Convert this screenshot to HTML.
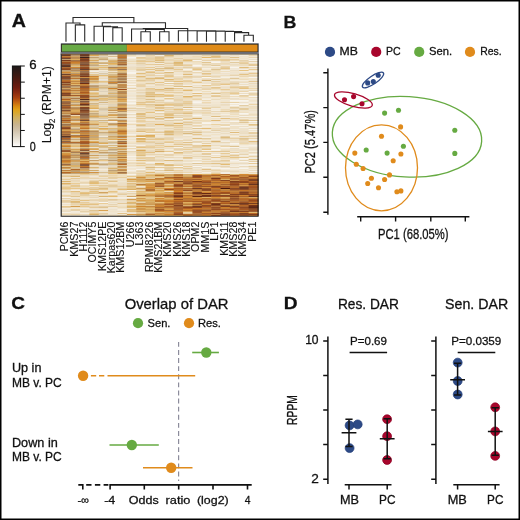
<!DOCTYPE html>
<html><head><meta charset="utf-8"><title>Figure</title>
<style>html,body{margin:0;padding:0;background:#fff;width:520px;height:520px;overflow:hidden;font-family:"Liberation Sans",sans-serif}
svg{display:block;will-change:transform}</style></head><body>
<svg width="520" height="520" viewBox="0 0 520 520">
<rect width="520" height="520" fill="#fff"/>
<style>text{stroke:#111;stroke-width:0.28px} .hl text,text.lt{stroke-width:0.12px}</style><g font-family='"Liberation Sans", sans-serif' fill="#111">
<text x="11.82" y="27.20" font-size="17.60" font-weight="bold" textLength="14.19" lengthAdjust="spacingAndGlyphs">A</text><text x="283.62" y="27.60" font-size="17.00" font-weight="bold" textLength="12.87" lengthAdjust="spacingAndGlyphs">B</text><text x="11.38" y="308.90" font-size="17.20" font-weight="bold" textLength="13.75" lengthAdjust="spacingAndGlyphs">C</text><text x="283.81" y="309.10" font-size="17.00" font-weight="bold" textLength="13.82" lengthAdjust="spacingAndGlyphs">D</text>
<path d="M75.35 41.80V24.90H84.72V41.80 M65.98 41.80V23.00H80.03V24.90 M112.82 41.80V27.70H122.18V41.80 M103.45 41.80V26.70H117.50V27.70 M94.08 41.80V26.20H110.47V26.70 M140.92 41.80V31.80H150.28V41.80 M159.65 41.80V31.80H169.02V41.80 M145.60 31.80V29.40H164.33V31.80 M131.55 41.80V29.00H154.97V29.40 M243.95 41.80V35.30H253.32V41.80 M234.58 41.80V32.60H248.63V35.30 M225.22 41.80V31.50H241.61V32.60 M215.85 41.80V31.30H233.41V31.50 M206.48 41.80V31.10H224.63V31.30 M197.12 41.80V30.90H215.56V31.10 M187.75 41.80V30.80H206.34V30.90 M178.38 41.80V30.70H197.04V30.80 M143.26 29.00V28.50H187.71V30.70 M102.28 26.20V22.70H165.49V28.50 M73.01 23.00V17.50H133.88V22.70" fill="none" stroke="#2a2a2a" stroke-width="1.1"/>
<rect x="60.6" y="42.9" width="198.4" height="11.1" rx="1" fill="#959ba8"/>
<rect x="60.6" y="52.2" width="198.4" height="1.7" fill="#8a91a2"/>
<rect x="61.05" y="43.75" width="197.3" height="8.6" fill="#2e2a22"/>
<rect x="61.95" y="44.65" width="64.92" height="6.9" fill="#68aa46"/>
<rect x="126.87" y="44.65" width="130.58" height="6.9" fill="#df8b19"/>
<rect x="61.30" y="54" width="9.97" height="1" fill="#995022"/>
<rect x="61.30" y="55" width="9.97" height="1" fill="#653b29"/>
<rect x="61.30" y="56" width="9.97" height="1" fill="#bf7f3a"/>
<rect x="61.30" y="57" width="9.97" height="1" fill="#a35a28"/>
<rect x="61.30" y="58" width="9.97" height="1" fill="#714833"/>
<rect x="61.30" y="59" width="9.97" height="1" fill="#c2a070"/>
<rect x="61.30" y="60" width="9.97" height="1" fill="#7b3a1d"/>
<rect x="61.30" y="61" width="9.97" height="1" fill="#b27840"/>
<rect x="61.30" y="62" width="9.97" height="1" fill="#9b4b1c"/>
<rect x="61.30" y="63" width="9.97" height="1" fill="#934f26"/>
<rect x="61.30" y="64" width="9.97" height="1" fill="#825b42"/>
<rect x="61.30" y="65" width="9.97" height="1" fill="#6e3720"/>
<rect x="61.30" y="66" width="9.97" height="1" fill="#563529"/>
<rect x="61.30" y="67" width="9.97" height="1" fill="#b06f36"/>
<rect x="61.30" y="68" width="9.97" height="1" fill="#9a5124"/>
<rect x="61.30" y="69" width="9.97" height="1" fill="#8b4620"/>
<rect x="61.30" y="70" width="9.97" height="1" fill="#c09d6f"/>
<rect x="61.30" y="71" width="9.97" height="1" fill="#cc9d5d"/>
<rect x="61.30" y="72" width="9.97" height="1" fill="#cf852f"/>
<rect x="61.30" y="73" width="9.97" height="1" fill="#bf9058"/>
<rect x="61.30" y="74" width="9.97" height="1" fill="#6e422c"/>
<rect x="61.30" y="75" width="9.97" height="1" fill="#b97e41"/>
<rect x="61.30" y="76" width="9.97" height="1" fill="#8d4b27"/>
<rect x="61.30" y="77" width="9.97" height="1" fill="#764a33"/>
<rect x="61.30" y="78" width="9.97" height="1" fill="#894b28"/>
<rect x="61.30" y="79" width="9.97" height="1" fill="#946d4d"/>
<rect x="61.30" y="80" width="9.97" height="1" fill="#bb702b"/>
<rect x="61.30" y="81" width="9.97" height="1" fill="#b06429"/>
<rect x="61.30" y="82" width="9.97" height="1" fill="#853f1d"/>
<rect x="61.30" y="83" width="9.97" height="1" fill="#a87d51"/>
<rect x="61.30" y="84" width="9.97" height="1" fill="#8e4d28"/>
<rect x="61.30" y="85" width="9.97" height="1" fill="#b27a43"/>
<rect x="61.30" y="86" width="9.97" height="1" fill="#977251"/>
<rect x="61.30" y="87" width="9.97" height="1" fill="#a16c40"/>
<rect x="61.30" y="88" width="9.97" height="1" fill="#d0a564"/>
<rect x="61.30" y="89" width="9.97" height="1" fill="#a27851"/>
<rect x="61.30" y="90" width="9.97" height="1" fill="#ae672e"/>
<rect x="61.30" y="91" width="9.97" height="1" fill="#c9893e"/>
<rect x="61.30" y="92" width="9.97" height="1" fill="#b67031"/>
<rect x="61.30" y="93" width="9.97" height="1" fill="#7e4225"/>
<rect x="61.30" y="94" width="9.97" height="1" fill="#925029"/>
<rect x="61.30" y="95" width="9.97" height="1" fill="#804627"/>
<rect x="61.30" y="96" width="9.97" height="1" fill="#ce9e5c"/>
<rect x="61.30" y="97" width="9.97" height="1" fill="#bfa177"/>
<rect x="61.30" y="98" width="9.97" height="1" fill="#c59253"/>
<rect x="61.30" y="99" width="9.97" height="1" fill="#af5d21"/>
<rect x="61.30" y="100" width="9.97" height="1" fill="#d8963f"/>
<rect x="61.30" y="101" width="9.97" height="1" fill="#9e7149"/>
<rect x="61.30" y="102" width="9.97" height="1" fill="#986641"/>
<rect x="61.30" y="103" width="9.97" height="1" fill="#9a6037"/>
<rect x="61.30" y="104" width="9.97" height="1" fill="#b37c44"/>
<rect x="61.30" y="105" width="9.97" height="1" fill="#88593c"/>
<rect x="61.30" y="106" width="9.97" height="1" fill="#ac652d"/>
<rect x="61.30" y="107" width="9.97" height="1" fill="#985328"/>
<rect x="61.30" y="108" width="9.97" height="1" fill="#a0673b"/>
<rect x="61.30" y="109" width="9.97" height="1" fill="#b88b57"/>
<rect x="61.30" y="110" width="9.97" height="1" fill="#834e30"/>
<rect x="61.30" y="111" width="9.97" height="1" fill="#b98043"/>
<rect x="61.30" y="112" width="9.97" height="1" fill="#cd9d5d"/>
<rect x="61.30" y="113" width="9.97" height="1" fill="#bf8848"/>
<rect x="61.30" y="114" width="9.97" height="1" fill="#cfaf7c"/>
<rect x="61.30" y="115" width="9.97" height="1" fill="#a17750"/>
<rect x="61.30" y="116" width="9.97" height="1" fill="#a0673b"/>
<rect x="61.30" y="117" width="9.97" height="1" fill="#b38f65"/>
<rect x="61.30" y="118" width="9.97" height="1" fill="#c1762c"/>
<rect x="61.30" y="119" width="9.97" height="1" fill="#c38945"/>
<rect x="61.30" y="120" width="9.97" height="1" fill="#a15220"/>
<rect x="61.30" y="121" width="9.97" height="1" fill="#b8874f"/>
<rect x="61.30" y="122" width="9.97" height="1" fill="#c2792f"/>
<rect x="61.30" y="123" width="9.97" height="1" fill="#ceaf7d"/>
<rect x="61.30" y="124" width="9.97" height="1" fill="#9c734e"/>
<rect x="61.30" y="125" width="9.97" height="1" fill="#a7835c"/>
<rect x="61.30" y="126" width="9.97" height="1" fill="#bf813f"/>
<rect x="61.30" y="127" width="9.97" height="1" fill="#915430"/>
<rect x="61.30" y="128" width="9.97" height="1" fill="#8b441e"/>
<rect x="61.30" y="129" width="9.97" height="1" fill="#c18541"/>
<rect x="61.30" y="130" width="9.97" height="1" fill="#d59f52"/>
<rect x="61.30" y="131" width="9.97" height="1" fill="#b37034"/>
<rect x="61.30" y="132" width="9.97" height="1" fill="#a86f3e"/>
<rect x="61.30" y="133" width="9.97" height="1" fill="#ba7e40"/>
<rect x="61.30" y="134" width="9.97" height="1" fill="#98613a"/>
<rect x="61.30" y="135" width="9.97" height="1" fill="#ae733e"/>
<rect x="61.30" y="136" width="9.97" height="1" fill="#5a3425"/>
<rect x="61.30" y="137" width="9.97" height="1" fill="#825b43"/>
<rect x="61.30" y="138" width="9.97" height="1" fill="#b26023"/>
<rect x="61.30" y="139" width="9.97" height="1" fill="#9a6b46"/>
<rect x="61.30" y="140" width="9.97" height="1" fill="#c7914d"/>
<rect x="61.30" y="141" width="9.97" height="1" fill="#8d6447"/>
<rect x="61.30" y="142" width="9.97" height="1" fill="#b26629"/>
<rect x="61.30" y="143" width="9.97" height="1" fill="#b38e62"/>
<rect x="61.30" y="144" width="9.97" height="1" fill="#e2ba72"/>
<rect x="61.30" y="145" width="9.97" height="1" fill="#d69642"/>
<rect x="61.30" y="146" width="9.97" height="1" fill="#c87e2c"/>
<rect x="61.30" y="147" width="9.97" height="1" fill="#c9b088"/>
<rect x="61.30" y="148" width="9.97" height="1" fill="#d9a04f"/>
<rect x="61.30" y="149" width="9.97" height="1" fill="#be9b6d"/>
<rect x="61.30" y="150" width="9.97" height="1" fill="#9b5d32"/>
<rect x="61.30" y="151" width="9.97" height="1" fill="#9a572b"/>
<rect x="61.30" y="152" width="9.97" height="1" fill="#dcb670"/>
<rect x="61.30" y="153" width="9.97" height="1" fill="#d49645"/>
<rect x="61.30" y="154" width="9.97" height="1" fill="#d2903d"/>
<rect x="61.30" y="155" width="9.97" height="1" fill="#c37b30"/>
<rect x="61.30" y="156" width="9.97" height="1" fill="#b16e33"/>
<rect x="61.30" y="157" width="9.97" height="1" fill="#b16e33"/>
<rect x="61.30" y="158" width="9.97" height="1" fill="#c08948"/>
<rect x="61.30" y="159" width="9.97" height="1" fill="#d59d4f"/>
<rect x="61.30" y="160" width="9.97" height="1" fill="#bd7834"/>
<rect x="61.30" y="161" width="9.97" height="1" fill="#c97b29"/>
<rect x="61.30" y="162" width="9.97" height="1" fill="#d09040"/>
<rect x="61.30" y="163" width="9.97" height="1" fill="#cb9b5c"/>
<rect x="61.30" y="164" width="9.97" height="1" fill="#986b47"/>
<rect x="61.30" y="165" width="9.97" height="1" fill="#c68f4b"/>
<rect x="61.30" y="166" width="9.97" height="1" fill="#e0c797"/>
<rect x="61.30" y="167" width="9.97" height="1" fill="#be8645"/>
<rect x="61.30" y="168" width="9.97" height="1" fill="#d3a45f"/>
<rect x="61.30" y="169" width="9.97" height="1" fill="#ddceb3"/>
<rect x="61.30" y="170" width="9.97" height="1" fill="#be803e"/>
<rect x="61.30" y="171" width="9.97" height="1" fill="#dbb777"/>
<rect x="61.30" y="172" width="9.97" height="1" fill="#b56726"/>
<rect x="61.30" y="173" width="9.97" height="1" fill="#bd935e"/>
<rect x="61.30" y="174" width="9.97" height="1" fill="#efdfc2"/>
<rect x="61.30" y="175" width="9.97" height="1" fill="#e5d0aa"/>
<rect x="61.30" y="176" width="9.97" height="1" fill="#e5c68e"/>
<rect x="61.30" y="177" width="9.97" height="1" fill="#f0e4ce"/>
<rect x="61.30" y="178" width="9.97" height="1" fill="#eedfc1"/>
<rect x="61.30" y="179" width="9.97" height="1" fill="#e6cb9a"/>
<rect x="61.30" y="180" width="9.97" height="1" fill="#ebdfc7"/>
<rect x="61.30" y="181" width="9.97" height="1" fill="#dbb169"/>
<rect x="61.30" y="182" width="9.97" height="1" fill="#eddcbe"/>
<rect x="61.30" y="183" width="9.97" height="1" fill="#ddb166"/>
<rect x="61.30" y="184" width="9.97" height="1" fill="#e5ca99"/>
<rect x="61.30" y="185" width="9.97" height="1" fill="#ecddc0"/>
<rect x="61.30" y="186" width="9.97" height="1" fill="#ebd3a6"/>
<rect x="61.30" y="187" width="9.97" height="1" fill="#e6c891"/>
<rect x="61.30" y="188" width="9.97" height="1" fill="#e7c588"/>
<rect x="61.30" y="189" width="9.97" height="1" fill="#ebd2a5"/>
<rect x="61.30" y="190" width="9.97" height="1" fill="#eee0c7"/>
<rect x="61.30" y="191" width="9.97" height="1" fill="#e8d4ad"/>
<rect x="61.30" y="192" width="9.97" height="1" fill="#ebddc2"/>
<rect x="61.30" y="193" width="9.97" height="1" fill="#f1e8d8"/>
<rect x="61.30" y="194" width="9.97" height="1" fill="#eee4d1"/>
<rect x="61.30" y="195" width="9.97" height="1" fill="#ead2a5"/>
<rect x="61.30" y="196" width="9.97" height="1" fill="#ecd7b0"/>
<rect x="61.30" y="197" width="9.97" height="1" fill="#f6f1e9"/>
<rect x="61.30" y="198" width="9.97" height="1" fill="#e6d1aa"/>
<rect x="61.30" y="199" width="9.97" height="1" fill="#efe4d0"/>
<rect x="61.30" y="200" width="9.97" height="1" fill="#e7cea2"/>
<rect x="61.30" y="201" width="9.97" height="1" fill="#e4cda3"/>
<rect x="61.30" y="202" width="9.97" height="1" fill="#e9d5b1"/>
<rect x="61.30" y="203" width="9.97" height="1" fill="#f2ebde"/>
<rect x="61.30" y="204" width="9.97" height="1" fill="#efe2c8"/>
<rect x="61.30" y="205" width="9.97" height="1" fill="#f4ebda"/>
<rect x="61.30" y="206" width="9.97" height="1" fill="#e6c68c"/>
<rect x="61.30" y="207" width="9.97" height="1" fill="#e5d0aa"/>
<rect x="61.30" y="208" width="9.97" height="1" fill="#f3ebdc"/>
<rect x="61.30" y="209" width="9.97" height="1" fill="#eee2cb"/>
<rect x="61.30" y="210" width="9.97" height="1" fill="#ecdec5"/>
<rect x="61.30" y="211" width="9.97" height="1" fill="#ebddc2"/>
<rect x="61.30" y="212" width="9.97" height="1" fill="#f5f0e6"/>
<rect x="61.30" y="213" width="9.97" height="1" fill="#efdfc0"/>
<rect x="61.30" y="214" width="9.97" height="1" fill="#edd9b4"/>
<rect x="61.30" y="215" width="9.97" height="1" fill="#f1e7d3"/>
<rect x="70.67" y="54" width="9.97" height="1" fill="#b88a55"/>
<rect x="70.67" y="55" width="9.97" height="1" fill="#b5946b"/>
<rect x="70.67" y="56" width="9.97" height="1" fill="#cfa364"/>
<rect x="70.67" y="57" width="9.97" height="1" fill="#ba8a52"/>
<rect x="70.67" y="58" width="9.97" height="1" fill="#be8f56"/>
<rect x="70.67" y="59" width="9.97" height="1" fill="#deaf60"/>
<rect x="70.67" y="60" width="9.97" height="1" fill="#a17248"/>
<rect x="70.67" y="61" width="9.97" height="1" fill="#b67334"/>
<rect x="70.67" y="62" width="9.97" height="1" fill="#cc802c"/>
<rect x="70.67" y="63" width="9.97" height="1" fill="#ca8a3d"/>
<rect x="70.67" y="64" width="9.97" height="1" fill="#c59d67"/>
<rect x="70.67" y="65" width="9.97" height="1" fill="#dab16b"/>
<rect x="70.67" y="66" width="9.97" height="1" fill="#dcbf8b"/>
<rect x="70.67" y="67" width="9.97" height="1" fill="#cf8733"/>
<rect x="70.67" y="68" width="9.97" height="1" fill="#a5815b"/>
<rect x="70.67" y="69" width="9.97" height="1" fill="#bb9a70"/>
<rect x="70.67" y="70" width="9.97" height="1" fill="#b58b59"/>
<rect x="70.67" y="71" width="9.97" height="1" fill="#c1a67e"/>
<rect x="70.67" y="72" width="9.97" height="1" fill="#dcb36a"/>
<rect x="70.67" y="73" width="9.97" height="1" fill="#b9986d"/>
<rect x="70.67" y="74" width="9.97" height="1" fill="#ce8836"/>
<rect x="70.67" y="75" width="9.97" height="1" fill="#ae753f"/>
<rect x="70.67" y="76" width="9.97" height="1" fill="#b28757"/>
<rect x="70.67" y="77" width="9.97" height="1" fill="#cea568"/>
<rect x="70.67" y="78" width="9.97" height="1" fill="#bb7432"/>
<rect x="70.67" y="79" width="9.97" height="1" fill="#ccb48a"/>
<rect x="70.67" y="80" width="9.97" height="1" fill="#dea855"/>
<rect x="70.67" y="81" width="9.97" height="1" fill="#c28948"/>
<rect x="70.67" y="82" width="9.97" height="1" fill="#dcac60"/>
<rect x="70.67" y="83" width="9.97" height="1" fill="#c7883f"/>
<rect x="70.67" y="84" width="9.97" height="1" fill="#e3b96d"/>
<rect x="70.67" y="85" width="9.97" height="1" fill="#a8794c"/>
<rect x="70.67" y="86" width="9.97" height="1" fill="#bd9e73"/>
<rect x="70.67" y="87" width="9.97" height="1" fill="#cdad7a"/>
<rect x="70.67" y="88" width="9.97" height="1" fill="#c3853e"/>
<rect x="70.67" y="89" width="9.97" height="1" fill="#d4a968"/>
<rect x="70.67" y="90" width="9.97" height="1" fill="#be7f3b"/>
<rect x="70.67" y="91" width="9.97" height="1" fill="#d3aa6a"/>
<rect x="70.67" y="92" width="9.97" height="1" fill="#daa556"/>
<rect x="70.67" y="93" width="9.97" height="1" fill="#b68c5b"/>
<rect x="70.67" y="94" width="9.97" height="1" fill="#ddb772"/>
<rect x="70.67" y="95" width="9.97" height="1" fill="#a35c2a"/>
<rect x="70.67" y="96" width="9.97" height="1" fill="#d6ac6a"/>
<rect x="70.67" y="97" width="9.97" height="1" fill="#cab48d"/>
<rect x="70.67" y="98" width="9.97" height="1" fill="#af7b48"/>
<rect x="70.67" y="99" width="9.97" height="1" fill="#ccb48b"/>
<rect x="70.67" y="100" width="9.97" height="1" fill="#c19964"/>
<rect x="70.67" y="101" width="9.97" height="1" fill="#e0b05f"/>
<rect x="70.67" y="102" width="9.97" height="1" fill="#c8a775"/>
<rect x="70.67" y="103" width="9.97" height="1" fill="#dcc69f"/>
<rect x="70.67" y="104" width="9.97" height="1" fill="#bea075"/>
<rect x="70.67" y="105" width="9.97" height="1" fill="#d49847"/>
<rect x="70.67" y="106" width="9.97" height="1" fill="#e3c897"/>
<rect x="70.67" y="107" width="9.97" height="1" fill="#be9561"/>
<rect x="70.67" y="108" width="9.97" height="1" fill="#b9874e"/>
<rect x="70.67" y="109" width="9.97" height="1" fill="#d09a51"/>
<rect x="70.67" y="110" width="9.97" height="1" fill="#dbab5e"/>
<rect x="70.67" y="111" width="9.97" height="1" fill="#d9a75a"/>
<rect x="70.67" y="112" width="9.97" height="1" fill="#c69251"/>
<rect x="70.67" y="113" width="9.97" height="1" fill="#bc7631"/>
<rect x="70.67" y="114" width="9.97" height="1" fill="#8e512d"/>
<rect x="70.67" y="115" width="9.97" height="1" fill="#ecd8b4"/>
<rect x="70.67" y="116" width="9.97" height="1" fill="#d3a35e"/>
<rect x="70.67" y="117" width="9.97" height="1" fill="#dba555"/>
<rect x="70.67" y="118" width="9.97" height="1" fill="#d1ae74"/>
<rect x="70.67" y="119" width="9.97" height="1" fill="#bb976a"/>
<rect x="70.67" y="120" width="9.97" height="1" fill="#ca9451"/>
<rect x="70.67" y="121" width="9.97" height="1" fill="#e5d4b4"/>
<rect x="70.67" y="122" width="9.97" height="1" fill="#e6c486"/>
<rect x="70.67" y="123" width="9.97" height="1" fill="#cc8f44"/>
<rect x="70.67" y="124" width="9.97" height="1" fill="#bf8646"/>
<rect x="70.67" y="125" width="9.97" height="1" fill="#c9a26a"/>
<rect x="70.67" y="126" width="9.97" height="1" fill="#d8ad66"/>
<rect x="70.67" y="127" width="9.97" height="1" fill="#e5cc9f"/>
<rect x="70.67" y="128" width="9.97" height="1" fill="#ceb995"/>
<rect x="70.67" y="129" width="9.97" height="1" fill="#c09e70"/>
<rect x="70.67" y="130" width="9.97" height="1" fill="#dfad5b"/>
<rect x="70.67" y="131" width="9.97" height="1" fill="#c59f6b"/>
<rect x="70.67" y="132" width="9.97" height="1" fill="#b78148"/>
<rect x="70.67" y="133" width="9.97" height="1" fill="#e2b666"/>
<rect x="70.67" y="134" width="9.97" height="1" fill="#dfd1b6"/>
<rect x="70.67" y="135" width="9.97" height="1" fill="#a77d52"/>
<rect x="70.67" y="136" width="9.97" height="1" fill="#c77d2e"/>
<rect x="70.67" y="137" width="9.97" height="1" fill="#d8a254"/>
<rect x="70.67" y="138" width="9.97" height="1" fill="#d8c8ab"/>
<rect x="70.67" y="139" width="9.97" height="1" fill="#c9a774"/>
<rect x="70.67" y="140" width="9.97" height="1" fill="#e4d1ad"/>
<rect x="70.67" y="141" width="9.97" height="1" fill="#d9bd8a"/>
<rect x="70.67" y="142" width="9.97" height="1" fill="#b26b2e"/>
<rect x="70.67" y="143" width="9.97" height="1" fill="#ba986d"/>
<rect x="70.67" y="144" width="9.97" height="1" fill="#e6c994"/>
<rect x="70.67" y="145" width="9.97" height="1" fill="#e0bf84"/>
<rect x="70.67" y="146" width="9.97" height="1" fill="#e1b871"/>
<rect x="70.67" y="147" width="9.97" height="1" fill="#ebd7b2"/>
<rect x="70.67" y="148" width="9.97" height="1" fill="#e3cb9f"/>
<rect x="70.67" y="149" width="9.97" height="1" fill="#d5a156"/>
<rect x="70.67" y="150" width="9.97" height="1" fill="#ddba7a"/>
<rect x="70.67" y="151" width="9.97" height="1" fill="#ca9858"/>
<rect x="70.67" y="152" width="9.97" height="1" fill="#a87f56"/>
<rect x="70.67" y="153" width="9.97" height="1" fill="#d7b478"/>
<rect x="70.67" y="154" width="9.97" height="1" fill="#c1a57d"/>
<rect x="70.67" y="155" width="9.97" height="1" fill="#bc8f58"/>
<rect x="70.67" y="156" width="9.97" height="1" fill="#d1aa6d"/>
<rect x="70.67" y="157" width="9.97" height="1" fill="#c29861"/>
<rect x="70.67" y="158" width="9.97" height="1" fill="#dac299"/>
<rect x="70.67" y="159" width="9.97" height="1" fill="#c2a67c"/>
<rect x="70.67" y="160" width="9.97" height="1" fill="#d09d56"/>
<rect x="70.67" y="161" width="9.97" height="1" fill="#d0a361"/>
<rect x="70.67" y="162" width="9.97" height="1" fill="#d3bc92"/>
<rect x="70.67" y="163" width="9.97" height="1" fill="#ceb180"/>
<rect x="70.67" y="164" width="9.97" height="1" fill="#c6ae87"/>
<rect x="70.67" y="165" width="9.97" height="1" fill="#d8b06b"/>
<rect x="70.67" y="166" width="9.97" height="1" fill="#dcb269"/>
<rect x="70.67" y="167" width="9.97" height="1" fill="#d5be94"/>
<rect x="70.67" y="168" width="9.97" height="1" fill="#dbbe8b"/>
<rect x="70.67" y="169" width="9.97" height="1" fill="#b36b2c"/>
<rect x="70.67" y="170" width="9.97" height="1" fill="#c29861"/>
<rect x="70.67" y="171" width="9.97" height="1" fill="#bc9e74"/>
<rect x="70.67" y="172" width="9.97" height="1" fill="#cd8b3c"/>
<rect x="70.67" y="173" width="9.97" height="1" fill="#c1a77f"/>
<rect x="70.67" y="174" width="9.97" height="1" fill="#edd9b5"/>
<rect x="70.67" y="175" width="9.97" height="1" fill="#e8d1a7"/>
<rect x="70.67" y="176" width="9.97" height="1" fill="#dab573"/>
<rect x="70.67" y="177" width="9.97" height="1" fill="#eee5d3"/>
<rect x="70.67" y="178" width="9.97" height="1" fill="#e7c891"/>
<rect x="70.67" y="179" width="9.97" height="1" fill="#ebdec6"/>
<rect x="70.67" y="180" width="9.97" height="1" fill="#ead8b9"/>
<rect x="70.67" y="181" width="9.97" height="1" fill="#ebdbbb"/>
<rect x="70.67" y="182" width="9.97" height="1" fill="#efe2c7"/>
<rect x="70.67" y="183" width="9.97" height="1" fill="#e9cc96"/>
<rect x="70.67" y="184" width="9.97" height="1" fill="#e9d9bd"/>
<rect x="70.67" y="185" width="9.97" height="1" fill="#e7c890"/>
<rect x="70.67" y="186" width="9.97" height="1" fill="#e5c994"/>
<rect x="70.67" y="187" width="9.97" height="1" fill="#e9d9bb"/>
<rect x="70.67" y="188" width="9.97" height="1" fill="#e7c68b"/>
<rect x="70.67" y="189" width="9.97" height="1" fill="#f0e4cd"/>
<rect x="70.67" y="190" width="9.97" height="1" fill="#f5ecdd"/>
<rect x="70.67" y="191" width="9.97" height="1" fill="#e2bd7d"/>
<rect x="70.67" y="192" width="9.97" height="1" fill="#ead5b0"/>
<rect x="70.67" y="193" width="9.97" height="1" fill="#e8d7b7"/>
<rect x="70.67" y="194" width="9.97" height="1" fill="#eddab6"/>
<rect x="70.67" y="195" width="9.97" height="1" fill="#eedcbb"/>
<rect x="70.67" y="196" width="9.97" height="1" fill="#e0c490"/>
<rect x="70.67" y="197" width="9.97" height="1" fill="#f0e6d4"/>
<rect x="70.67" y="198" width="9.97" height="1" fill="#ede2ce"/>
<rect x="70.67" y="199" width="9.97" height="1" fill="#e5cb9e"/>
<rect x="70.67" y="200" width="9.97" height="1" fill="#ecd9b6"/>
<rect x="70.67" y="201" width="9.97" height="1" fill="#e1ba75"/>
<rect x="70.67" y="202" width="9.97" height="1" fill="#dcbd85"/>
<rect x="70.67" y="203" width="9.97" height="1" fill="#e9d5b1"/>
<rect x="70.67" y="204" width="9.97" height="1" fill="#ead4aa"/>
<rect x="70.67" y="205" width="9.97" height="1" fill="#ecddc0"/>
<rect x="70.67" y="206" width="9.97" height="1" fill="#d59e50"/>
<rect x="70.67" y="207" width="9.97" height="1" fill="#efe1c5"/>
<rect x="70.67" y="208" width="9.97" height="1" fill="#f0e7d6"/>
<rect x="70.67" y="209" width="9.97" height="1" fill="#e9d0a2"/>
<rect x="70.67" y="210" width="9.97" height="1" fill="#e5d0aa"/>
<rect x="70.67" y="211" width="9.97" height="1" fill="#f2ebdd"/>
<rect x="70.67" y="212" width="9.97" height="1" fill="#f3ead9"/>
<rect x="70.67" y="213" width="9.97" height="1" fill="#efe2c9"/>
<rect x="70.67" y="214" width="9.97" height="1" fill="#ead2a6"/>
<rect x="70.67" y="215" width="9.97" height="1" fill="#eee2cc"/>
<rect x="80.03" y="54" width="9.97" height="1" fill="#8a3f19"/>
<rect x="80.03" y="55" width="9.97" height="1" fill="#6a3823"/>
<rect x="80.03" y="56" width="9.97" height="1" fill="#906646"/>
<rect x="80.03" y="57" width="9.97" height="1" fill="#3a201b"/>
<rect x="80.03" y="58" width="9.97" height="1" fill="#964a1e"/>
<rect x="80.03" y="59" width="9.97" height="1" fill="#764026"/>
<rect x="80.03" y="60" width="9.97" height="1" fill="#83401f"/>
<rect x="80.03" y="61" width="9.97" height="1" fill="#9a5a2f"/>
<rect x="80.03" y="62" width="9.97" height="1" fill="#8b5a3b"/>
<rect x="80.03" y="63" width="9.97" height="1" fill="#8f6243"/>
<rect x="80.03" y="64" width="9.97" height="1" fill="#7c5138"/>
<rect x="80.03" y="65" width="9.97" height="1" fill="#965127"/>
<rect x="80.03" y="66" width="9.97" height="1" fill="#a6764a"/>
<rect x="80.03" y="67" width="9.97" height="1" fill="#934c22"/>
<rect x="80.03" y="68" width="9.97" height="1" fill="#8f471f"/>
<rect x="80.03" y="69" width="9.97" height="1" fill="#66402f"/>
<rect x="80.03" y="70" width="9.97" height="1" fill="#b5763a"/>
<rect x="80.03" y="71" width="9.97" height="1" fill="#997454"/>
<rect x="80.03" y="72" width="9.97" height="1" fill="#9f724b"/>
<rect x="80.03" y="73" width="9.97" height="1" fill="#905a38"/>
<rect x="80.03" y="74" width="9.97" height="1" fill="#824829"/>
<rect x="80.03" y="75" width="9.97" height="1" fill="#885a3d"/>
<rect x="80.03" y="76" width="9.97" height="1" fill="#7d3516"/>
<rect x="80.03" y="77" width="9.97" height="1" fill="#cc9147"/>
<rect x="80.03" y="78" width="9.97" height="1" fill="#76513c"/>
<rect x="80.03" y="79" width="9.97" height="1" fill="#844e2f"/>
<rect x="80.03" y="80" width="9.97" height="1" fill="#7c523a"/>
<rect x="80.03" y="81" width="9.97" height="1" fill="#93552e"/>
<rect x="80.03" y="82" width="9.97" height="1" fill="#865e44"/>
<rect x="80.03" y="83" width="9.97" height="1" fill="#6d2d15"/>
<rect x="80.03" y="84" width="9.97" height="1" fill="#c88335"/>
<rect x="80.03" y="85" width="9.97" height="1" fill="#bb7c3b"/>
<rect x="80.03" y="86" width="9.97" height="1" fill="#9d5528"/>
<rect x="80.03" y="87" width="9.97" height="1" fill="#8c5533"/>
<rect x="80.03" y="88" width="9.97" height="1" fill="#b15f21"/>
<rect x="80.03" y="89" width="9.97" height="1" fill="#ae6b32"/>
<rect x="80.03" y="90" width="9.97" height="1" fill="#b06c32"/>
<rect x="80.03" y="91" width="9.97" height="1" fill="#c17a32"/>
<rect x="80.03" y="92" width="9.97" height="1" fill="#aa5a22"/>
<rect x="80.03" y="93" width="9.97" height="1" fill="#be722a"/>
<rect x="80.03" y="94" width="9.97" height="1" fill="#bb894e"/>
<rect x="80.03" y="95" width="9.97" height="1" fill="#974a1e"/>
<rect x="80.03" y="96" width="9.97" height="1" fill="#894c29"/>
<rect x="80.03" y="97" width="9.97" height="1" fill="#955127"/>
<rect x="80.03" y="98" width="9.97" height="1" fill="#bd7b37"/>
<rect x="80.03" y="99" width="9.97" height="1" fill="#582b1c"/>
<rect x="80.03" y="100" width="9.97" height="1" fill="#b79162"/>
<rect x="80.03" y="101" width="9.97" height="1" fill="#7f5943"/>
<rect x="80.03" y="102" width="9.97" height="1" fill="#a67549"/>
<rect x="80.03" y="103" width="9.97" height="1" fill="#a95f29"/>
<rect x="80.03" y="104" width="9.97" height="1" fill="#69331e"/>
<rect x="80.03" y="105" width="9.97" height="1" fill="#966946"/>
<rect x="80.03" y="106" width="9.97" height="1" fill="#d2a969"/>
<rect x="80.03" y="107" width="9.97" height="1" fill="#89431d"/>
<rect x="80.03" y="108" width="9.97" height="1" fill="#78472d"/>
<rect x="80.03" y="109" width="9.97" height="1" fill="#895f44"/>
<rect x="80.03" y="110" width="9.97" height="1" fill="#7b4022"/>
<rect x="80.03" y="111" width="9.97" height="1" fill="#8f532f"/>
<rect x="80.03" y="112" width="9.97" height="1" fill="#975c34"/>
<rect x="80.03" y="113" width="9.97" height="1" fill="#956d4c"/>
<rect x="80.03" y="114" width="9.97" height="1" fill="#7f5238"/>
<rect x="80.03" y="115" width="9.97" height="1" fill="#8b6449"/>
<rect x="80.03" y="116" width="9.97" height="1" fill="#987150"/>
<rect x="80.03" y="117" width="9.97" height="1" fill="#987352"/>
<rect x="80.03" y="118" width="9.97" height="1" fill="#ac855b"/>
<rect x="80.03" y="119" width="9.97" height="1" fill="#b27238"/>
<rect x="80.03" y="120" width="9.97" height="1" fill="#744a34"/>
<rect x="80.03" y="121" width="9.97" height="1" fill="#d49b4b"/>
<rect x="80.03" y="122" width="9.97" height="1" fill="#b97b3c"/>
<rect x="80.03" y="123" width="9.97" height="1" fill="#ae8356"/>
<rect x="80.03" y="124" width="9.97" height="1" fill="#9e5527"/>
<rect x="80.03" y="125" width="9.97" height="1" fill="#b8793b"/>
<rect x="80.03" y="126" width="9.97" height="1" fill="#d8a151"/>
<rect x="80.03" y="127" width="9.97" height="1" fill="#ce9144"/>
<rect x="80.03" y="128" width="9.97" height="1" fill="#c37328"/>
<rect x="80.03" y="129" width="9.97" height="1" fill="#d5b57d"/>
<rect x="80.03" y="130" width="9.97" height="1" fill="#ad8255"/>
<rect x="80.03" y="131" width="9.97" height="1" fill="#b96d2a"/>
<rect x="80.03" y="132" width="9.97" height="1" fill="#b8854c"/>
<rect x="80.03" y="133" width="9.97" height="1" fill="#c7863b"/>
<rect x="80.03" y="134" width="9.97" height="1" fill="#c8924e"/>
<rect x="80.03" y="135" width="9.97" height="1" fill="#95613b"/>
<rect x="80.03" y="136" width="9.97" height="1" fill="#ca7c29"/>
<rect x="80.03" y="137" width="9.97" height="1" fill="#9d673d"/>
<rect x="80.03" y="138" width="9.97" height="1" fill="#b58854"/>
<rect x="80.03" y="139" width="9.97" height="1" fill="#a07249"/>
<rect x="80.03" y="140" width="9.97" height="1" fill="#cb9b5b"/>
<rect x="80.03" y="141" width="9.97" height="1" fill="#af6126"/>
<rect x="80.03" y="142" width="9.97" height="1" fill="#a55522"/>
<rect x="80.03" y="143" width="9.97" height="1" fill="#9c5d32"/>
<rect x="80.03" y="144" width="9.97" height="1" fill="#c49961"/>
<rect x="80.03" y="145" width="9.97" height="1" fill="#ca7f2d"/>
<rect x="80.03" y="146" width="9.97" height="1" fill="#b0763f"/>
<rect x="80.03" y="147" width="9.97" height="1" fill="#e4bd78"/>
<rect x="80.03" y="148" width="9.97" height="1" fill="#bb9b72"/>
<rect x="80.03" y="149" width="9.97" height="1" fill="#b96e2b"/>
<rect x="80.03" y="150" width="9.97" height="1" fill="#885738"/>
<rect x="80.03" y="151" width="9.97" height="1" fill="#ceb385"/>
<rect x="80.03" y="152" width="9.97" height="1" fill="#995c33"/>
<rect x="80.03" y="153" width="9.97" height="1" fill="#674433"/>
<rect x="80.03" y="154" width="9.97" height="1" fill="#9d6f48"/>
<rect x="80.03" y="155" width="9.97" height="1" fill="#aa835a"/>
<rect x="80.03" y="156" width="9.97" height="1" fill="#996943"/>
<rect x="80.03" y="157" width="9.97" height="1" fill="#b06529"/>
<rect x="80.03" y="158" width="9.97" height="1" fill="#a5794f"/>
<rect x="80.03" y="159" width="9.97" height="1" fill="#d19140"/>
<rect x="80.03" y="160" width="9.97" height="1" fill="#dcb369"/>
<rect x="80.03" y="161" width="9.97" height="1" fill="#c48037"/>
<rect x="80.03" y="162" width="9.97" height="1" fill="#dba24f"/>
<rect x="80.03" y="163" width="9.97" height="1" fill="#bd762f"/>
<rect x="80.03" y="164" width="9.97" height="1" fill="#875435"/>
<rect x="80.03" y="165" width="9.97" height="1" fill="#81573e"/>
<rect x="80.03" y="166" width="9.97" height="1" fill="#c4792d"/>
<rect x="80.03" y="167" width="9.97" height="1" fill="#975c35"/>
<rect x="80.03" y="168" width="9.97" height="1" fill="#bd9a6d"/>
<rect x="80.03" y="169" width="9.97" height="1" fill="#c99d61"/>
<rect x="80.03" y="170" width="9.97" height="1" fill="#daa656"/>
<rect x="80.03" y="171" width="9.97" height="1" fill="#c6af89"/>
<rect x="80.03" y="172" width="9.97" height="1" fill="#b78d5b"/>
<rect x="80.03" y="173" width="9.97" height="1" fill="#d7a961"/>
<rect x="80.03" y="174" width="9.97" height="1" fill="#e7cc9b"/>
<rect x="80.03" y="175" width="9.97" height="1" fill="#eadbbf"/>
<rect x="80.03" y="176" width="9.97" height="1" fill="#ecdfc6"/>
<rect x="80.03" y="177" width="9.97" height="1" fill="#ecd5ab"/>
<rect x="80.03" y="178" width="9.97" height="1" fill="#e9d6b3"/>
<rect x="80.03" y="179" width="9.97" height="1" fill="#eee3cf"/>
<rect x="80.03" y="180" width="9.97" height="1" fill="#f2e8d5"/>
<rect x="80.03" y="181" width="9.97" height="1" fill="#f0e2c7"/>
<rect x="80.03" y="182" width="9.97" height="1" fill="#e9d5b1"/>
<rect x="80.03" y="183" width="9.97" height="1" fill="#ebdab9"/>
<rect x="80.03" y="184" width="9.97" height="1" fill="#f6efe1"/>
<rect x="80.03" y="185" width="9.97" height="1" fill="#eedfc1"/>
<rect x="80.03" y="186" width="9.97" height="1" fill="#eddbb8"/>
<rect x="80.03" y="187" width="9.97" height="1" fill="#edddbf"/>
<rect x="80.03" y="188" width="9.97" height="1" fill="#e5c78f"/>
<rect x="80.03" y="189" width="9.97" height="1" fill="#e8d2aa"/>
<rect x="80.03" y="190" width="9.97" height="1" fill="#efe3ce"/>
<rect x="80.03" y="191" width="9.97" height="1" fill="#eee1c8"/>
<rect x="80.03" y="192" width="9.97" height="1" fill="#e5c488"/>
<rect x="80.03" y="193" width="9.97" height="1" fill="#e3bb75"/>
<rect x="80.03" y="194" width="9.97" height="1" fill="#e3cca1"/>
<rect x="80.03" y="195" width="9.97" height="1" fill="#e5cfa5"/>
<rect x="80.03" y="196" width="9.97" height="1" fill="#eedebd"/>
<rect x="80.03" y="197" width="9.97" height="1" fill="#ede0c8"/>
<rect x="80.03" y="198" width="9.97" height="1" fill="#f1e8d7"/>
<rect x="80.03" y="199" width="9.97" height="1" fill="#ede0c5"/>
<rect x="80.03" y="200" width="9.97" height="1" fill="#e4c285"/>
<rect x="80.03" y="201" width="9.97" height="1" fill="#ede2cd"/>
<rect x="80.03" y="202" width="9.97" height="1" fill="#e6cc9c"/>
<rect x="80.03" y="203" width="9.97" height="1" fill="#ead4ac"/>
<rect x="80.03" y="204" width="9.97" height="1" fill="#e6c17e"/>
<rect x="80.03" y="205" width="9.97" height="1" fill="#e9d5b1"/>
<rect x="80.03" y="206" width="9.97" height="1" fill="#e7c891"/>
<rect x="80.03" y="207" width="9.97" height="1" fill="#ecdec3"/>
<rect x="80.03" y="208" width="9.97" height="1" fill="#f2ecdf"/>
<rect x="80.03" y="209" width="9.97" height="1" fill="#eddebf"/>
<rect x="80.03" y="210" width="9.97" height="1" fill="#f0e0c3"/>
<rect x="80.03" y="211" width="9.97" height="1" fill="#e5d1ab"/>
<rect x="80.03" y="212" width="9.97" height="1" fill="#f0e2c6"/>
<rect x="80.03" y="213" width="9.97" height="1" fill="#f3ede0"/>
<rect x="80.03" y="214" width="9.97" height="1" fill="#e9d8b9"/>
<rect x="80.03" y="215" width="9.97" height="1" fill="#f3ebda"/>
<rect x="89.40" y="54" width="9.97" height="1" fill="#dfba78"/>
<rect x="89.40" y="55" width="9.97" height="1" fill="#dda855"/>
<rect x="89.40" y="56" width="9.97" height="1" fill="#dfcdac"/>
<rect x="89.40" y="57" width="9.97" height="1" fill="#c09e70"/>
<rect x="89.40" y="58" width="9.97" height="1" fill="#dec79c"/>
<rect x="89.40" y="59" width="9.97" height="1" fill="#e1cba1"/>
<rect x="89.40" y="60" width="9.97" height="1" fill="#d6a65d"/>
<rect x="89.40" y="61" width="9.97" height="1" fill="#e0cdab"/>
<rect x="89.40" y="62" width="9.97" height="1" fill="#c0a074"/>
<rect x="89.40" y="63" width="9.97" height="1" fill="#e3b96e"/>
<rect x="89.40" y="64" width="9.97" height="1" fill="#d1b788"/>
<rect x="89.40" y="65" width="9.97" height="1" fill="#c4a980"/>
<rect x="89.40" y="66" width="9.97" height="1" fill="#dbcbae"/>
<rect x="89.40" y="67" width="9.97" height="1" fill="#e0c38d"/>
<rect x="89.40" y="68" width="9.97" height="1" fill="#d2b27c"/>
<rect x="89.40" y="69" width="9.97" height="1" fill="#b5844f"/>
<rect x="89.40" y="70" width="9.97" height="1" fill="#ede3cf"/>
<rect x="89.40" y="71" width="9.97" height="1" fill="#f2eee7"/>
<rect x="89.40" y="72" width="9.97" height="1" fill="#e4d0aa"/>
<rect x="89.40" y="73" width="9.97" height="1" fill="#eae1d0"/>
<rect x="89.40" y="74" width="9.97" height="1" fill="#e3c690"/>
<rect x="89.40" y="75" width="9.97" height="1" fill="#dbc296"/>
<rect x="89.40" y="76" width="9.97" height="1" fill="#cd8633"/>
<rect x="89.40" y="77" width="9.97" height="1" fill="#dda956"/>
<rect x="89.40" y="78" width="9.97" height="1" fill="#c88d45"/>
<rect x="89.40" y="79" width="9.97" height="1" fill="#d29443"/>
<rect x="89.40" y="80" width="9.97" height="1" fill="#d6bc8d"/>
<rect x="89.40" y="81" width="9.97" height="1" fill="#cca76f"/>
<rect x="89.40" y="82" width="9.97" height="1" fill="#e4be7c"/>
<rect x="89.40" y="83" width="9.97" height="1" fill="#e0cdaa"/>
<rect x="89.40" y="84" width="9.97" height="1" fill="#e4d9c3"/>
<rect x="89.40" y="85" width="9.97" height="1" fill="#c3a57a"/>
<rect x="89.40" y="86" width="9.97" height="1" fill="#ba976c"/>
<rect x="89.40" y="87" width="9.97" height="1" fill="#c5ab83"/>
<rect x="89.40" y="88" width="9.97" height="1" fill="#daa657"/>
<rect x="89.40" y="89" width="9.97" height="1" fill="#dfad5c"/>
<rect x="89.40" y="90" width="9.97" height="1" fill="#cca872"/>
<rect x="89.40" y="91" width="9.97" height="1" fill="#e9e0d0"/>
<rect x="89.40" y="92" width="9.97" height="1" fill="#e7ca96"/>
<rect x="89.40" y="93" width="9.97" height="1" fill="#e2b972"/>
<rect x="89.40" y="94" width="9.97" height="1" fill="#e0c28b"/>
<rect x="89.40" y="95" width="9.97" height="1" fill="#e0c696"/>
<rect x="89.40" y="96" width="9.97" height="1" fill="#d4a45c"/>
<rect x="89.40" y="97" width="9.97" height="1" fill="#dbc8a4"/>
<rect x="89.40" y="98" width="9.97" height="1" fill="#d7c7aa"/>
<rect x="89.40" y="99" width="9.97" height="1" fill="#cb9e5f"/>
<rect x="89.40" y="100" width="9.97" height="1" fill="#e4bd78"/>
<rect x="89.40" y="101" width="9.97" height="1" fill="#e6d4b2"/>
<rect x="89.40" y="102" width="9.97" height="1" fill="#ebdbbf"/>
<rect x="89.40" y="103" width="9.97" height="1" fill="#d2b684"/>
<rect x="89.40" y="104" width="9.97" height="1" fill="#d7c4a2"/>
<rect x="89.40" y="105" width="9.97" height="1" fill="#e3be7c"/>
<rect x="89.40" y="106" width="9.97" height="1" fill="#e7c484"/>
<rect x="89.40" y="107" width="9.97" height="1" fill="#e1bd7d"/>
<rect x="89.40" y="108" width="9.97" height="1" fill="#e0ae5b"/>
<rect x="89.40" y="109" width="9.97" height="1" fill="#eee4d1"/>
<rect x="89.40" y="110" width="9.97" height="1" fill="#e8d0a4"/>
<rect x="89.40" y="111" width="9.97" height="1" fill="#d7b57a"/>
<rect x="89.40" y="112" width="9.97" height="1" fill="#e6cfa5"/>
<rect x="89.40" y="113" width="9.97" height="1" fill="#c4aa81"/>
<rect x="89.40" y="114" width="9.97" height="1" fill="#d4b988"/>
<rect x="89.40" y="115" width="9.97" height="1" fill="#d5b378"/>
<rect x="89.40" y="116" width="9.97" height="1" fill="#dba656"/>
<rect x="89.40" y="117" width="9.97" height="1" fill="#d0b788"/>
<rect x="89.40" y="118" width="9.97" height="1" fill="#e2d1b1"/>
<rect x="89.40" y="119" width="9.97" height="1" fill="#ece0c8"/>
<rect x="89.40" y="120" width="9.97" height="1" fill="#d4c09c"/>
<rect x="89.40" y="121" width="9.97" height="1" fill="#e4c387"/>
<rect x="89.40" y="122" width="9.97" height="1" fill="#e4c690"/>
<rect x="89.40" y="123" width="9.97" height="1" fill="#dfbc7c"/>
<rect x="89.40" y="124" width="9.97" height="1" fill="#cb9550"/>
<rect x="89.40" y="125" width="9.97" height="1" fill="#d6c4a3"/>
<rect x="89.40" y="126" width="9.97" height="1" fill="#e1cda7"/>
<rect x="89.40" y="127" width="9.97" height="1" fill="#d6bf96"/>
<rect x="89.40" y="128" width="9.97" height="1" fill="#dbb777"/>
<rect x="89.40" y="129" width="9.97" height="1" fill="#ecdfc5"/>
<rect x="89.40" y="130" width="9.97" height="1" fill="#d0b17d"/>
<rect x="89.40" y="131" width="9.97" height="1" fill="#bb8f5a"/>
<rect x="89.40" y="132" width="9.97" height="1" fill="#c7a574"/>
<rect x="89.40" y="133" width="9.97" height="1" fill="#cda66c"/>
<rect x="89.40" y="134" width="9.97" height="1" fill="#c6a97e"/>
<rect x="89.40" y="135" width="9.97" height="1" fill="#d7a55b"/>
<rect x="89.40" y="136" width="9.97" height="1" fill="#c9a571"/>
<rect x="89.40" y="137" width="9.97" height="1" fill="#c5a678"/>
<rect x="89.40" y="138" width="9.97" height="1" fill="#daaf67"/>
<rect x="89.40" y="139" width="9.97" height="1" fill="#d7ab66"/>
<rect x="89.40" y="140" width="9.97" height="1" fill="#e9d7b7"/>
<rect x="89.40" y="141" width="9.97" height="1" fill="#dbb065"/>
<rect x="89.40" y="142" width="9.97" height="1" fill="#d18c38"/>
<rect x="89.40" y="143" width="9.97" height="1" fill="#d0bd9a"/>
<rect x="89.40" y="144" width="9.97" height="1" fill="#d2c1a2"/>
<rect x="89.40" y="145" width="9.97" height="1" fill="#d1b88b"/>
<rect x="89.40" y="146" width="9.97" height="1" fill="#deb56d"/>
<rect x="89.40" y="147" width="9.97" height="1" fill="#ebe1cf"/>
<rect x="89.40" y="148" width="9.97" height="1" fill="#d8b373"/>
<rect x="89.40" y="149" width="9.97" height="1" fill="#dca654"/>
<rect x="89.40" y="150" width="9.97" height="1" fill="#ebe2d2"/>
<rect x="89.40" y="151" width="9.97" height="1" fill="#c69353"/>
<rect x="89.40" y="152" width="9.97" height="1" fill="#e5c58d"/>
<rect x="89.40" y="153" width="9.97" height="1" fill="#e2cfad"/>
<rect x="89.40" y="154" width="9.97" height="1" fill="#e0d5bf"/>
<rect x="89.40" y="155" width="9.97" height="1" fill="#cfa15f"/>
<rect x="89.40" y="156" width="9.97" height="1" fill="#e9d9bc"/>
<rect x="89.40" y="157" width="9.97" height="1" fill="#e1bf84"/>
<rect x="89.40" y="158" width="9.97" height="1" fill="#dccbab"/>
<rect x="89.40" y="159" width="9.97" height="1" fill="#ece4d5"/>
<rect x="89.40" y="160" width="9.97" height="1" fill="#c79e67"/>
<rect x="89.40" y="161" width="9.97" height="1" fill="#e6d4b4"/>
<rect x="89.40" y="162" width="9.97" height="1" fill="#e9d0a2"/>
<rect x="89.40" y="163" width="9.97" height="1" fill="#ca9552"/>
<rect x="89.40" y="164" width="9.97" height="1" fill="#cca76f"/>
<rect x="89.40" y="165" width="9.97" height="1" fill="#eddfc4"/>
<rect x="89.40" y="166" width="9.97" height="1" fill="#e9dec9"/>
<rect x="89.40" y="167" width="9.97" height="1" fill="#d8b475"/>
<rect x="89.40" y="168" width="9.97" height="1" fill="#e9d3ab"/>
<rect x="89.40" y="169" width="9.97" height="1" fill="#ede4d4"/>
<rect x="89.40" y="170" width="9.97" height="1" fill="#d1aa6c"/>
<rect x="89.40" y="171" width="9.97" height="1" fill="#e4dccb"/>
<rect x="89.40" y="172" width="9.97" height="1" fill="#d19242"/>
<rect x="89.40" y="173" width="9.97" height="1" fill="#d8c4a0"/>
<rect x="89.40" y="174" width="9.97" height="1" fill="#e9cf9d"/>
<rect x="89.40" y="175" width="9.97" height="1" fill="#eddfc6"/>
<rect x="89.40" y="176" width="9.97" height="1" fill="#f2e8d6"/>
<rect x="89.40" y="177" width="9.97" height="1" fill="#eddec4"/>
<rect x="89.40" y="178" width="9.97" height="1" fill="#e9d2a8"/>
<rect x="89.40" y="179" width="9.97" height="1" fill="#efe6d5"/>
<rect x="89.40" y="180" width="9.97" height="1" fill="#ead6b1"/>
<rect x="89.40" y="181" width="9.97" height="1" fill="#e0c38e"/>
<rect x="89.40" y="182" width="9.97" height="1" fill="#e1bc7a"/>
<rect x="89.40" y="183" width="9.97" height="1" fill="#e3bb72"/>
<rect x="89.40" y="184" width="9.97" height="1" fill="#eeddbb"/>
<rect x="89.40" y="185" width="9.97" height="1" fill="#e6cd9e"/>
<rect x="89.40" y="186" width="9.97" height="1" fill="#f1e7d4"/>
<rect x="89.40" y="187" width="9.97" height="1" fill="#e8ce9f"/>
<rect x="89.40" y="188" width="9.97" height="1" fill="#e4cfa8"/>
<rect x="89.40" y="189" width="9.97" height="1" fill="#e2c187"/>
<rect x="89.40" y="190" width="9.97" height="1" fill="#ebd9b8"/>
<rect x="89.40" y="191" width="9.97" height="1" fill="#e4c285"/>
<rect x="89.40" y="192" width="9.97" height="1" fill="#e2cb9d"/>
<rect x="89.40" y="193" width="9.97" height="1" fill="#e2c58f"/>
<rect x="89.40" y="194" width="9.97" height="1" fill="#f3ead7"/>
<rect x="89.40" y="195" width="9.97" height="1" fill="#e7d7b9"/>
<rect x="89.40" y="196" width="9.97" height="1" fill="#ece0c8"/>
<rect x="89.40" y="197" width="9.97" height="1" fill="#e8d7b8"/>
<rect x="89.40" y="198" width="9.97" height="1" fill="#f2e8d5"/>
<rect x="89.40" y="199" width="9.97" height="1" fill="#ecd9b4"/>
<rect x="89.40" y="200" width="9.97" height="1" fill="#e6d3b1"/>
<rect x="89.40" y="201" width="9.97" height="1" fill="#f0e4cc"/>
<rect x="89.40" y="202" width="9.97" height="1" fill="#f0e3cc"/>
<rect x="89.40" y="203" width="9.97" height="1" fill="#e9d1a3"/>
<rect x="89.40" y="204" width="9.97" height="1" fill="#e4c184"/>
<rect x="89.40" y="205" width="9.97" height="1" fill="#eedec1"/>
<rect x="89.40" y="206" width="9.97" height="1" fill="#ead7b3"/>
<rect x="89.40" y="207" width="9.97" height="1" fill="#e4c99a"/>
<rect x="89.40" y="208" width="9.97" height="1" fill="#eee3cf"/>
<rect x="89.40" y="209" width="9.97" height="1" fill="#efe5d1"/>
<rect x="89.40" y="210" width="9.97" height="1" fill="#dec28f"/>
<rect x="89.40" y="211" width="9.97" height="1" fill="#e7d3ae"/>
<rect x="89.40" y="212" width="9.97" height="1" fill="#e9d7b6"/>
<rect x="89.40" y="213" width="9.97" height="1" fill="#e8c88d"/>
<rect x="89.40" y="214" width="9.97" height="1" fill="#d9b06a"/>
<rect x="89.40" y="215" width="9.97" height="1" fill="#eedfc2"/>
<rect x="98.77" y="54" width="9.97" height="1" fill="#e2c289"/>
<rect x="98.77" y="55" width="9.97" height="1" fill="#d7c19a"/>
<rect x="98.77" y="56" width="9.97" height="1" fill="#ded1b8"/>
<rect x="98.77" y="57" width="9.97" height="1" fill="#d8c39e"/>
<rect x="98.77" y="58" width="9.97" height="1" fill="#d7bb8a"/>
<rect x="98.77" y="59" width="9.97" height="1" fill="#c8a979"/>
<rect x="98.77" y="60" width="9.97" height="1" fill="#e3d7c0"/>
<rect x="98.77" y="61" width="9.97" height="1" fill="#ebe4d6"/>
<rect x="98.77" y="62" width="9.97" height="1" fill="#d9bc87"/>
<rect x="98.77" y="63" width="9.97" height="1" fill="#cdae7d"/>
<rect x="98.77" y="64" width="9.97" height="1" fill="#eee5d4"/>
<rect x="98.77" y="65" width="9.97" height="1" fill="#debb7a"/>
<rect x="98.77" y="66" width="9.97" height="1" fill="#e4d2af"/>
<rect x="98.77" y="67" width="9.97" height="1" fill="#e3bb74"/>
<rect x="98.77" y="68" width="9.97" height="1" fill="#e4d2af"/>
<rect x="98.77" y="69" width="9.97" height="1" fill="#dfc699"/>
<rect x="98.77" y="70" width="9.97" height="1" fill="#f4ebd9"/>
<rect x="98.77" y="71" width="9.97" height="1" fill="#e6ddca"/>
<rect x="98.77" y="72" width="9.97" height="1" fill="#ebe2d1"/>
<rect x="98.77" y="73" width="9.97" height="1" fill="#dac9a9"/>
<rect x="98.77" y="74" width="9.97" height="1" fill="#e1d7c3"/>
<rect x="98.77" y="75" width="9.97" height="1" fill="#e3bd78"/>
<rect x="98.77" y="76" width="9.97" height="1" fill="#edd8b3"/>
<rect x="98.77" y="77" width="9.97" height="1" fill="#eadfcc"/>
<rect x="98.77" y="78" width="9.97" height="1" fill="#eadabd"/>
<rect x="98.77" y="79" width="9.97" height="1" fill="#ece7dd"/>
<rect x="98.77" y="80" width="9.97" height="1" fill="#e8e1d2"/>
<rect x="98.77" y="81" width="9.97" height="1" fill="#e5c384"/>
<rect x="98.77" y="82" width="9.97" height="1" fill="#e4cda2"/>
<rect x="98.77" y="83" width="9.97" height="1" fill="#e7decd"/>
<rect x="98.77" y="84" width="9.97" height="1" fill="#e9dcc4"/>
<rect x="98.77" y="85" width="9.97" height="1" fill="#d6c099"/>
<rect x="98.77" y="86" width="9.97" height="1" fill="#e1c99b"/>
<rect x="98.77" y="87" width="9.97" height="1" fill="#d7b984"/>
<rect x="98.77" y="88" width="9.97" height="1" fill="#d6c29d"/>
<rect x="98.77" y="89" width="9.97" height="1" fill="#e8d7b8"/>
<rect x="98.77" y="90" width="9.97" height="1" fill="#e9dcc4"/>
<rect x="98.77" y="91" width="9.97" height="1" fill="#ddd1bb"/>
<rect x="98.77" y="92" width="9.97" height="1" fill="#ecdfc6"/>
<rect x="98.77" y="93" width="9.97" height="1" fill="#ecdfc5"/>
<rect x="98.77" y="94" width="9.97" height="1" fill="#e5d8be"/>
<rect x="98.77" y="95" width="9.97" height="1" fill="#cfb485"/>
<rect x="98.77" y="96" width="9.97" height="1" fill="#c9ae83"/>
<rect x="98.77" y="97" width="9.97" height="1" fill="#e1cda7"/>
<rect x="98.77" y="98" width="9.97" height="1" fill="#e4bc75"/>
<rect x="98.77" y="99" width="9.97" height="1" fill="#e2c084"/>
<rect x="98.77" y="100" width="9.97" height="1" fill="#d9c196"/>
<rect x="98.77" y="101" width="9.97" height="1" fill="#e5dac5"/>
<rect x="98.77" y="102" width="9.97" height="1" fill="#d5b884"/>
<rect x="98.77" y="103" width="9.97" height="1" fill="#e9ddc9"/>
<rect x="98.77" y="104" width="9.97" height="1" fill="#e2d3b5"/>
<rect x="98.77" y="105" width="9.97" height="1" fill="#eee1c8"/>
<rect x="98.77" y="106" width="9.97" height="1" fill="#e7decb"/>
<rect x="98.77" y="107" width="9.97" height="1" fill="#ecdab7"/>
<rect x="98.77" y="108" width="9.97" height="1" fill="#dbc8a6"/>
<rect x="98.77" y="109" width="9.97" height="1" fill="#d6c5a5"/>
<rect x="98.77" y="110" width="9.97" height="1" fill="#dfd0b5"/>
<rect x="98.77" y="111" width="9.97" height="1" fill="#e5dac5"/>
<rect x="98.77" y="112" width="9.97" height="1" fill="#ead9ba"/>
<rect x="98.77" y="113" width="9.97" height="1" fill="#e9d9bb"/>
<rect x="98.77" y="114" width="9.97" height="1" fill="#e3d3b4"/>
<rect x="98.77" y="115" width="9.97" height="1" fill="#d3c09e"/>
<rect x="98.77" y="116" width="9.97" height="1" fill="#e2b96e"/>
<rect x="98.77" y="117" width="9.97" height="1" fill="#e7cb99"/>
<rect x="98.77" y="118" width="9.97" height="1" fill="#dacaae"/>
<rect x="98.77" y="119" width="9.97" height="1" fill="#ede2ce"/>
<rect x="98.77" y="120" width="9.97" height="1" fill="#d4b57f"/>
<rect x="98.77" y="121" width="9.97" height="1" fill="#e2d7c3"/>
<rect x="98.77" y="122" width="9.97" height="1" fill="#ddc18c"/>
<rect x="98.77" y="123" width="9.97" height="1" fill="#e9cf9f"/>
<rect x="98.77" y="124" width="9.97" height="1" fill="#e8ce9f"/>
<rect x="98.77" y="125" width="9.97" height="1" fill="#ebd4a9"/>
<rect x="98.77" y="126" width="9.97" height="1" fill="#e2bb77"/>
<rect x="98.77" y="127" width="9.97" height="1" fill="#e4dbc9"/>
<rect x="98.77" y="128" width="9.97" height="1" fill="#dcab5d"/>
<rect x="98.77" y="129" width="9.97" height="1" fill="#e5be79"/>
<rect x="98.77" y="130" width="9.97" height="1" fill="#e4d7be"/>
<rect x="98.77" y="131" width="9.97" height="1" fill="#ead6b1"/>
<rect x="98.77" y="132" width="9.97" height="1" fill="#cbab78"/>
<rect x="98.77" y="133" width="9.97" height="1" fill="#d7c4a3"/>
<rect x="98.77" y="134" width="9.97" height="1" fill="#e1cfad"/>
<rect x="98.77" y="135" width="9.97" height="1" fill="#e3d5b9"/>
<rect x="98.77" y="136" width="9.97" height="1" fill="#f1e7d5"/>
<rect x="98.77" y="137" width="9.97" height="1" fill="#d4c3a3"/>
<rect x="98.77" y="138" width="9.97" height="1" fill="#e9cc97"/>
<rect x="98.77" y="139" width="9.97" height="1" fill="#e1cfaf"/>
<rect x="98.77" y="140" width="9.97" height="1" fill="#e7d3af"/>
<rect x="98.77" y="141" width="9.97" height="1" fill="#e0d0b2"/>
<rect x="98.77" y="142" width="9.97" height="1" fill="#d8b87f"/>
<rect x="98.77" y="143" width="9.97" height="1" fill="#ddab5a"/>
<rect x="98.77" y="144" width="9.97" height="1" fill="#eee4d0"/>
<rect x="98.77" y="145" width="9.97" height="1" fill="#d9c197"/>
<rect x="98.77" y="146" width="9.97" height="1" fill="#dbb778"/>
<rect x="98.77" y="147" width="9.97" height="1" fill="#d8bf92"/>
<rect x="98.77" y="148" width="9.97" height="1" fill="#ebddc3"/>
<rect x="98.77" y="149" width="9.97" height="1" fill="#e4d9c2"/>
<rect x="98.77" y="150" width="9.97" height="1" fill="#d7b883"/>
<rect x="98.77" y="151" width="9.97" height="1" fill="#e7d2ac"/>
<rect x="98.77" y="152" width="9.97" height="1" fill="#c49d69"/>
<rect x="98.77" y="153" width="9.97" height="1" fill="#d5c099"/>
<rect x="98.77" y="154" width="9.97" height="1" fill="#e4dbca"/>
<rect x="98.77" y="155" width="9.97" height="1" fill="#d0b88d"/>
<rect x="98.77" y="156" width="9.97" height="1" fill="#eadcc2"/>
<rect x="98.77" y="157" width="9.97" height="1" fill="#e0d4bd"/>
<rect x="98.77" y="158" width="9.97" height="1" fill="#ece3d1"/>
<rect x="98.77" y="159" width="9.97" height="1" fill="#d4c09c"/>
<rect x="98.77" y="160" width="9.97" height="1" fill="#e7c588"/>
<rect x="98.77" y="161" width="9.97" height="1" fill="#ecddc2"/>
<rect x="98.77" y="162" width="9.97" height="1" fill="#ece4d7"/>
<rect x="98.77" y="163" width="9.97" height="1" fill="#d5c29f"/>
<rect x="98.77" y="164" width="9.97" height="1" fill="#c7a879"/>
<rect x="98.77" y="165" width="9.97" height="1" fill="#dbcaad"/>
<rect x="98.77" y="166" width="9.97" height="1" fill="#eae2d3"/>
<rect x="98.77" y="167" width="9.97" height="1" fill="#e3d8c2"/>
<rect x="98.77" y="168" width="9.97" height="1" fill="#ecdfc7"/>
<rect x="98.77" y="169" width="9.97" height="1" fill="#f4ecdc"/>
<rect x="98.77" y="170" width="9.97" height="1" fill="#f0e3cc"/>
<rect x="98.77" y="171" width="9.97" height="1" fill="#e9e0cd"/>
<rect x="98.77" y="172" width="9.97" height="1" fill="#d9bf91"/>
<rect x="98.77" y="173" width="9.97" height="1" fill="#e8ddc8"/>
<rect x="98.77" y="174" width="9.97" height="1" fill="#f0e5cf"/>
<rect x="98.77" y="175" width="9.97" height="1" fill="#e8d5b2"/>
<rect x="98.77" y="176" width="9.97" height="1" fill="#e9d0a0"/>
<rect x="98.77" y="177" width="9.97" height="1" fill="#efe4d1"/>
<rect x="98.77" y="178" width="9.97" height="1" fill="#e9d7b6"/>
<rect x="98.77" y="179" width="9.97" height="1" fill="#eee3ce"/>
<rect x="98.77" y="180" width="9.97" height="1" fill="#e5c998"/>
<rect x="98.77" y="181" width="9.97" height="1" fill="#eee3cb"/>
<rect x="98.77" y="182" width="9.97" height="1" fill="#ebd7b2"/>
<rect x="98.77" y="183" width="9.97" height="1" fill="#e6cea5"/>
<rect x="98.77" y="184" width="9.97" height="1" fill="#f0e3cb"/>
<rect x="98.77" y="185" width="9.97" height="1" fill="#e4c998"/>
<rect x="98.77" y="186" width="9.97" height="1" fill="#e6d4b3"/>
<rect x="98.77" y="187" width="9.97" height="1" fill="#e9d4ab"/>
<rect x="98.77" y="188" width="9.97" height="1" fill="#ddbd83"/>
<rect x="98.77" y="189" width="9.97" height="1" fill="#e7c992"/>
<rect x="98.77" y="190" width="9.97" height="1" fill="#f0e5cf"/>
<rect x="98.77" y="191" width="9.97" height="1" fill="#f0e2c7"/>
<rect x="98.77" y="192" width="9.97" height="1" fill="#d1a360"/>
<rect x="98.77" y="193" width="9.97" height="1" fill="#e6ca9a"/>
<rect x="98.77" y="194" width="9.97" height="1" fill="#efe4d0"/>
<rect x="98.77" y="195" width="9.97" height="1" fill="#ecdec2"/>
<rect x="98.77" y="196" width="9.97" height="1" fill="#d9b574"/>
<rect x="98.77" y="197" width="9.97" height="1" fill="#f1e9da"/>
<rect x="98.77" y="198" width="9.97" height="1" fill="#eedfc2"/>
<rect x="98.77" y="199" width="9.97" height="1" fill="#ebd5ac"/>
<rect x="98.77" y="200" width="9.97" height="1" fill="#e8d4ae"/>
<rect x="98.77" y="201" width="9.97" height="1" fill="#e8d7b7"/>
<rect x="98.77" y="202" width="9.97" height="1" fill="#f7f4ee"/>
<rect x="98.77" y="203" width="9.97" height="1" fill="#e9cc98"/>
<rect x="98.77" y="204" width="9.97" height="1" fill="#f1e4cb"/>
<rect x="98.77" y="205" width="9.97" height="1" fill="#eee3d0"/>
<rect x="98.77" y="206" width="9.97" height="1" fill="#e6d0a7"/>
<rect x="98.77" y="207" width="9.97" height="1" fill="#dec290"/>
<rect x="98.77" y="208" width="9.97" height="1" fill="#efe2ca"/>
<rect x="98.77" y="209" width="9.97" height="1" fill="#f2e5ce"/>
<rect x="98.77" y="210" width="9.97" height="1" fill="#d9a252"/>
<rect x="98.77" y="211" width="9.97" height="1" fill="#f1e3c8"/>
<rect x="98.77" y="212" width="9.97" height="1" fill="#eee4d1"/>
<rect x="98.77" y="213" width="9.97" height="1" fill="#e3cda4"/>
<rect x="98.77" y="214" width="9.97" height="1" fill="#e7d3af"/>
<rect x="98.77" y="215" width="9.97" height="1" fill="#eee2cb"/>
<rect x="108.13" y="54" width="9.97" height="1" fill="#efe0c4"/>
<rect x="108.13" y="55" width="9.97" height="1" fill="#efe2c9"/>
<rect x="108.13" y="56" width="9.97" height="1" fill="#d8be92"/>
<rect x="108.13" y="57" width="9.97" height="1" fill="#f1e8d6"/>
<rect x="108.13" y="58" width="9.97" height="1" fill="#eee0c5"/>
<rect x="108.13" y="59" width="9.97" height="1" fill="#e7d1ab"/>
<rect x="108.13" y="60" width="9.97" height="1" fill="#d6b276"/>
<rect x="108.13" y="61" width="9.97" height="1" fill="#dbad61"/>
<rect x="108.13" y="62" width="9.97" height="1" fill="#d1b37f"/>
<rect x="108.13" y="63" width="9.97" height="1" fill="#e0ae5c"/>
<rect x="108.13" y="64" width="9.97" height="1" fill="#e3bb74"/>
<rect x="108.13" y="65" width="9.97" height="1" fill="#d9caad"/>
<rect x="108.13" y="66" width="9.97" height="1" fill="#d8c6a6"/>
<rect x="108.13" y="67" width="9.97" height="1" fill="#ac8458"/>
<rect x="108.13" y="68" width="9.97" height="1" fill="#dba758"/>
<rect x="108.13" y="69" width="9.97" height="1" fill="#c4a87e"/>
<rect x="108.13" y="70" width="9.97" height="1" fill="#dcbf8b"/>
<rect x="108.13" y="71" width="9.97" height="1" fill="#eee2cc"/>
<rect x="108.13" y="72" width="9.97" height="1" fill="#d7bd8d"/>
<rect x="108.13" y="73" width="9.97" height="1" fill="#ead7b1"/>
<rect x="108.13" y="74" width="9.97" height="1" fill="#d4ba8c"/>
<rect x="108.13" y="75" width="9.97" height="1" fill="#d7b881"/>
<rect x="108.13" y="76" width="9.97" height="1" fill="#d19b52"/>
<rect x="108.13" y="77" width="9.97" height="1" fill="#cfa260"/>
<rect x="108.13" y="78" width="9.97" height="1" fill="#cdb286"/>
<rect x="108.13" y="79" width="9.97" height="1" fill="#d6ab67"/>
<rect x="108.13" y="80" width="9.97" height="1" fill="#dcb979"/>
<rect x="108.13" y="81" width="9.97" height="1" fill="#ba976b"/>
<rect x="108.13" y="82" width="9.97" height="1" fill="#d1862f"/>
<rect x="108.13" y="83" width="9.97" height="1" fill="#b28b5e"/>
<rect x="108.13" y="84" width="9.97" height="1" fill="#e2cca2"/>
<rect x="108.13" y="85" width="9.97" height="1" fill="#e7d1aa"/>
<rect x="108.13" y="86" width="9.97" height="1" fill="#dfc38e"/>
<rect x="108.13" y="87" width="9.97" height="1" fill="#c9b38d"/>
<rect x="108.13" y="88" width="9.97" height="1" fill="#cc822e"/>
<rect x="108.13" y="89" width="9.97" height="1" fill="#debc7e"/>
<rect x="108.13" y="90" width="9.97" height="1" fill="#d6bd92"/>
<rect x="108.13" y="91" width="9.97" height="1" fill="#e5cc9f"/>
<rect x="108.13" y="92" width="9.97" height="1" fill="#d6c19b"/>
<rect x="108.13" y="93" width="9.97" height="1" fill="#d9b26f"/>
<rect x="108.13" y="94" width="9.97" height="1" fill="#d9c6a5"/>
<rect x="108.13" y="95" width="9.97" height="1" fill="#d9bb86"/>
<rect x="108.13" y="96" width="9.97" height="1" fill="#cbb389"/>
<rect x="108.13" y="97" width="9.97" height="1" fill="#deb977"/>
<rect x="108.13" y="98" width="9.97" height="1" fill="#e5c792"/>
<rect x="108.13" y="99" width="9.97" height="1" fill="#d1b789"/>
<rect x="108.13" y="100" width="9.97" height="1" fill="#ebd6ae"/>
<rect x="108.13" y="101" width="9.97" height="1" fill="#e9ce9f"/>
<rect x="108.13" y="102" width="9.97" height="1" fill="#e8d2aa"/>
<rect x="108.13" y="103" width="9.97" height="1" fill="#ead5b0"/>
<rect x="108.13" y="104" width="9.97" height="1" fill="#e0d2b8"/>
<rect x="108.13" y="105" width="9.97" height="1" fill="#e4d4b6"/>
<rect x="108.13" y="106" width="9.97" height="1" fill="#deccab"/>
<rect x="108.13" y="107" width="9.97" height="1" fill="#d6ae6e"/>
<rect x="108.13" y="108" width="9.97" height="1" fill="#d2ba90"/>
<rect x="108.13" y="109" width="9.97" height="1" fill="#ddbc80"/>
<rect x="108.13" y="110" width="9.97" height="1" fill="#c89757"/>
<rect x="108.13" y="111" width="9.97" height="1" fill="#eeddbc"/>
<rect x="108.13" y="112" width="9.97" height="1" fill="#c7aa7f"/>
<rect x="108.13" y="113" width="9.97" height="1" fill="#ead8b7"/>
<rect x="108.13" y="114" width="9.97" height="1" fill="#d4a865"/>
<rect x="108.13" y="115" width="9.97" height="1" fill="#d69f50"/>
<rect x="108.13" y="116" width="9.97" height="1" fill="#ecd6ad"/>
<rect x="108.13" y="117" width="9.97" height="1" fill="#d8b881"/>
<rect x="108.13" y="118" width="9.97" height="1" fill="#eedec1"/>
<rect x="108.13" y="119" width="9.97" height="1" fill="#d6bd91"/>
<rect x="108.13" y="120" width="9.97" height="1" fill="#d19e58"/>
<rect x="108.13" y="121" width="9.97" height="1" fill="#f2ede3"/>
<rect x="108.13" y="122" width="9.97" height="1" fill="#f0e2c8"/>
<rect x="108.13" y="123" width="9.97" height="1" fill="#c4a679"/>
<rect x="108.13" y="124" width="9.97" height="1" fill="#c79758"/>
<rect x="108.13" y="125" width="9.97" height="1" fill="#dbc190"/>
<rect x="108.13" y="126" width="9.97" height="1" fill="#e1d7c4"/>
<rect x="108.13" y="127" width="9.97" height="1" fill="#ebd9b9"/>
<rect x="108.13" y="128" width="9.97" height="1" fill="#deb874"/>
<rect x="108.13" y="129" width="9.97" height="1" fill="#d5c099"/>
<rect x="108.13" y="130" width="9.97" height="1" fill="#d9c29a"/>
<rect x="108.13" y="131" width="9.97" height="1" fill="#ddb46a"/>
<rect x="108.13" y="132" width="9.97" height="1" fill="#c5965b"/>
<rect x="108.13" y="133" width="9.97" height="1" fill="#d9bb86"/>
<rect x="108.13" y="134" width="9.97" height="1" fill="#d5c19d"/>
<rect x="108.13" y="135" width="9.97" height="1" fill="#dac59e"/>
<rect x="108.13" y="136" width="9.97" height="1" fill="#cea466"/>
<rect x="108.13" y="137" width="9.97" height="1" fill="#d8b77d"/>
<rect x="108.13" y="138" width="9.97" height="1" fill="#dcbd84"/>
<rect x="108.13" y="139" width="9.97" height="1" fill="#ddae62"/>
<rect x="108.13" y="140" width="9.97" height="1" fill="#f2e8d6"/>
<rect x="108.13" y="141" width="9.97" height="1" fill="#dfc9a1"/>
<rect x="108.13" y="142" width="9.97" height="1" fill="#d0b88c"/>
<rect x="108.13" y="143" width="9.97" height="1" fill="#d8c8ab"/>
<rect x="108.13" y="144" width="9.97" height="1" fill="#eae2d2"/>
<rect x="108.13" y="145" width="9.97" height="1" fill="#d8b982"/>
<rect x="108.13" y="146" width="9.97" height="1" fill="#e7decb"/>
<rect x="108.13" y="147" width="9.97" height="1" fill="#dab572"/>
<rect x="108.13" y="148" width="9.97" height="1" fill="#dec18e"/>
<rect x="108.13" y="149" width="9.97" height="1" fill="#bfa47d"/>
<rect x="108.13" y="150" width="9.97" height="1" fill="#d5c098"/>
<rect x="108.13" y="151" width="9.97" height="1" fill="#e5dbc7"/>
<rect x="108.13" y="152" width="9.97" height="1" fill="#c0a47b"/>
<rect x="108.13" y="153" width="9.97" height="1" fill="#cfbb96"/>
<rect x="108.13" y="154" width="9.97" height="1" fill="#d7bd8e"/>
<rect x="108.13" y="155" width="9.97" height="1" fill="#d2a35f"/>
<rect x="108.13" y="156" width="9.97" height="1" fill="#e0c799"/>
<rect x="108.13" y="157" width="9.97" height="1" fill="#d7b67c"/>
<rect x="108.13" y="158" width="9.97" height="1" fill="#d0bd9b"/>
<rect x="108.13" y="159" width="9.97" height="1" fill="#d8c49f"/>
<rect x="108.13" y="160" width="9.97" height="1" fill="#bf9a6a"/>
<rect x="108.13" y="161" width="9.97" height="1" fill="#dcccb0"/>
<rect x="108.13" y="162" width="9.97" height="1" fill="#dcc69e"/>
<rect x="108.13" y="163" width="9.97" height="1" fill="#debb7b"/>
<rect x="108.13" y="164" width="9.97" height="1" fill="#d7b983"/>
<rect x="108.13" y="165" width="9.97" height="1" fill="#e0d4be"/>
<rect x="108.13" y="166" width="9.97" height="1" fill="#e8dabf"/>
<rect x="108.13" y="167" width="9.97" height="1" fill="#e3cda4"/>
<rect x="108.13" y="168" width="9.97" height="1" fill="#dab26e"/>
<rect x="108.13" y="169" width="9.97" height="1" fill="#dec9a4"/>
<rect x="108.13" y="170" width="9.97" height="1" fill="#bd9f76"/>
<rect x="108.13" y="171" width="9.97" height="1" fill="#d8b981"/>
<rect x="108.13" y="172" width="9.97" height="1" fill="#d7b77f"/>
<rect x="108.13" y="173" width="9.97" height="1" fill="#e0b66e"/>
<rect x="108.13" y="174" width="9.97" height="1" fill="#ecdbba"/>
<rect x="108.13" y="175" width="9.97" height="1" fill="#e9d4ac"/>
<rect x="108.13" y="176" width="9.97" height="1" fill="#eddab7"/>
<rect x="108.13" y="177" width="9.97" height="1" fill="#e5cda0"/>
<rect x="108.13" y="178" width="9.97" height="1" fill="#e7cfa5"/>
<rect x="108.13" y="179" width="9.97" height="1" fill="#f0e7d5"/>
<rect x="108.13" y="180" width="9.97" height="1" fill="#e9d4ae"/>
<rect x="108.13" y="181" width="9.97" height="1" fill="#e1c189"/>
<rect x="108.13" y="182" width="9.97" height="1" fill="#f1e5cf"/>
<rect x="108.13" y="183" width="9.97" height="1" fill="#f0e3ca"/>
<rect x="108.13" y="184" width="9.97" height="1" fill="#ead7b2"/>
<rect x="108.13" y="185" width="9.97" height="1" fill="#e4ca9b"/>
<rect x="108.13" y="186" width="9.97" height="1" fill="#e2cb9f"/>
<rect x="108.13" y="187" width="9.97" height="1" fill="#ecd9b5"/>
<rect x="108.13" y="188" width="9.97" height="1" fill="#efe1c7"/>
<rect x="108.13" y="189" width="9.97" height="1" fill="#ece0ca"/>
<rect x="108.13" y="190" width="9.97" height="1" fill="#f0e3c9"/>
<rect x="108.13" y="191" width="9.97" height="1" fill="#e6c486"/>
<rect x="108.13" y="192" width="9.97" height="1" fill="#ead1a2"/>
<rect x="108.13" y="193" width="9.97" height="1" fill="#efe2c8"/>
<rect x="108.13" y="194" width="9.97" height="1" fill="#f4ecdb"/>
<rect x="108.13" y="195" width="9.97" height="1" fill="#ead1a5"/>
<rect x="108.13" y="196" width="9.97" height="1" fill="#e3ba71"/>
<rect x="108.13" y="197" width="9.97" height="1" fill="#f2e8d5"/>
<rect x="108.13" y="198" width="9.97" height="1" fill="#f2e9d7"/>
<rect x="108.13" y="199" width="9.97" height="1" fill="#e2c99b"/>
<rect x="108.13" y="200" width="9.97" height="1" fill="#e7d2ae"/>
<rect x="108.13" y="201" width="9.97" height="1" fill="#f0e6d3"/>
<rect x="108.13" y="202" width="9.97" height="1" fill="#ebdec4"/>
<rect x="108.13" y="203" width="9.97" height="1" fill="#f0e6d2"/>
<rect x="108.13" y="204" width="9.97" height="1" fill="#e6d4b3"/>
<rect x="108.13" y="205" width="9.97" height="1" fill="#f0e1c4"/>
<rect x="108.13" y="206" width="9.97" height="1" fill="#e7cea3"/>
<rect x="108.13" y="207" width="9.97" height="1" fill="#f1e8d8"/>
<rect x="108.13" y="208" width="9.97" height="1" fill="#f0e7d5"/>
<rect x="108.13" y="209" width="9.97" height="1" fill="#ede1cb"/>
<rect x="108.13" y="210" width="9.97" height="1" fill="#f0e5cf"/>
<rect x="108.13" y="211" width="9.97" height="1" fill="#f0e3cb"/>
<rect x="108.13" y="212" width="9.97" height="1" fill="#f1e6d1"/>
<rect x="108.13" y="213" width="9.97" height="1" fill="#f0e6d2"/>
<rect x="108.13" y="214" width="9.97" height="1" fill="#ece0c9"/>
<rect x="108.13" y="215" width="9.97" height="1" fill="#e9d9bc"/>
<rect x="117.50" y="54" width="9.97" height="1" fill="#d9aa5e"/>
<rect x="117.50" y="55" width="9.97" height="1" fill="#c6853b"/>
<rect x="117.50" y="56" width="9.97" height="1" fill="#b27c45"/>
<rect x="117.50" y="57" width="9.97" height="1" fill="#bf732a"/>
<rect x="117.50" y="58" width="9.97" height="1" fill="#b18758"/>
<rect x="117.50" y="59" width="9.97" height="1" fill="#bf9c6d"/>
<rect x="117.50" y="60" width="9.97" height="1" fill="#ae7039"/>
<rect x="117.50" y="61" width="9.97" height="1" fill="#b59064"/>
<rect x="117.50" y="62" width="9.97" height="1" fill="#b27b44"/>
<rect x="117.50" y="63" width="9.97" height="1" fill="#c28a4a"/>
<rect x="117.50" y="64" width="9.97" height="1" fill="#9e6439"/>
<rect x="117.50" y="65" width="9.97" height="1" fill="#bfa47d"/>
<rect x="117.50" y="66" width="9.97" height="1" fill="#d8bf93"/>
<rect x="117.50" y="67" width="9.97" height="1" fill="#c48841"/>
<rect x="117.50" y="68" width="9.97" height="1" fill="#d09e58"/>
<rect x="117.50" y="69" width="9.97" height="1" fill="#9a7351"/>
<rect x="117.50" y="70" width="9.97" height="1" fill="#deaf62"/>
<rect x="117.50" y="71" width="9.97" height="1" fill="#debe85"/>
<rect x="117.50" y="72" width="9.97" height="1" fill="#d5b47c"/>
<rect x="117.50" y="73" width="9.97" height="1" fill="#ae8659"/>
<rect x="117.50" y="74" width="9.97" height="1" fill="#ad7039"/>
<rect x="117.50" y="75" width="9.97" height="1" fill="#c4985f"/>
<rect x="117.50" y="76" width="9.97" height="1" fill="#ad743f"/>
<rect x="117.50" y="77" width="9.97" height="1" fill="#bf9b6b"/>
<rect x="117.50" y="78" width="9.97" height="1" fill="#ab875f"/>
<rect x="117.50" y="79" width="9.97" height="1" fill="#a87d51"/>
<rect x="117.50" y="80" width="9.97" height="1" fill="#c5a87c"/>
<rect x="117.50" y="81" width="9.97" height="1" fill="#b2814d"/>
<rect x="117.50" y="82" width="9.97" height="1" fill="#986e4c"/>
<rect x="117.50" y="83" width="9.97" height="1" fill="#e1c89a"/>
<rect x="117.50" y="84" width="9.97" height="1" fill="#c38e4f"/>
<rect x="117.50" y="85" width="9.97" height="1" fill="#c18a4a"/>
<rect x="117.50" y="86" width="9.97" height="1" fill="#c09258"/>
<rect x="117.50" y="87" width="9.97" height="1" fill="#bb874c"/>
<rect x="117.50" y="88" width="9.97" height="1" fill="#d7bc8c"/>
<rect x="117.50" y="89" width="9.97" height="1" fill="#9f4e1e"/>
<rect x="117.50" y="90" width="9.97" height="1" fill="#dfbe82"/>
<rect x="117.50" y="91" width="9.97" height="1" fill="#ba8a52"/>
<rect x="117.50" y="92" width="9.97" height="1" fill="#b28858"/>
<rect x="117.50" y="93" width="9.97" height="1" fill="#bc874b"/>
<rect x="117.50" y="94" width="9.97" height="1" fill="#d0a769"/>
<rect x="117.50" y="95" width="9.97" height="1" fill="#cba166"/>
<rect x="117.50" y="96" width="9.97" height="1" fill="#c69557"/>
<rect x="117.50" y="97" width="9.97" height="1" fill="#aa8760"/>
<rect x="117.50" y="98" width="9.97" height="1" fill="#dcab5e"/>
<rect x="117.50" y="99" width="9.97" height="1" fill="#d19141"/>
<rect x="117.50" y="100" width="9.97" height="1" fill="#dcab5d"/>
<rect x="117.50" y="101" width="9.97" height="1" fill="#d8a659"/>
<rect x="117.50" y="102" width="9.97" height="1" fill="#dcc59b"/>
<rect x="117.50" y="103" width="9.97" height="1" fill="#c7a879"/>
<rect x="117.50" y="104" width="9.97" height="1" fill="#ba905d"/>
<rect x="117.50" y="105" width="9.97" height="1" fill="#cd964e"/>
<rect x="117.50" y="106" width="9.97" height="1" fill="#dbad61"/>
<rect x="117.50" y="107" width="9.97" height="1" fill="#d6a55d"/>
<rect x="117.50" y="108" width="9.97" height="1" fill="#9d653b"/>
<rect x="117.50" y="109" width="9.97" height="1" fill="#ae6c34"/>
<rect x="117.50" y="110" width="9.97" height="1" fill="#d99e4b"/>
<rect x="117.50" y="111" width="9.97" height="1" fill="#b69062"/>
<rect x="117.50" y="112" width="9.97" height="1" fill="#e2cca3"/>
<rect x="117.50" y="113" width="9.97" height="1" fill="#dcc69d"/>
<rect x="117.50" y="114" width="9.97" height="1" fill="#b8966b"/>
<rect x="117.50" y="115" width="9.97" height="1" fill="#be9b6d"/>
<rect x="117.50" y="116" width="9.97" height="1" fill="#cfb688"/>
<rect x="117.50" y="117" width="9.97" height="1" fill="#b87635"/>
<rect x="117.50" y="118" width="9.97" height="1" fill="#e5d5b4"/>
<rect x="117.50" y="119" width="9.97" height="1" fill="#d6c6a8"/>
<rect x="117.50" y="120" width="9.97" height="1" fill="#ba8d57"/>
<rect x="117.50" y="121" width="9.97" height="1" fill="#d1984c"/>
<rect x="117.50" y="122" width="9.97" height="1" fill="#dbbe89"/>
<rect x="117.50" y="123" width="9.97" height="1" fill="#9a6b46"/>
<rect x="117.50" y="124" width="9.97" height="1" fill="#c78a42"/>
<rect x="117.50" y="125" width="9.97" height="1" fill="#ca8434"/>
<rect x="117.50" y="126" width="9.97" height="1" fill="#c99e62"/>
<rect x="117.50" y="127" width="9.97" height="1" fill="#e2bb77"/>
<rect x="117.50" y="128" width="9.97" height="1" fill="#d7b171"/>
<rect x="117.50" y="129" width="9.97" height="1" fill="#dca958"/>
<rect x="117.50" y="130" width="9.97" height="1" fill="#c6873f"/>
<rect x="117.50" y="131" width="9.97" height="1" fill="#b56f30"/>
<rect x="117.50" y="132" width="9.97" height="1" fill="#cb893a"/>
<rect x="117.50" y="133" width="9.97" height="1" fill="#d2862e"/>
<rect x="117.50" y="134" width="9.97" height="1" fill="#d9a659"/>
<rect x="117.50" y="135" width="9.97" height="1" fill="#cdae7b"/>
<rect x="117.50" y="136" width="9.97" height="1" fill="#a97f53"/>
<rect x="117.50" y="137" width="9.97" height="1" fill="#d08b38"/>
<rect x="117.50" y="138" width="9.97" height="1" fill="#d8c4a1"/>
<rect x="117.50" y="139" width="9.97" height="1" fill="#cc8634"/>
<rect x="117.50" y="140" width="9.97" height="1" fill="#e1c898"/>
<rect x="117.50" y="141" width="9.97" height="1" fill="#9c7553"/>
<rect x="117.50" y="142" width="9.97" height="1" fill="#be8645"/>
<rect x="117.50" y="143" width="9.97" height="1" fill="#a55b29"/>
<rect x="117.50" y="144" width="9.97" height="1" fill="#d9c29a"/>
<rect x="117.50" y="145" width="9.97" height="1" fill="#d5a35a"/>
<rect x="117.50" y="146" width="9.97" height="1" fill="#bb7b3a"/>
<rect x="117.50" y="147" width="9.97" height="1" fill="#e3c693"/>
<rect x="117.50" y="148" width="9.97" height="1" fill="#ccb287"/>
<rect x="117.50" y="149" width="9.97" height="1" fill="#d7a04f"/>
<rect x="117.50" y="150" width="9.97" height="1" fill="#e5cca0"/>
<rect x="117.50" y="151" width="9.97" height="1" fill="#bd9561"/>
<rect x="117.50" y="152" width="9.97" height="1" fill="#d6b781"/>
<rect x="117.50" y="153" width="9.97" height="1" fill="#c98b41"/>
<rect x="117.50" y="154" width="9.97" height="1" fill="#d8a75a"/>
<rect x="117.50" y="155" width="9.97" height="1" fill="#bc9769"/>
<rect x="117.50" y="156" width="9.97" height="1" fill="#deb163"/>
<rect x="117.50" y="157" width="9.97" height="1" fill="#ad7641"/>
<rect x="117.50" y="158" width="9.97" height="1" fill="#debd80"/>
<rect x="117.50" y="159" width="9.97" height="1" fill="#d48f3b"/>
<rect x="117.50" y="160" width="9.97" height="1" fill="#d69e4e"/>
<rect x="117.50" y="161" width="9.97" height="1" fill="#bf9560"/>
<rect x="117.50" y="162" width="9.97" height="1" fill="#cdb58c"/>
<rect x="117.50" y="163" width="9.97" height="1" fill="#b08352"/>
<rect x="117.50" y="164" width="9.97" height="1" fill="#b76c2a"/>
<rect x="117.50" y="165" width="9.97" height="1" fill="#e4c998"/>
<rect x="117.50" y="166" width="9.97" height="1" fill="#bf9159"/>
<rect x="117.50" y="167" width="9.97" height="1" fill="#d1a05b"/>
<rect x="117.50" y="168" width="9.97" height="1" fill="#dbc59f"/>
<rect x="117.50" y="169" width="9.97" height="1" fill="#cf9549"/>
<rect x="117.50" y="170" width="9.97" height="1" fill="#bd8a50"/>
<rect x="117.50" y="171" width="9.97" height="1" fill="#e3c38a"/>
<rect x="117.50" y="172" width="9.97" height="1" fill="#a27147"/>
<rect x="117.50" y="173" width="9.97" height="1" fill="#be925d"/>
<rect x="117.50" y="174" width="9.97" height="1" fill="#eedfc1"/>
<rect x="117.50" y="175" width="9.97" height="1" fill="#edddbd"/>
<rect x="117.50" y="176" width="9.97" height="1" fill="#efdfc0"/>
<rect x="117.50" y="177" width="9.97" height="1" fill="#e7ce9e"/>
<rect x="117.50" y="178" width="9.97" height="1" fill="#ede2cd"/>
<rect x="117.50" y="179" width="9.97" height="1" fill="#efe3cd"/>
<rect x="117.50" y="180" width="9.97" height="1" fill="#ede0c6"/>
<rect x="117.50" y="181" width="9.97" height="1" fill="#efe5d0"/>
<rect x="117.50" y="182" width="9.97" height="1" fill="#ece0c8"/>
<rect x="117.50" y="183" width="9.97" height="1" fill="#ecdec4"/>
<rect x="117.50" y="184" width="9.97" height="1" fill="#ecdec6"/>
<rect x="117.50" y="185" width="9.97" height="1" fill="#ecdcc0"/>
<rect x="117.50" y="186" width="9.97" height="1" fill="#ead1a4"/>
<rect x="117.50" y="187" width="9.97" height="1" fill="#eadbbe"/>
<rect x="117.50" y="188" width="9.97" height="1" fill="#e5cea5"/>
<rect x="117.50" y="189" width="9.97" height="1" fill="#e3bc76"/>
<rect x="117.50" y="190" width="9.97" height="1" fill="#efe4cf"/>
<rect x="117.50" y="191" width="9.97" height="1" fill="#f1e9d9"/>
<rect x="117.50" y="192" width="9.97" height="1" fill="#ece0ca"/>
<rect x="117.50" y="193" width="9.97" height="1" fill="#ead5b0"/>
<rect x="117.50" y="194" width="9.97" height="1" fill="#e4cca1"/>
<rect x="117.50" y="195" width="9.97" height="1" fill="#efe4d0"/>
<rect x="117.50" y="196" width="9.97" height="1" fill="#f0e1c4"/>
<rect x="117.50" y="197" width="9.97" height="1" fill="#f4eee2"/>
<rect x="117.50" y="198" width="9.97" height="1" fill="#f3ece0"/>
<rect x="117.50" y="199" width="9.97" height="1" fill="#ebd7b0"/>
<rect x="117.50" y="200" width="9.97" height="1" fill="#ebdec4"/>
<rect x="117.50" y="201" width="9.97" height="1" fill="#ede1cb"/>
<rect x="117.50" y="202" width="9.97" height="1" fill="#ede1cc"/>
<rect x="117.50" y="203" width="9.97" height="1" fill="#e4c99a"/>
<rect x="117.50" y="204" width="9.97" height="1" fill="#f2e5cd"/>
<rect x="117.50" y="205" width="9.97" height="1" fill="#efe3ca"/>
<rect x="117.50" y="206" width="9.97" height="1" fill="#eddec0"/>
<rect x="117.50" y="207" width="9.97" height="1" fill="#ecd9b5"/>
<rect x="117.50" y="208" width="9.97" height="1" fill="#f0e5ce"/>
<rect x="117.50" y="209" width="9.97" height="1" fill="#f5edde"/>
<rect x="117.50" y="210" width="9.97" height="1" fill="#f2eadc"/>
<rect x="117.50" y="211" width="9.97" height="1" fill="#eee0c6"/>
<rect x="117.50" y="212" width="9.97" height="1" fill="#f5edde"/>
<rect x="117.50" y="213" width="9.97" height="1" fill="#e2c38c"/>
<rect x="117.50" y="214" width="9.97" height="1" fill="#efe5d0"/>
<rect x="117.50" y="215" width="9.97" height="1" fill="#e4cda3"/>
<rect x="126.87" y="54" width="9.97" height="1" fill="#eee2ca"/>
<rect x="126.87" y="55" width="9.97" height="1" fill="#ebdbbb"/>
<rect x="126.87" y="56" width="9.97" height="1" fill="#f2e6cf"/>
<rect x="126.87" y="57" width="9.97" height="1" fill="#f8f4ed"/>
<rect x="126.87" y="58" width="9.97" height="1" fill="#f4ecdb"/>
<rect x="126.87" y="59" width="9.97" height="1" fill="#f0e3cb"/>
<rect x="126.87" y="60" width="9.97" height="1" fill="#ede0c5"/>
<rect x="126.87" y="61" width="9.97" height="1" fill="#ecd9b5"/>
<rect x="126.87" y="62" width="9.97" height="1" fill="#f1e7d2"/>
<rect x="126.87" y="63" width="9.97" height="1" fill="#eedfc0"/>
<rect x="126.87" y="64" width="9.97" height="1" fill="#eee4d1"/>
<rect x="126.87" y="65" width="9.97" height="1" fill="#f0e5d2"/>
<rect x="126.87" y="66" width="9.97" height="1" fill="#ede2cc"/>
<rect x="126.87" y="67" width="9.97" height="1" fill="#eddec4"/>
<rect x="126.87" y="68" width="9.97" height="1" fill="#eddfc3"/>
<rect x="126.87" y="69" width="9.97" height="1" fill="#eee0c3"/>
<rect x="126.87" y="70" width="9.97" height="1" fill="#f2ecdf"/>
<rect x="126.87" y="71" width="9.97" height="1" fill="#f3ebdd"/>
<rect x="126.87" y="72" width="9.97" height="1" fill="#f7f4ed"/>
<rect x="126.87" y="73" width="9.97" height="1" fill="#f8f3eb"/>
<rect x="126.87" y="74" width="9.97" height="1" fill="#f2e5cd"/>
<rect x="126.87" y="75" width="9.97" height="1" fill="#eee3cd"/>
<rect x="126.87" y="76" width="9.97" height="1" fill="#efe2c7"/>
<rect x="126.87" y="77" width="9.97" height="1" fill="#f4ede0"/>
<rect x="126.87" y="78" width="9.97" height="1" fill="#eddcbb"/>
<rect x="126.87" y="79" width="9.97" height="1" fill="#f6f2ea"/>
<rect x="126.87" y="80" width="9.97" height="1" fill="#efe3ca"/>
<rect x="126.87" y="81" width="9.97" height="1" fill="#f4ebdb"/>
<rect x="126.87" y="82" width="9.97" height="1" fill="#efe2c9"/>
<rect x="126.87" y="83" width="9.97" height="1" fill="#f2e8d6"/>
<rect x="126.87" y="84" width="9.97" height="1" fill="#f7f1e6"/>
<rect x="126.87" y="85" width="9.97" height="1" fill="#efdfc0"/>
<rect x="126.87" y="86" width="9.97" height="1" fill="#f5f0e7"/>
<rect x="126.87" y="87" width="9.97" height="1" fill="#f2eadb"/>
<rect x="126.87" y="88" width="9.97" height="1" fill="#e8d2a9"/>
<rect x="126.87" y="89" width="9.97" height="1" fill="#f5efe3"/>
<rect x="126.87" y="90" width="9.97" height="1" fill="#efe4cf"/>
<rect x="126.87" y="91" width="9.97" height="1" fill="#f1e4cc"/>
<rect x="126.87" y="92" width="9.97" height="1" fill="#f2e9d8"/>
<rect x="126.87" y="93" width="9.97" height="1" fill="#efe7d6"/>
<rect x="126.87" y="94" width="9.97" height="1" fill="#f1e7d4"/>
<rect x="126.87" y="95" width="9.97" height="1" fill="#f0e4cd"/>
<rect x="126.87" y="96" width="9.97" height="1" fill="#f0e5d2"/>
<rect x="126.87" y="97" width="9.97" height="1" fill="#f2ebdd"/>
<rect x="126.87" y="98" width="9.97" height="1" fill="#f0e4cd"/>
<rect x="126.87" y="99" width="9.97" height="1" fill="#f2ead9"/>
<rect x="126.87" y="100" width="9.97" height="1" fill="#f8f3eb"/>
<rect x="126.87" y="101" width="9.97" height="1" fill="#f2e8d5"/>
<rect x="126.87" y="102" width="9.97" height="1" fill="#f3ede1"/>
<rect x="126.87" y="103" width="9.97" height="1" fill="#f8f4eb"/>
<rect x="126.87" y="104" width="9.97" height="1" fill="#f1e7d4"/>
<rect x="126.87" y="105" width="9.97" height="1" fill="#eedfc4"/>
<rect x="126.87" y="106" width="9.97" height="1" fill="#f2e9d8"/>
<rect x="126.87" y="107" width="9.97" height="1" fill="#eee1c8"/>
<rect x="126.87" y="108" width="9.97" height="1" fill="#e5d0a9"/>
<rect x="126.87" y="109" width="9.97" height="1" fill="#efe6d5"/>
<rect x="126.87" y="110" width="9.97" height="1" fill="#e8d5b4"/>
<rect x="126.87" y="111" width="9.97" height="1" fill="#f3e7d2"/>
<rect x="126.87" y="112" width="9.97" height="1" fill="#f3ead8"/>
<rect x="126.87" y="113" width="9.97" height="1" fill="#f6f2ea"/>
<rect x="126.87" y="114" width="9.97" height="1" fill="#ebddc2"/>
<rect x="126.87" y="115" width="9.97" height="1" fill="#f3ead9"/>
<rect x="126.87" y="116" width="9.97" height="1" fill="#f6efe3"/>
<rect x="126.87" y="117" width="9.97" height="1" fill="#eddec0"/>
<rect x="126.87" y="118" width="9.97" height="1" fill="#f5ecdc"/>
<rect x="126.87" y="119" width="9.97" height="1" fill="#f5eee3"/>
<rect x="126.87" y="120" width="9.97" height="1" fill="#f2e9d7"/>
<rect x="126.87" y="121" width="9.97" height="1" fill="#f0e5d1"/>
<rect x="126.87" y="122" width="9.97" height="1" fill="#f7f1e5"/>
<rect x="126.87" y="123" width="9.97" height="1" fill="#f3e8d4"/>
<rect x="126.87" y="124" width="9.97" height="1" fill="#eddab7"/>
<rect x="126.87" y="125" width="9.97" height="1" fill="#f2eadb"/>
<rect x="126.87" y="126" width="9.97" height="1" fill="#f3ecdd"/>
<rect x="126.87" y="127" width="9.97" height="1" fill="#f3ead9"/>
<rect x="126.87" y="128" width="9.97" height="1" fill="#f5eee0"/>
<rect x="126.87" y="129" width="9.97" height="1" fill="#f2e8d5"/>
<rect x="126.87" y="130" width="9.97" height="1" fill="#efe3cd"/>
<rect x="126.87" y="131" width="9.97" height="1" fill="#eedebf"/>
<rect x="126.87" y="132" width="9.97" height="1" fill="#f1e5d0"/>
<rect x="126.87" y="133" width="9.97" height="1" fill="#eee4d1"/>
<rect x="126.87" y="134" width="9.97" height="1" fill="#f5f0e6"/>
<rect x="126.87" y="135" width="9.97" height="1" fill="#f3e8d5"/>
<rect x="126.87" y="136" width="9.97" height="1" fill="#ead2a4"/>
<rect x="126.87" y="137" width="9.97" height="1" fill="#f0e5d2"/>
<rect x="126.87" y="138" width="9.97" height="1" fill="#f1e8d8"/>
<rect x="126.87" y="139" width="9.97" height="1" fill="#eee2ca"/>
<rect x="126.87" y="140" width="9.97" height="1" fill="#f2eadb"/>
<rect x="126.87" y="141" width="9.97" height="1" fill="#f2e6cf"/>
<rect x="126.87" y="142" width="9.97" height="1" fill="#f1e3c8"/>
<rect x="126.87" y="143" width="9.97" height="1" fill="#ecdec3"/>
<rect x="126.87" y="144" width="9.97" height="1" fill="#f3ebdb"/>
<rect x="126.87" y="145" width="9.97" height="1" fill="#efe2ca"/>
<rect x="126.87" y="146" width="9.97" height="1" fill="#eadcc2"/>
<rect x="126.87" y="147" width="9.97" height="1" fill="#f6f2e9"/>
<rect x="126.87" y="148" width="9.97" height="1" fill="#ecd9b5"/>
<rect x="126.87" y="149" width="9.97" height="1" fill="#f2eadc"/>
<rect x="126.87" y="150" width="9.97" height="1" fill="#f5f0e6"/>
<rect x="126.87" y="151" width="9.97" height="1" fill="#e7d4b1"/>
<rect x="126.87" y="152" width="9.97" height="1" fill="#ece0c8"/>
<rect x="126.87" y="153" width="9.97" height="1" fill="#ede2cd"/>
<rect x="126.87" y="154" width="9.97" height="1" fill="#f0e6d2"/>
<rect x="126.87" y="155" width="9.97" height="1" fill="#f2e6d1"/>
<rect x="126.87" y="156" width="9.97" height="1" fill="#f7f2e7"/>
<rect x="126.87" y="157" width="9.97" height="1" fill="#f0e7d5"/>
<rect x="126.87" y="158" width="9.97" height="1" fill="#f4ead9"/>
<rect x="126.87" y="159" width="9.97" height="1" fill="#f4ecde"/>
<rect x="126.87" y="160" width="9.97" height="1" fill="#efdec0"/>
<rect x="126.87" y="161" width="9.97" height="1" fill="#f5eedf"/>
<rect x="126.87" y="162" width="9.97" height="1" fill="#eedfc2"/>
<rect x="126.87" y="163" width="9.97" height="1" fill="#ebdabb"/>
<rect x="126.87" y="164" width="9.97" height="1" fill="#f0e5ce"/>
<rect x="126.87" y="165" width="9.97" height="1" fill="#edddbe"/>
<rect x="126.87" y="166" width="9.97" height="1" fill="#efe4cf"/>
<rect x="126.87" y="167" width="9.97" height="1" fill="#f3ede0"/>
<rect x="126.87" y="168" width="9.97" height="1" fill="#f1e6d0"/>
<rect x="126.87" y="169" width="9.97" height="1" fill="#f3e7d3"/>
<rect x="126.87" y="170" width="9.97" height="1" fill="#f5f0e6"/>
<rect x="126.87" y="171" width="9.97" height="1" fill="#f3e9d6"/>
<rect x="126.87" y="172" width="9.97" height="1" fill="#ebddc3"/>
<rect x="126.87" y="173" width="9.97" height="1" fill="#eddec2"/>
<rect x="126.87" y="174" width="9.97" height="1" fill="#f6f2e9"/>
<rect x="126.87" y="175" width="9.97" height="1" fill="#efe1c8"/>
<rect x="126.87" y="176" width="9.97" height="1" fill="#e6c78c"/>
<rect x="126.87" y="177" width="9.97" height="1" fill="#f1e6d0"/>
<rect x="126.87" y="178" width="9.97" height="1" fill="#e4c896"/>
<rect x="126.87" y="179" width="9.97" height="1" fill="#d99b45"/>
<rect x="126.87" y="180" width="9.97" height="1" fill="#e2c28a"/>
<rect x="126.87" y="181" width="9.97" height="1" fill="#ddb876"/>
<rect x="126.87" y="182" width="9.97" height="1" fill="#eeddbd"/>
<rect x="126.87" y="183" width="9.97" height="1" fill="#e0be82"/>
<rect x="126.87" y="184" width="9.97" height="1" fill="#e6cb9c"/>
<rect x="126.87" y="185" width="9.97" height="1" fill="#e1c99c"/>
<rect x="126.87" y="186" width="9.97" height="1" fill="#debc7f"/>
<rect x="126.87" y="187" width="9.97" height="1" fill="#e5c58a"/>
<rect x="126.87" y="188" width="9.97" height="1" fill="#e5c48a"/>
<rect x="126.87" y="189" width="9.97" height="1" fill="#daaf67"/>
<rect x="126.87" y="190" width="9.97" height="1" fill="#f6f3ec"/>
<rect x="126.87" y="191" width="9.97" height="1" fill="#ecd6ac"/>
<rect x="126.87" y="192" width="9.97" height="1" fill="#f0e6d4"/>
<rect x="126.87" y="193" width="9.97" height="1" fill="#e7d3ae"/>
<rect x="126.87" y="194" width="9.97" height="1" fill="#eedfc2"/>
<rect x="126.87" y="195" width="9.97" height="1" fill="#eddcbc"/>
<rect x="126.87" y="196" width="9.97" height="1" fill="#d2a867"/>
<rect x="126.87" y="197" width="9.97" height="1" fill="#f7f4ed"/>
<rect x="126.87" y="198" width="9.97" height="1" fill="#ecdec5"/>
<rect x="126.87" y="199" width="9.97" height="1" fill="#d39e53"/>
<rect x="126.87" y="200" width="9.97" height="1" fill="#e7d0a7"/>
<rect x="126.87" y="201" width="9.97" height="1" fill="#e9d4ac"/>
<rect x="126.87" y="202" width="9.97" height="1" fill="#e0b770"/>
<rect x="126.87" y="203" width="9.97" height="1" fill="#d9b87d"/>
<rect x="126.87" y="204" width="9.97" height="1" fill="#ebd8b3"/>
<rect x="126.87" y="205" width="9.97" height="1" fill="#e6c891"/>
<rect x="126.87" y="206" width="9.97" height="1" fill="#e2b360"/>
<rect x="126.87" y="207" width="9.97" height="1" fill="#dab87a"/>
<rect x="126.87" y="208" width="9.97" height="1" fill="#eddfc5"/>
<rect x="126.87" y="209" width="9.97" height="1" fill="#e2bd7d"/>
<rect x="126.87" y="210" width="9.97" height="1" fill="#e3c185"/>
<rect x="126.87" y="211" width="9.97" height="1" fill="#e1bc7a"/>
<rect x="126.87" y="212" width="9.97" height="1" fill="#ece0ca"/>
<rect x="126.87" y="213" width="9.97" height="1" fill="#efe1c7"/>
<rect x="126.87" y="214" width="9.97" height="1" fill="#d89945"/>
<rect x="126.87" y="215" width="9.97" height="1" fill="#eddcbb"/>
<rect x="136.23" y="54" width="9.97" height="1" fill="#f7f2e9"/>
<rect x="136.23" y="55" width="9.97" height="1" fill="#efe5d1"/>
<rect x="136.23" y="56" width="9.97" height="1" fill="#f4ebd8"/>
<rect x="136.23" y="57" width="9.97" height="1" fill="#e4c794"/>
<rect x="136.23" y="58" width="9.97" height="1" fill="#e8ce9f"/>
<rect x="136.23" y="59" width="9.97" height="1" fill="#eedebd"/>
<rect x="136.23" y="60" width="9.97" height="1" fill="#e3c999"/>
<rect x="136.23" y="61" width="9.97" height="1" fill="#e6c78f"/>
<rect x="136.23" y="62" width="9.97" height="1" fill="#ead9b9"/>
<rect x="136.23" y="63" width="9.97" height="1" fill="#e3cea5"/>
<rect x="136.23" y="64" width="9.97" height="1" fill="#eadabc"/>
<rect x="136.23" y="65" width="9.97" height="1" fill="#eaddc4"/>
<rect x="136.23" y="66" width="9.97" height="1" fill="#ede0c9"/>
<rect x="136.23" y="67" width="9.97" height="1" fill="#e7d5b4"/>
<rect x="136.23" y="68" width="9.97" height="1" fill="#ebd8b2"/>
<rect x="136.23" y="69" width="9.97" height="1" fill="#e5cb9c"/>
<rect x="136.23" y="70" width="9.97" height="1" fill="#e3cda4"/>
<rect x="136.23" y="71" width="9.97" height="1" fill="#f1e7d3"/>
<rect x="136.23" y="72" width="9.97" height="1" fill="#eee3cd"/>
<rect x="136.23" y="73" width="9.97" height="1" fill="#e1be7f"/>
<rect x="136.23" y="74" width="9.97" height="1" fill="#eddab7"/>
<rect x="136.23" y="75" width="9.97" height="1" fill="#efe1c7"/>
<rect x="136.23" y="76" width="9.97" height="1" fill="#e1bb78"/>
<rect x="136.23" y="77" width="9.97" height="1" fill="#e8d2a9"/>
<rect x="136.23" y="78" width="9.97" height="1" fill="#ecdec2"/>
<rect x="136.23" y="79" width="9.97" height="1" fill="#eddbb7"/>
<rect x="136.23" y="80" width="9.97" height="1" fill="#dfc697"/>
<rect x="136.23" y="81" width="9.97" height="1" fill="#ecd7af"/>
<rect x="136.23" y="82" width="9.97" height="1" fill="#f0e3ca"/>
<rect x="136.23" y="83" width="9.97" height="1" fill="#efdfc2"/>
<rect x="136.23" y="84" width="9.97" height="1" fill="#e7d3af"/>
<rect x="136.23" y="85" width="9.97" height="1" fill="#ead1a3"/>
<rect x="136.23" y="86" width="9.97" height="1" fill="#e7d0a7"/>
<rect x="136.23" y="87" width="9.97" height="1" fill="#eee2cb"/>
<rect x="136.23" y="88" width="9.97" height="1" fill="#efe4cf"/>
<rect x="136.23" y="89" width="9.97" height="1" fill="#edddbe"/>
<rect x="136.23" y="90" width="9.97" height="1" fill="#ead8b9"/>
<rect x="136.23" y="91" width="9.97" height="1" fill="#efe3cd"/>
<rect x="136.23" y="92" width="9.97" height="1" fill="#e8d6b4"/>
<rect x="136.23" y="93" width="9.97" height="1" fill="#eaddc5"/>
<rect x="136.23" y="94" width="9.97" height="1" fill="#eee3cc"/>
<rect x="136.23" y="95" width="9.97" height="1" fill="#e4d1ac"/>
<rect x="136.23" y="96" width="9.97" height="1" fill="#e8d2a9"/>
<rect x="136.23" y="97" width="9.97" height="1" fill="#ebdbbf"/>
<rect x="136.23" y="98" width="9.97" height="1" fill="#e6d4b2"/>
<rect x="136.23" y="99" width="9.97" height="1" fill="#eddec0"/>
<rect x="136.23" y="100" width="9.97" height="1" fill="#efdebf"/>
<rect x="136.23" y="101" width="9.97" height="1" fill="#eedebf"/>
<rect x="136.23" y="102" width="9.97" height="1" fill="#e2c38d"/>
<rect x="136.23" y="103" width="9.97" height="1" fill="#ead2a7"/>
<rect x="136.23" y="104" width="9.97" height="1" fill="#e6c487"/>
<rect x="136.23" y="105" width="9.97" height="1" fill="#eddcbc"/>
<rect x="136.23" y="106" width="9.97" height="1" fill="#eedfc1"/>
<rect x="136.23" y="107" width="9.97" height="1" fill="#f5ecdc"/>
<rect x="136.23" y="108" width="9.97" height="1" fill="#e4d1ac"/>
<rect x="136.23" y="109" width="9.97" height="1" fill="#ecddc1"/>
<rect x="136.23" y="110" width="9.97" height="1" fill="#e9d9bb"/>
<rect x="136.23" y="111" width="9.97" height="1" fill="#eddfc3"/>
<rect x="136.23" y="112" width="9.97" height="1" fill="#f0e2c7"/>
<rect x="136.23" y="113" width="9.97" height="1" fill="#ddbc80"/>
<rect x="136.23" y="114" width="9.97" height="1" fill="#e0bc7b"/>
<rect x="136.23" y="115" width="9.97" height="1" fill="#e5d0a8"/>
<rect x="136.23" y="116" width="9.97" height="1" fill="#e4c48b"/>
<rect x="136.23" y="117" width="9.97" height="1" fill="#e6d4b3"/>
<rect x="136.23" y="118" width="9.97" height="1" fill="#e5c489"/>
<rect x="136.23" y="119" width="9.97" height="1" fill="#eedfc2"/>
<rect x="136.23" y="120" width="9.97" height="1" fill="#e9d1a4"/>
<rect x="136.23" y="121" width="9.97" height="1" fill="#e9ce9e"/>
<rect x="136.23" y="122" width="9.97" height="1" fill="#eddcbd"/>
<rect x="136.23" y="123" width="9.97" height="1" fill="#efe6d5"/>
<rect x="136.23" y="124" width="9.97" height="1" fill="#e7ca94"/>
<rect x="136.23" y="125" width="9.97" height="1" fill="#ddbe86"/>
<rect x="136.23" y="126" width="9.97" height="1" fill="#e8d7b6"/>
<rect x="136.23" y="127" width="9.97" height="1" fill="#f0e6d4"/>
<rect x="136.23" y="128" width="9.97" height="1" fill="#ead7b5"/>
<rect x="136.23" y="129" width="9.97" height="1" fill="#e3cca1"/>
<rect x="136.23" y="130" width="9.97" height="1" fill="#e6cea3"/>
<rect x="136.23" y="131" width="9.97" height="1" fill="#e0bb7a"/>
<rect x="136.23" y="132" width="9.97" height="1" fill="#f2e8d3"/>
<rect x="136.23" y="133" width="9.97" height="1" fill="#ede2cd"/>
<rect x="136.23" y="134" width="9.97" height="1" fill="#eee3cf"/>
<rect x="136.23" y="135" width="9.97" height="1" fill="#e3bd79"/>
<rect x="136.23" y="136" width="9.97" height="1" fill="#daa85a"/>
<rect x="136.23" y="137" width="9.97" height="1" fill="#f6efe2"/>
<rect x="136.23" y="138" width="9.97" height="1" fill="#e0af5c"/>
<rect x="136.23" y="139" width="9.97" height="1" fill="#d9b678"/>
<rect x="136.23" y="140" width="9.97" height="1" fill="#e9ce9c"/>
<rect x="136.23" y="141" width="9.97" height="1" fill="#e1b970"/>
<rect x="136.23" y="142" width="9.97" height="1" fill="#ead4ad"/>
<rect x="136.23" y="143" width="9.97" height="1" fill="#e9dabf"/>
<rect x="136.23" y="144" width="9.97" height="1" fill="#eee3d0"/>
<rect x="136.23" y="145" width="9.97" height="1" fill="#f6efe1"/>
<rect x="136.23" y="146" width="9.97" height="1" fill="#e6cfa7"/>
<rect x="136.23" y="147" width="9.97" height="1" fill="#e6c180"/>
<rect x="136.23" y="148" width="9.97" height="1" fill="#efe1c7"/>
<rect x="136.23" y="149" width="9.97" height="1" fill="#ead2a4"/>
<rect x="136.23" y="150" width="9.97" height="1" fill="#daa85a"/>
<rect x="136.23" y="151" width="9.97" height="1" fill="#e2c99b"/>
<rect x="136.23" y="152" width="9.97" height="1" fill="#e6c58a"/>
<rect x="136.23" y="153" width="9.97" height="1" fill="#e5ca97"/>
<rect x="136.23" y="154" width="9.97" height="1" fill="#e7ca93"/>
<rect x="136.23" y="155" width="9.97" height="1" fill="#ddbd81"/>
<rect x="136.23" y="156" width="9.97" height="1" fill="#eddec1"/>
<rect x="136.23" y="157" width="9.97" height="1" fill="#e7d1a7"/>
<rect x="136.23" y="158" width="9.97" height="1" fill="#e8cc9a"/>
<rect x="136.23" y="159" width="9.97" height="1" fill="#ebdfc8"/>
<rect x="136.23" y="160" width="9.97" height="1" fill="#e3bd7a"/>
<rect x="136.23" y="161" width="9.97" height="1" fill="#f0e4cb"/>
<rect x="136.23" y="162" width="9.97" height="1" fill="#eedcb9"/>
<rect x="136.23" y="163" width="9.97" height="1" fill="#e6cb9c"/>
<rect x="136.23" y="164" width="9.97" height="1" fill="#eee0c4"/>
<rect x="136.23" y="165" width="9.97" height="1" fill="#e9cd99"/>
<rect x="136.23" y="166" width="9.97" height="1" fill="#efe3cc"/>
<rect x="136.23" y="167" width="9.97" height="1" fill="#f1e7d4"/>
<rect x="136.23" y="168" width="9.97" height="1" fill="#eee4d1"/>
<rect x="136.23" y="169" width="9.97" height="1" fill="#f7f4ed"/>
<rect x="136.23" y="170" width="9.97" height="1" fill="#ecdcbd"/>
<rect x="136.23" y="171" width="9.97" height="1" fill="#e6d3b1"/>
<rect x="136.23" y="172" width="9.97" height="1" fill="#ecddc0"/>
<rect x="136.23" y="173" width="9.97" height="1" fill="#ead2a6"/>
<rect x="136.23" y="174" width="9.97" height="1" fill="#e9d6b3"/>
<rect x="136.23" y="175" width="9.97" height="1" fill="#e2cb9f"/>
<rect x="136.23" y="176" width="9.97" height="1" fill="#e0bb78"/>
<rect x="136.23" y="177" width="9.97" height="1" fill="#d18f3c"/>
<rect x="136.23" y="178" width="9.97" height="1" fill="#d7af6e"/>
<rect x="136.23" y="179" width="9.97" height="1" fill="#d2a35e"/>
<rect x="136.23" y="180" width="9.97" height="1" fill="#d6a862"/>
<rect x="136.23" y="181" width="9.97" height="1" fill="#dcae62"/>
<rect x="136.23" y="182" width="9.97" height="1" fill="#e5c58c"/>
<rect x="136.23" y="183" width="9.97" height="1" fill="#e0c799"/>
<rect x="136.23" y="184" width="9.97" height="1" fill="#ba7b3b"/>
<rect x="136.23" y="185" width="9.97" height="1" fill="#daaf66"/>
<rect x="136.23" y="186" width="9.97" height="1" fill="#f0e4cd"/>
<rect x="136.23" y="187" width="9.97" height="1" fill="#e8d4b0"/>
<rect x="136.23" y="188" width="9.97" height="1" fill="#ce9850"/>
<rect x="136.23" y="189" width="9.97" height="1" fill="#e3c288"/>
<rect x="136.23" y="190" width="9.97" height="1" fill="#e7d3ae"/>
<rect x="136.23" y="191" width="9.97" height="1" fill="#e0b66e"/>
<rect x="136.23" y="192" width="9.97" height="1" fill="#e4c285"/>
<rect x="136.23" y="193" width="9.97" height="1" fill="#deba79"/>
<rect x="136.23" y="194" width="9.97" height="1" fill="#ddb56d"/>
<rect x="136.23" y="195" width="9.97" height="1" fill="#ac6a32"/>
<rect x="136.23" y="196" width="9.97" height="1" fill="#e0b467"/>
<rect x="136.23" y="197" width="9.97" height="1" fill="#e7c992"/>
<rect x="136.23" y="198" width="9.97" height="1" fill="#d1984d"/>
<rect x="136.23" y="199" width="9.97" height="1" fill="#ddb66f"/>
<rect x="136.23" y="200" width="9.97" height="1" fill="#d89b49"/>
<rect x="136.23" y="201" width="9.97" height="1" fill="#dbb97c"/>
<rect x="136.23" y="202" width="9.97" height="1" fill="#e5d0aa"/>
<rect x="136.23" y="203" width="9.97" height="1" fill="#cb9754"/>
<rect x="136.23" y="204" width="9.97" height="1" fill="#d59e51"/>
<rect x="136.23" y="205" width="9.97" height="1" fill="#d9b473"/>
<rect x="136.23" y="206" width="9.97" height="1" fill="#cf842e"/>
<rect x="136.23" y="207" width="9.97" height="1" fill="#ddaf62"/>
<rect x="136.23" y="208" width="9.97" height="1" fill="#cd9852"/>
<rect x="136.23" y="209" width="9.97" height="1" fill="#d1974b"/>
<rect x="136.23" y="210" width="9.97" height="1" fill="#deb36a"/>
<rect x="136.23" y="211" width="9.97" height="1" fill="#cfa363"/>
<rect x="136.23" y="212" width="9.97" height="1" fill="#e6cb9b"/>
<rect x="136.23" y="213" width="9.97" height="1" fill="#e1c592"/>
<rect x="136.23" y="214" width="9.97" height="1" fill="#ce984f"/>
<rect x="136.23" y="215" width="9.97" height="1" fill="#e2bf81"/>
<rect x="145.60" y="54" width="9.97" height="1" fill="#eee0c6"/>
<rect x="145.60" y="55" width="9.97" height="1" fill="#e9d4ac"/>
<rect x="145.60" y="56" width="9.97" height="1" fill="#ecd8b4"/>
<rect x="145.60" y="57" width="9.97" height="1" fill="#e8d4af"/>
<rect x="145.60" y="58" width="9.97" height="1" fill="#e6d0a7"/>
<rect x="145.60" y="59" width="9.97" height="1" fill="#e9d2a7"/>
<rect x="145.60" y="60" width="9.97" height="1" fill="#e8d5b3"/>
<rect x="145.60" y="61" width="9.97" height="1" fill="#e7c78d"/>
<rect x="145.60" y="62" width="9.97" height="1" fill="#efe2c8"/>
<rect x="145.60" y="63" width="9.97" height="1" fill="#f1e6d2"/>
<rect x="145.60" y="64" width="9.97" height="1" fill="#e7cd9d"/>
<rect x="145.60" y="65" width="9.97" height="1" fill="#f1e5cc"/>
<rect x="145.60" y="66" width="9.97" height="1" fill="#f0e6d3"/>
<rect x="145.60" y="67" width="9.97" height="1" fill="#e7cb98"/>
<rect x="145.60" y="68" width="9.97" height="1" fill="#eee3ce"/>
<rect x="145.60" y="69" width="9.97" height="1" fill="#e4c58d"/>
<rect x="145.60" y="70" width="9.97" height="1" fill="#f0e7d6"/>
<rect x="145.60" y="71" width="9.97" height="1" fill="#e9cfa0"/>
<rect x="145.60" y="72" width="9.97" height="1" fill="#e2bf81"/>
<rect x="145.60" y="73" width="9.97" height="1" fill="#ebdcc1"/>
<rect x="145.60" y="74" width="9.97" height="1" fill="#e8d7b6"/>
<rect x="145.60" y="75" width="9.97" height="1" fill="#e8d0a4"/>
<rect x="145.60" y="76" width="9.97" height="1" fill="#ede2cd"/>
<rect x="145.60" y="77" width="9.97" height="1" fill="#ebdcc0"/>
<rect x="145.60" y="78" width="9.97" height="1" fill="#e1bd7e"/>
<rect x="145.60" y="79" width="9.97" height="1" fill="#e7d0a4"/>
<rect x="145.60" y="80" width="9.97" height="1" fill="#e7cfa4"/>
<rect x="145.60" y="81" width="9.97" height="1" fill="#eadcc1"/>
<rect x="145.60" y="82" width="9.97" height="1" fill="#eee2c9"/>
<rect x="145.60" y="83" width="9.97" height="1" fill="#e2c99a"/>
<rect x="145.60" y="84" width="9.97" height="1" fill="#efe2ca"/>
<rect x="145.60" y="85" width="9.97" height="1" fill="#f3e9d5"/>
<rect x="145.60" y="86" width="9.97" height="1" fill="#ecdfc6"/>
<rect x="145.60" y="87" width="9.97" height="1" fill="#efe4d0"/>
<rect x="145.60" y="88" width="9.97" height="1" fill="#e7c992"/>
<rect x="145.60" y="89" width="9.97" height="1" fill="#e4cda2"/>
<rect x="145.60" y="90" width="9.97" height="1" fill="#e7d2ac"/>
<rect x="145.60" y="91" width="9.97" height="1" fill="#e9d6b2"/>
<rect x="145.60" y="92" width="9.97" height="1" fill="#dfc189"/>
<rect x="145.60" y="93" width="9.97" height="1" fill="#e3c692"/>
<rect x="145.60" y="94" width="9.97" height="1" fill="#e2c185"/>
<rect x="145.60" y="95" width="9.97" height="1" fill="#e5cb9d"/>
<rect x="145.60" y="96" width="9.97" height="1" fill="#d9b574"/>
<rect x="145.60" y="97" width="9.97" height="1" fill="#edddbe"/>
<rect x="145.60" y="98" width="9.97" height="1" fill="#efdfbf"/>
<rect x="145.60" y="99" width="9.97" height="1" fill="#dcbe89"/>
<rect x="145.60" y="100" width="9.97" height="1" fill="#eee0c4"/>
<rect x="145.60" y="101" width="9.97" height="1" fill="#e6ca96"/>
<rect x="145.60" y="102" width="9.97" height="1" fill="#e4c897"/>
<rect x="145.60" y="103" width="9.97" height="1" fill="#f0e5cf"/>
<rect x="145.60" y="104" width="9.97" height="1" fill="#e0c696"/>
<rect x="145.60" y="105" width="9.97" height="1" fill="#e6d1ac"/>
<rect x="145.60" y="106" width="9.97" height="1" fill="#ebd5ac"/>
<rect x="145.60" y="107" width="9.97" height="1" fill="#eedcba"/>
<rect x="145.60" y="108" width="9.97" height="1" fill="#ede0c6"/>
<rect x="145.60" y="109" width="9.97" height="1" fill="#e9d5af"/>
<rect x="145.60" y="110" width="9.97" height="1" fill="#ebddc2"/>
<rect x="145.60" y="111" width="9.97" height="1" fill="#eddcbc"/>
<rect x="145.60" y="112" width="9.97" height="1" fill="#e6c282"/>
<rect x="145.60" y="113" width="9.97" height="1" fill="#efe3ca"/>
<rect x="145.60" y="114" width="9.97" height="1" fill="#eee1c8"/>
<rect x="145.60" y="115" width="9.97" height="1" fill="#edddbe"/>
<rect x="145.60" y="116" width="9.97" height="1" fill="#edddbe"/>
<rect x="145.60" y="117" width="9.97" height="1" fill="#dfbf85"/>
<rect x="145.60" y="118" width="9.97" height="1" fill="#e9d3ac"/>
<rect x="145.60" y="119" width="9.97" height="1" fill="#f0e7d6"/>
<rect x="145.60" y="120" width="9.97" height="1" fill="#f3e8d3"/>
<rect x="145.60" y="121" width="9.97" height="1" fill="#e9d4ae"/>
<rect x="145.60" y="122" width="9.97" height="1" fill="#ecdfc8"/>
<rect x="145.60" y="123" width="9.97" height="1" fill="#edd9b4"/>
<rect x="145.60" y="124" width="9.97" height="1" fill="#e8d8ba"/>
<rect x="145.60" y="125" width="9.97" height="1" fill="#ead9b9"/>
<rect x="145.60" y="126" width="9.97" height="1" fill="#ead9bb"/>
<rect x="145.60" y="127" width="9.97" height="1" fill="#f3ebdc"/>
<rect x="145.60" y="128" width="9.97" height="1" fill="#e8d8b9"/>
<rect x="145.60" y="129" width="9.97" height="1" fill="#e9ce9e"/>
<rect x="145.60" y="130" width="9.97" height="1" fill="#ead2a4"/>
<rect x="145.60" y="131" width="9.97" height="1" fill="#ecd7b0"/>
<rect x="145.60" y="132" width="9.97" height="1" fill="#e5c793"/>
<rect x="145.60" y="133" width="9.97" height="1" fill="#f5f0e5"/>
<rect x="145.60" y="134" width="9.97" height="1" fill="#e9d7b5"/>
<rect x="145.60" y="135" width="9.97" height="1" fill="#deae5e"/>
<rect x="145.60" y="136" width="9.97" height="1" fill="#e2b566"/>
<rect x="145.60" y="137" width="9.97" height="1" fill="#e2cb9e"/>
<rect x="145.60" y="138" width="9.97" height="1" fill="#e9d7b5"/>
<rect x="145.60" y="139" width="9.97" height="1" fill="#e6c792"/>
<rect x="145.60" y="140" width="9.97" height="1" fill="#eee3ce"/>
<rect x="145.60" y="141" width="9.97" height="1" fill="#e9d3ab"/>
<rect x="145.60" y="142" width="9.97" height="1" fill="#e4cda2"/>
<rect x="145.60" y="143" width="9.97" height="1" fill="#eadcc3"/>
<rect x="145.60" y="144" width="9.97" height="1" fill="#efe1c7"/>
<rect x="145.60" y="145" width="9.97" height="1" fill="#e9d7b5"/>
<rect x="145.60" y="146" width="9.97" height="1" fill="#e9ce9d"/>
<rect x="145.60" y="147" width="9.97" height="1" fill="#e6ca9a"/>
<rect x="145.60" y="148" width="9.97" height="1" fill="#eadabc"/>
<rect x="145.60" y="149" width="9.97" height="1" fill="#f0e1c4"/>
<rect x="145.60" y="150" width="9.97" height="1" fill="#e9d9bc"/>
<rect x="145.60" y="151" width="9.97" height="1" fill="#e7d6b8"/>
<rect x="145.60" y="152" width="9.97" height="1" fill="#e4c082"/>
<rect x="145.60" y="153" width="9.97" height="1" fill="#eedec1"/>
<rect x="145.60" y="154" width="9.97" height="1" fill="#e7d5b4"/>
<rect x="145.60" y="155" width="9.97" height="1" fill="#f1e3c9"/>
<rect x="145.60" y="156" width="9.97" height="1" fill="#f4ecdf"/>
<rect x="145.60" y="157" width="9.97" height="1" fill="#e6cda1"/>
<rect x="145.60" y="158" width="9.97" height="1" fill="#e9d2a7"/>
<rect x="145.60" y="159" width="9.97" height="1" fill="#e6d4b2"/>
<rect x="145.60" y="160" width="9.97" height="1" fill="#e3cba0"/>
<rect x="145.60" y="161" width="9.97" height="1" fill="#efdfc0"/>
<rect x="145.60" y="162" width="9.97" height="1" fill="#f6f1e6"/>
<rect x="145.60" y="163" width="9.97" height="1" fill="#efe5d4"/>
<rect x="145.60" y="164" width="9.97" height="1" fill="#e9d2a8"/>
<rect x="145.60" y="165" width="9.97" height="1" fill="#ecddc1"/>
<rect x="145.60" y="166" width="9.97" height="1" fill="#edddbe"/>
<rect x="145.60" y="167" width="9.97" height="1" fill="#ddbc81"/>
<rect x="145.60" y="168" width="9.97" height="1" fill="#ead9b9"/>
<rect x="145.60" y="169" width="9.97" height="1" fill="#ead2a5"/>
<rect x="145.60" y="170" width="9.97" height="1" fill="#f0e6d2"/>
<rect x="145.60" y="171" width="9.97" height="1" fill="#eee2c9"/>
<rect x="145.60" y="172" width="9.97" height="1" fill="#e3bc76"/>
<rect x="145.60" y="173" width="9.97" height="1" fill="#ead9b9"/>
<rect x="145.60" y="174" width="9.97" height="1" fill="#e3c288"/>
<rect x="145.60" y="175" width="9.97" height="1" fill="#ddb167"/>
<rect x="145.60" y="176" width="9.97" height="1" fill="#e5c283"/>
<rect x="145.60" y="177" width="9.97" height="1" fill="#dec390"/>
<rect x="145.60" y="178" width="9.97" height="1" fill="#e3cba0"/>
<rect x="145.60" y="179" width="9.97" height="1" fill="#c58135"/>
<rect x="145.60" y="180" width="9.97" height="1" fill="#d3a967"/>
<rect x="145.60" y="181" width="9.97" height="1" fill="#d99f4c"/>
<rect x="145.60" y="182" width="9.97" height="1" fill="#e9d0a1"/>
<rect x="145.60" y="183" width="9.97" height="1" fill="#daac62"/>
<rect x="145.60" y="184" width="9.97" height="1" fill="#d1964a"/>
<rect x="145.60" y="185" width="9.97" height="1" fill="#d19141"/>
<rect x="145.60" y="186" width="9.97" height="1" fill="#d79b4a"/>
<rect x="145.60" y="187" width="9.97" height="1" fill="#d28b35"/>
<rect x="145.60" y="188" width="9.97" height="1" fill="#cf9245"/>
<rect x="145.60" y="189" width="9.97" height="1" fill="#b17239"/>
<rect x="145.60" y="190" width="9.97" height="1" fill="#b66f2f"/>
<rect x="145.60" y="191" width="9.97" height="1" fill="#d6ab68"/>
<rect x="145.60" y="192" width="9.97" height="1" fill="#e9cfa0"/>
<rect x="145.60" y="193" width="9.97" height="1" fill="#dab471"/>
<rect x="145.60" y="194" width="9.97" height="1" fill="#dca24e"/>
<rect x="145.60" y="195" width="9.97" height="1" fill="#d19446"/>
<rect x="145.60" y="196" width="9.97" height="1" fill="#d5ad6c"/>
<rect x="145.60" y="197" width="9.97" height="1" fill="#e7c88e"/>
<rect x="145.60" y="198" width="9.97" height="1" fill="#e3c693"/>
<rect x="145.60" y="199" width="9.97" height="1" fill="#d8b16e"/>
<rect x="145.60" y="200" width="9.97" height="1" fill="#daa658"/>
<rect x="145.60" y="201" width="9.97" height="1" fill="#d9b069"/>
<rect x="145.60" y="202" width="9.97" height="1" fill="#d5a55e"/>
<rect x="145.60" y="203" width="9.97" height="1" fill="#d2a15b"/>
<rect x="145.60" y="204" width="9.97" height="1" fill="#ce9b55"/>
<rect x="145.60" y="205" width="9.97" height="1" fill="#e2c289"/>
<rect x="145.60" y="206" width="9.97" height="1" fill="#c38843"/>
<rect x="145.60" y="207" width="9.97" height="1" fill="#d7a458"/>
<rect x="145.60" y="208" width="9.97" height="1" fill="#e0b66b"/>
<rect x="145.60" y="209" width="9.97" height="1" fill="#d1a05a"/>
<rect x="145.60" y="210" width="9.97" height="1" fill="#dcae63"/>
<rect x="145.60" y="211" width="9.97" height="1" fill="#e1b364"/>
<rect x="145.60" y="212" width="9.97" height="1" fill="#e1bc7a"/>
<rect x="145.60" y="213" width="9.97" height="1" fill="#ca9857"/>
<rect x="145.60" y="214" width="9.97" height="1" fill="#ae652c"/>
<rect x="145.60" y="215" width="9.97" height="1" fill="#dcb26a"/>
<rect x="154.97" y="54" width="9.97" height="1" fill="#e7d1ab"/>
<rect x="154.97" y="55" width="9.97" height="1" fill="#f4ede0"/>
<rect x="154.97" y="56" width="9.97" height="1" fill="#e5d0ab"/>
<rect x="154.97" y="57" width="9.97" height="1" fill="#e0c38e"/>
<rect x="154.97" y="58" width="9.97" height="1" fill="#e4c58d"/>
<rect x="154.97" y="59" width="9.97" height="1" fill="#e7c992"/>
<rect x="154.97" y="60" width="9.97" height="1" fill="#dcb97a"/>
<rect x="154.97" y="61" width="9.97" height="1" fill="#ecdab7"/>
<rect x="154.97" y="62" width="9.97" height="1" fill="#ddc08a"/>
<rect x="154.97" y="63" width="9.97" height="1" fill="#f4ede0"/>
<rect x="154.97" y="64" width="9.97" height="1" fill="#e3c692"/>
<rect x="154.97" y="65" width="9.97" height="1" fill="#f2e8d5"/>
<rect x="154.97" y="66" width="9.97" height="1" fill="#e6d2af"/>
<rect x="154.97" y="67" width="9.97" height="1" fill="#f1e6d1"/>
<rect x="154.97" y="68" width="9.97" height="1" fill="#ddc18d"/>
<rect x="154.97" y="69" width="9.97" height="1" fill="#ecdab6"/>
<rect x="154.97" y="70" width="9.97" height="1" fill="#e4c285"/>
<rect x="154.97" y="71" width="9.97" height="1" fill="#ede2cd"/>
<rect x="154.97" y="72" width="9.97" height="1" fill="#ebdaba"/>
<rect x="154.97" y="73" width="9.97" height="1" fill="#e9ce9f"/>
<rect x="154.97" y="74" width="9.97" height="1" fill="#f4eee2"/>
<rect x="154.97" y="75" width="9.97" height="1" fill="#e8d6b4"/>
<rect x="154.97" y="76" width="9.97" height="1" fill="#f0e5d3"/>
<rect x="154.97" y="77" width="9.97" height="1" fill="#e3c898"/>
<rect x="154.97" y="78" width="9.97" height="1" fill="#dfb872"/>
<rect x="154.97" y="79" width="9.97" height="1" fill="#efdfc1"/>
<rect x="154.97" y="80" width="9.97" height="1" fill="#f1e6d1"/>
<rect x="154.97" y="81" width="9.97" height="1" fill="#efe4ce"/>
<rect x="154.97" y="82" width="9.97" height="1" fill="#e7c587"/>
<rect x="154.97" y="83" width="9.97" height="1" fill="#f1e5d0"/>
<rect x="154.97" y="84" width="9.97" height="1" fill="#e6d2ae"/>
<rect x="154.97" y="85" width="9.97" height="1" fill="#ebdaba"/>
<rect x="154.97" y="86" width="9.97" height="1" fill="#f0e3cb"/>
<rect x="154.97" y="87" width="9.97" height="1" fill="#efe1c6"/>
<rect x="154.97" y="88" width="9.97" height="1" fill="#efe3cd"/>
<rect x="154.97" y="89" width="9.97" height="1" fill="#e1bc79"/>
<rect x="154.97" y="90" width="9.97" height="1" fill="#e6cea4"/>
<rect x="154.97" y="91" width="9.97" height="1" fill="#ead5b0"/>
<rect x="154.97" y="92" width="9.97" height="1" fill="#f1e5cd"/>
<rect x="154.97" y="93" width="9.97" height="1" fill="#f0e5d1"/>
<rect x="154.97" y="94" width="9.97" height="1" fill="#e3bd78"/>
<rect x="154.97" y="95" width="9.97" height="1" fill="#e8ce9f"/>
<rect x="154.97" y="96" width="9.97" height="1" fill="#e5c68d"/>
<rect x="154.97" y="97" width="9.97" height="1" fill="#ede1cb"/>
<rect x="154.97" y="98" width="9.97" height="1" fill="#f2ead8"/>
<rect x="154.97" y="99" width="9.97" height="1" fill="#efe3cc"/>
<rect x="154.97" y="100" width="9.97" height="1" fill="#e4cfa9"/>
<rect x="154.97" y="101" width="9.97" height="1" fill="#eddec0"/>
<rect x="154.97" y="102" width="9.97" height="1" fill="#e8d3ad"/>
<rect x="154.97" y="103" width="9.97" height="1" fill="#f0e1c5"/>
<rect x="154.97" y="104" width="9.97" height="1" fill="#e2c28a"/>
<rect x="154.97" y="105" width="9.97" height="1" fill="#d9b473"/>
<rect x="154.97" y="106" width="9.97" height="1" fill="#efdec0"/>
<rect x="154.97" y="107" width="9.97" height="1" fill="#e3c38d"/>
<rect x="154.97" y="108" width="9.97" height="1" fill="#e5c792"/>
<rect x="154.97" y="109" width="9.97" height="1" fill="#ece0ca"/>
<rect x="154.97" y="110" width="9.97" height="1" fill="#e3bc75"/>
<rect x="154.97" y="111" width="9.97" height="1" fill="#eee2cb"/>
<rect x="154.97" y="112" width="9.97" height="1" fill="#f6f1e6"/>
<rect x="154.97" y="113" width="9.97" height="1" fill="#e6d0a7"/>
<rect x="154.97" y="114" width="9.97" height="1" fill="#eddfc4"/>
<rect x="154.97" y="115" width="9.97" height="1" fill="#efe3cd"/>
<rect x="154.97" y="116" width="9.97" height="1" fill="#e5c996"/>
<rect x="154.97" y="117" width="9.97" height="1" fill="#eee4d1"/>
<rect x="154.97" y="118" width="9.97" height="1" fill="#dfbf85"/>
<rect x="154.97" y="119" width="9.97" height="1" fill="#e7cfa5"/>
<rect x="154.97" y="120" width="9.97" height="1" fill="#f0e6d4"/>
<rect x="154.97" y="121" width="9.97" height="1" fill="#ead9bb"/>
<rect x="154.97" y="122" width="9.97" height="1" fill="#eedec2"/>
<rect x="154.97" y="123" width="9.97" height="1" fill="#eddbba"/>
<rect x="154.97" y="124" width="9.97" height="1" fill="#dead5d"/>
<rect x="154.97" y="125" width="9.97" height="1" fill="#eddec4"/>
<rect x="154.97" y="126" width="9.97" height="1" fill="#efe2ca"/>
<rect x="154.97" y="127" width="9.97" height="1" fill="#efe3cd"/>
<rect x="154.97" y="128" width="9.97" height="1" fill="#ecdec4"/>
<rect x="154.97" y="129" width="9.97" height="1" fill="#efe2c9"/>
<rect x="154.97" y="130" width="9.97" height="1" fill="#f0e7d7"/>
<rect x="154.97" y="131" width="9.97" height="1" fill="#ead8b8"/>
<rect x="154.97" y="132" width="9.97" height="1" fill="#e5ca98"/>
<rect x="154.97" y="133" width="9.97" height="1" fill="#f1e8d7"/>
<rect x="154.97" y="134" width="9.97" height="1" fill="#edddbf"/>
<rect x="154.97" y="135" width="9.97" height="1" fill="#f3e7d3"/>
<rect x="154.97" y="136" width="9.97" height="1" fill="#f0e6d3"/>
<rect x="154.97" y="137" width="9.97" height="1" fill="#efe1c7"/>
<rect x="154.97" y="138" width="9.97" height="1" fill="#e2c99c"/>
<rect x="154.97" y="139" width="9.97" height="1" fill="#e6c68b"/>
<rect x="154.97" y="140" width="9.97" height="1" fill="#eedfc3"/>
<rect x="154.97" y="141" width="9.97" height="1" fill="#eedcba"/>
<rect x="154.97" y="142" width="9.97" height="1" fill="#e8d8bc"/>
<rect x="154.97" y="143" width="9.97" height="1" fill="#e0c697"/>
<rect x="154.97" y="144" width="9.97" height="1" fill="#eaddc4"/>
<rect x="154.97" y="145" width="9.97" height="1" fill="#e9ce9e"/>
<rect x="154.97" y="146" width="9.97" height="1" fill="#eedcbb"/>
<rect x="154.97" y="147" width="9.97" height="1" fill="#e9d1a5"/>
<rect x="154.97" y="148" width="9.97" height="1" fill="#ede2ce"/>
<rect x="154.97" y="149" width="9.97" height="1" fill="#e6c994"/>
<rect x="154.97" y="150" width="9.97" height="1" fill="#ead4ae"/>
<rect x="154.97" y="151" width="9.97" height="1" fill="#d5ac6a"/>
<rect x="154.97" y="152" width="9.97" height="1" fill="#f0e4cc"/>
<rect x="154.97" y="153" width="9.97" height="1" fill="#f3e8d3"/>
<rect x="154.97" y="154" width="9.97" height="1" fill="#e9d6b3"/>
<rect x="154.97" y="155" width="9.97" height="1" fill="#efe4cf"/>
<rect x="154.97" y="156" width="9.97" height="1" fill="#ead8b4"/>
<rect x="154.97" y="157" width="9.97" height="1" fill="#ecdfc7"/>
<rect x="154.97" y="158" width="9.97" height="1" fill="#efe4cf"/>
<rect x="154.97" y="159" width="9.97" height="1" fill="#edddbe"/>
<rect x="154.97" y="160" width="9.97" height="1" fill="#e6d3af"/>
<rect x="154.97" y="161" width="9.97" height="1" fill="#ecddc2"/>
<rect x="154.97" y="162" width="9.97" height="1" fill="#f3ebda"/>
<rect x="154.97" y="163" width="9.97" height="1" fill="#dfb366"/>
<rect x="154.97" y="164" width="9.97" height="1" fill="#debf85"/>
<rect x="154.97" y="165" width="9.97" height="1" fill="#e7d2ab"/>
<rect x="154.97" y="166" width="9.97" height="1" fill="#f5eedf"/>
<rect x="154.97" y="167" width="9.97" height="1" fill="#e6c995"/>
<rect x="154.97" y="168" width="9.97" height="1" fill="#f3ebdb"/>
<rect x="154.97" y="169" width="9.97" height="1" fill="#f5efe5"/>
<rect x="154.97" y="170" width="9.97" height="1" fill="#e4d0a9"/>
<rect x="154.97" y="171" width="9.97" height="1" fill="#f0e7d5"/>
<rect x="154.97" y="172" width="9.97" height="1" fill="#ebdcc0"/>
<rect x="154.97" y="173" width="9.97" height="1" fill="#e8d1a6"/>
<rect x="154.97" y="174" width="9.97" height="1" fill="#dab069"/>
<rect x="154.97" y="175" width="9.97" height="1" fill="#bf7933"/>
<rect x="154.97" y="176" width="9.97" height="1" fill="#e3bb74"/>
<rect x="154.97" y="177" width="9.97" height="1" fill="#e7cb99"/>
<rect x="154.97" y="178" width="9.97" height="1" fill="#c27d34"/>
<rect x="154.97" y="179" width="9.97" height="1" fill="#c58942"/>
<rect x="154.97" y="180" width="9.97" height="1" fill="#d8a559"/>
<rect x="154.97" y="181" width="9.97" height="1" fill="#daae67"/>
<rect x="154.97" y="182" width="9.97" height="1" fill="#d09f5a"/>
<rect x="154.97" y="183" width="9.97" height="1" fill="#9d5c2f"/>
<rect x="154.97" y="184" width="9.97" height="1" fill="#b67536"/>
<rect x="154.97" y="185" width="9.97" height="1" fill="#b77030"/>
<rect x="154.97" y="186" width="9.97" height="1" fill="#9e5a2d"/>
<rect x="154.97" y="187" width="9.97" height="1" fill="#d7b06e"/>
<rect x="154.97" y="188" width="9.97" height="1" fill="#d89b48"/>
<rect x="154.97" y="189" width="9.97" height="1" fill="#ddbb7e"/>
<rect x="154.97" y="190" width="9.97" height="1" fill="#d7a151"/>
<rect x="154.97" y="191" width="9.97" height="1" fill="#e2b96d"/>
<rect x="154.97" y="192" width="9.97" height="1" fill="#e0b972"/>
<rect x="154.97" y="193" width="9.97" height="1" fill="#daa454"/>
<rect x="154.97" y="194" width="9.97" height="1" fill="#cc9249"/>
<rect x="154.97" y="195" width="9.97" height="1" fill="#bb7f40"/>
<rect x="154.97" y="196" width="9.97" height="1" fill="#b47135"/>
<rect x="154.97" y="197" width="9.97" height="1" fill="#e5c383"/>
<rect x="154.97" y="198" width="9.97" height="1" fill="#d58c34"/>
<rect x="154.97" y="199" width="9.97" height="1" fill="#d3a058"/>
<rect x="154.97" y="200" width="9.97" height="1" fill="#c67828"/>
<rect x="154.97" y="201" width="9.97" height="1" fill="#bf7831"/>
<rect x="154.97" y="202" width="9.97" height="1" fill="#e5bf7b"/>
<rect x="154.97" y="203" width="9.97" height="1" fill="#cb9651"/>
<rect x="154.97" y="204" width="9.97" height="1" fill="#bc7936"/>
<rect x="154.97" y="205" width="9.97" height="1" fill="#cb8433"/>
<rect x="154.97" y="206" width="9.97" height="1" fill="#c97f2e"/>
<rect x="154.97" y="207" width="9.97" height="1" fill="#a96732"/>
<rect x="154.97" y="208" width="9.97" height="1" fill="#c2843d"/>
<rect x="154.97" y="209" width="9.97" height="1" fill="#9f5728"/>
<rect x="154.97" y="210" width="9.97" height="1" fill="#ac5920"/>
<rect x="154.97" y="211" width="9.97" height="1" fill="#c58035"/>
<rect x="154.97" y="212" width="9.97" height="1" fill="#dab26c"/>
<rect x="154.97" y="213" width="9.97" height="1" fill="#c88940"/>
<rect x="154.97" y="214" width="9.97" height="1" fill="#d09448"/>
<rect x="154.97" y="215" width="9.97" height="1" fill="#d5a35b"/>
<rect x="164.33" y="54" width="9.97" height="1" fill="#e6d4b2"/>
<rect x="164.33" y="55" width="9.97" height="1" fill="#d8b371"/>
<rect x="164.33" y="56" width="9.97" height="1" fill="#e1ca9f"/>
<rect x="164.33" y="57" width="9.97" height="1" fill="#eedcbb"/>
<rect x="164.33" y="58" width="9.97" height="1" fill="#eee1c8"/>
<rect x="164.33" y="59" width="9.97" height="1" fill="#e9d7b5"/>
<rect x="164.33" y="60" width="9.97" height="1" fill="#ead6b1"/>
<rect x="164.33" y="61" width="9.97" height="1" fill="#efe3c9"/>
<rect x="164.33" y="62" width="9.97" height="1" fill="#edddbe"/>
<rect x="164.33" y="63" width="9.97" height="1" fill="#e5cea5"/>
<rect x="164.33" y="64" width="9.97" height="1" fill="#f0e3c9"/>
<rect x="164.33" y="65" width="9.97" height="1" fill="#ead8b8"/>
<rect x="164.33" y="66" width="9.97" height="1" fill="#ecdbbd"/>
<rect x="164.33" y="67" width="9.97" height="1" fill="#e2c795"/>
<rect x="164.33" y="68" width="9.97" height="1" fill="#daba7f"/>
<rect x="164.33" y="69" width="9.97" height="1" fill="#e9dabe"/>
<rect x="164.33" y="70" width="9.97" height="1" fill="#f0e1c5"/>
<rect x="164.33" y="71" width="9.97" height="1" fill="#f5eee1"/>
<rect x="164.33" y="72" width="9.97" height="1" fill="#ddbb7d"/>
<rect x="164.33" y="73" width="9.97" height="1" fill="#e9d7b6"/>
<rect x="164.33" y="74" width="9.97" height="1" fill="#ebd7b2"/>
<rect x="164.33" y="75" width="9.97" height="1" fill="#e3c897"/>
<rect x="164.33" y="76" width="9.97" height="1" fill="#e7c68b"/>
<rect x="164.33" y="77" width="9.97" height="1" fill="#eddcbb"/>
<rect x="164.33" y="78" width="9.97" height="1" fill="#f0e6d3"/>
<rect x="164.33" y="79" width="9.97" height="1" fill="#dfb975"/>
<rect x="164.33" y="80" width="9.97" height="1" fill="#ebd5ac"/>
<rect x="164.33" y="81" width="9.97" height="1" fill="#e3cb9d"/>
<rect x="164.33" y="82" width="9.97" height="1" fill="#f7f4ee"/>
<rect x="164.33" y="83" width="9.97" height="1" fill="#e2c99a"/>
<rect x="164.33" y="84" width="9.97" height="1" fill="#f5eedf"/>
<rect x="164.33" y="85" width="9.97" height="1" fill="#ebd7b0"/>
<rect x="164.33" y="86" width="9.97" height="1" fill="#f1e6cf"/>
<rect x="164.33" y="87" width="9.97" height="1" fill="#eedfc2"/>
<rect x="164.33" y="88" width="9.97" height="1" fill="#d8b06c"/>
<rect x="164.33" y="89" width="9.97" height="1" fill="#e6d3af"/>
<rect x="164.33" y="90" width="9.97" height="1" fill="#e3c999"/>
<rect x="164.33" y="91" width="9.97" height="1" fill="#eedec2"/>
<rect x="164.33" y="92" width="9.97" height="1" fill="#e9ce9e"/>
<rect x="164.33" y="93" width="9.97" height="1" fill="#f3e8d3"/>
<rect x="164.33" y="94" width="9.97" height="1" fill="#ead7b3"/>
<rect x="164.33" y="95" width="9.97" height="1" fill="#e6c17e"/>
<rect x="164.33" y="96" width="9.97" height="1" fill="#e5c794"/>
<rect x="164.33" y="97" width="9.97" height="1" fill="#f5eede"/>
<rect x="164.33" y="98" width="9.97" height="1" fill="#e7c88e"/>
<rect x="164.33" y="99" width="9.97" height="1" fill="#eedec2"/>
<rect x="164.33" y="100" width="9.97" height="1" fill="#f5eee2"/>
<rect x="164.33" y="101" width="9.97" height="1" fill="#f2ead9"/>
<rect x="164.33" y="102" width="9.97" height="1" fill="#e7d6b6"/>
<rect x="164.33" y="103" width="9.97" height="1" fill="#e8d0a5"/>
<rect x="164.33" y="104" width="9.97" height="1" fill="#e6c487"/>
<rect x="164.33" y="105" width="9.97" height="1" fill="#e8cb97"/>
<rect x="164.33" y="106" width="9.97" height="1" fill="#f3ebdc"/>
<rect x="164.33" y="107" width="9.97" height="1" fill="#e6cea5"/>
<rect x="164.33" y="108" width="9.97" height="1" fill="#eadbbf"/>
<rect x="164.33" y="109" width="9.97" height="1" fill="#ebd2a4"/>
<rect x="164.33" y="110" width="9.97" height="1" fill="#ede0c7"/>
<rect x="164.33" y="111" width="9.97" height="1" fill="#e7d4b0"/>
<rect x="164.33" y="112" width="9.97" height="1" fill="#e9d7b5"/>
<rect x="164.33" y="113" width="9.97" height="1" fill="#e4c792"/>
<rect x="164.33" y="114" width="9.97" height="1" fill="#e0bf83"/>
<rect x="164.33" y="115" width="9.97" height="1" fill="#e4bf7b"/>
<rect x="164.33" y="116" width="9.97" height="1" fill="#ebd8b2"/>
<rect x="164.33" y="117" width="9.97" height="1" fill="#dbad61"/>
<rect x="164.33" y="118" width="9.97" height="1" fill="#e9d6b5"/>
<rect x="164.33" y="119" width="9.97" height="1" fill="#f4eee2"/>
<rect x="164.33" y="120" width="9.97" height="1" fill="#e2cca3"/>
<rect x="164.33" y="121" width="9.97" height="1" fill="#ece0c8"/>
<rect x="164.33" y="122" width="9.97" height="1" fill="#eddbba"/>
<rect x="164.33" y="123" width="9.97" height="1" fill="#e7d7b8"/>
<rect x="164.33" y="124" width="9.97" height="1" fill="#e3cea6"/>
<rect x="164.33" y="125" width="9.97" height="1" fill="#dfbe82"/>
<rect x="164.33" y="126" width="9.97" height="1" fill="#ebd7b1"/>
<rect x="164.33" y="127" width="9.97" height="1" fill="#f2e6ce"/>
<rect x="164.33" y="128" width="9.97" height="1" fill="#e7d7b9"/>
<rect x="164.33" y="129" width="9.97" height="1" fill="#eee2cb"/>
<rect x="164.33" y="130" width="9.97" height="1" fill="#ead3a8"/>
<rect x="164.33" y="131" width="9.97" height="1" fill="#deb974"/>
<rect x="164.33" y="132" width="9.97" height="1" fill="#dcbd85"/>
<rect x="164.33" y="133" width="9.97" height="1" fill="#e0c798"/>
<rect x="164.33" y="134" width="9.97" height="1" fill="#ddb874"/>
<rect x="164.33" y="135" width="9.97" height="1" fill="#e8d7b8"/>
<rect x="164.33" y="136" width="9.97" height="1" fill="#efe4cf"/>
<rect x="164.33" y="137" width="9.97" height="1" fill="#e8d7b7"/>
<rect x="164.33" y="138" width="9.97" height="1" fill="#e8d2ab"/>
<rect x="164.33" y="139" width="9.97" height="1" fill="#e9d4ac"/>
<rect x="164.33" y="140" width="9.97" height="1" fill="#ede1ca"/>
<rect x="164.33" y="141" width="9.97" height="1" fill="#ebd2a4"/>
<rect x="164.33" y="142" width="9.97" height="1" fill="#e4c690"/>
<rect x="164.33" y="143" width="9.97" height="1" fill="#f3e9d7"/>
<rect x="164.33" y="144" width="9.97" height="1" fill="#f0e5cf"/>
<rect x="164.33" y="145" width="9.97" height="1" fill="#f0e2c8"/>
<rect x="164.33" y="146" width="9.97" height="1" fill="#e3c083"/>
<rect x="164.33" y="147" width="9.97" height="1" fill="#f0e2c8"/>
<rect x="164.33" y="148" width="9.97" height="1" fill="#ecdec6"/>
<rect x="164.33" y="149" width="9.97" height="1" fill="#f4ebd9"/>
<rect x="164.33" y="150" width="9.97" height="1" fill="#efe5d1"/>
<rect x="164.33" y="151" width="9.97" height="1" fill="#e7c78e"/>
<rect x="164.33" y="152" width="9.97" height="1" fill="#f5efe4"/>
<rect x="164.33" y="153" width="9.97" height="1" fill="#f5ecdc"/>
<rect x="164.33" y="154" width="9.97" height="1" fill="#e7d1ab"/>
<rect x="164.33" y="155" width="9.97" height="1" fill="#e8d3ad"/>
<rect x="164.33" y="156" width="9.97" height="1" fill="#f1e6d1"/>
<rect x="164.33" y="157" width="9.97" height="1" fill="#e9d7b5"/>
<rect x="164.33" y="158" width="9.97" height="1" fill="#f2eadb"/>
<rect x="164.33" y="159" width="9.97" height="1" fill="#f4eee3"/>
<rect x="164.33" y="160" width="9.97" height="1" fill="#ddba7b"/>
<rect x="164.33" y="161" width="9.97" height="1" fill="#f2e5cd"/>
<rect x="164.33" y="162" width="9.97" height="1" fill="#f1e6d2"/>
<rect x="164.33" y="163" width="9.97" height="1" fill="#f2eadb"/>
<rect x="164.33" y="164" width="9.97" height="1" fill="#e2c288"/>
<rect x="164.33" y="165" width="9.97" height="1" fill="#dcb978"/>
<rect x="164.33" y="166" width="9.97" height="1" fill="#eee0c5"/>
<rect x="164.33" y="167" width="9.97" height="1" fill="#e7cd9d"/>
<rect x="164.33" y="168" width="9.97" height="1" fill="#e3cda5"/>
<rect x="164.33" y="169" width="9.97" height="1" fill="#e7d2ac"/>
<rect x="164.33" y="170" width="9.97" height="1" fill="#dbba7e"/>
<rect x="164.33" y="171" width="9.97" height="1" fill="#efe6d4"/>
<rect x="164.33" y="172" width="9.97" height="1" fill="#ead4ac"/>
<rect x="164.33" y="173" width="9.97" height="1" fill="#f1e7d3"/>
<rect x="164.33" y="174" width="9.97" height="1" fill="#d3a968"/>
<rect x="164.33" y="175" width="9.97" height="1" fill="#cfa260"/>
<rect x="164.33" y="176" width="9.97" height="1" fill="#d6ad6a"/>
<rect x="164.33" y="177" width="9.97" height="1" fill="#a86834"/>
<rect x="164.33" y="178" width="9.97" height="1" fill="#cf832d"/>
<rect x="164.33" y="179" width="9.97" height="1" fill="#d6ac6a"/>
<rect x="164.33" y="180" width="9.97" height="1" fill="#d4994a"/>
<rect x="164.33" y="181" width="9.97" height="1" fill="#a75f2b"/>
<rect x="164.33" y="182" width="9.97" height="1" fill="#c17c35"/>
<rect x="164.33" y="183" width="9.97" height="1" fill="#ca8b40"/>
<rect x="164.33" y="184" width="9.97" height="1" fill="#e3c186"/>
<rect x="164.33" y="185" width="9.97" height="1" fill="#cc9a57"/>
<rect x="164.33" y="186" width="9.97" height="1" fill="#d89a46"/>
<rect x="164.33" y="187" width="9.97" height="1" fill="#e5c488"/>
<rect x="164.33" y="188" width="9.97" height="1" fill="#cc7d28"/>
<rect x="164.33" y="189" width="9.97" height="1" fill="#964b1f"/>
<rect x="164.33" y="190" width="9.97" height="1" fill="#d99e4c"/>
<rect x="164.33" y="191" width="9.97" height="1" fill="#ebd9b7"/>
<rect x="164.33" y="192" width="9.97" height="1" fill="#ce9851"/>
<rect x="164.33" y="193" width="9.97" height="1" fill="#d3a35e"/>
<rect x="164.33" y="194" width="9.97" height="1" fill="#d38830"/>
<rect x="164.33" y="195" width="9.97" height="1" fill="#af6c32"/>
<rect x="164.33" y="196" width="9.97" height="1" fill="#a96c38"/>
<rect x="164.33" y="197" width="9.97" height="1" fill="#cb8e44"/>
<rect x="164.33" y="198" width="9.97" height="1" fill="#dcb46e"/>
<rect x="164.33" y="199" width="9.97" height="1" fill="#ce9850"/>
<rect x="164.33" y="200" width="9.97" height="1" fill="#ce802b"/>
<rect x="164.33" y="201" width="9.97" height="1" fill="#c57526"/>
<rect x="164.33" y="202" width="9.97" height="1" fill="#d4903c"/>
<rect x="164.33" y="203" width="9.97" height="1" fill="#b56f2f"/>
<rect x="164.33" y="204" width="9.97" height="1" fill="#a25323"/>
<rect x="164.33" y="205" width="9.97" height="1" fill="#c99049"/>
<rect x="164.33" y="206" width="9.97" height="1" fill="#aa5d26"/>
<rect x="164.33" y="207" width="9.97" height="1" fill="#b8712e"/>
<rect x="164.33" y="208" width="9.97" height="1" fill="#cb934b"/>
<rect x="164.33" y="209" width="9.97" height="1" fill="#d99c48"/>
<rect x="164.33" y="210" width="9.97" height="1" fill="#ac6b35"/>
<rect x="164.33" y="211" width="9.97" height="1" fill="#d48931"/>
<rect x="164.33" y="212" width="9.97" height="1" fill="#cb9652"/>
<rect x="164.33" y="213" width="9.97" height="1" fill="#cd9751"/>
<rect x="164.33" y="214" width="9.97" height="1" fill="#ca7b28"/>
<rect x="164.33" y="215" width="9.97" height="1" fill="#d99e4d"/>
<rect x="173.70" y="54" width="9.97" height="1" fill="#e8d4b0"/>
<rect x="173.70" y="55" width="9.97" height="1" fill="#ecdec2"/>
<rect x="173.70" y="56" width="9.97" height="1" fill="#eee0c3"/>
<rect x="173.70" y="57" width="9.97" height="1" fill="#f0e2c7"/>
<rect x="173.70" y="58" width="9.97" height="1" fill="#e6cfa6"/>
<rect x="173.70" y="59" width="9.97" height="1" fill="#ecdec2"/>
<rect x="173.70" y="60" width="9.97" height="1" fill="#ebd4a9"/>
<rect x="173.70" y="61" width="9.97" height="1" fill="#e6d3b0"/>
<rect x="173.70" y="62" width="9.97" height="1" fill="#dfb871"/>
<rect x="173.70" y="63" width="9.97" height="1" fill="#ddbb7d"/>
<rect x="173.70" y="64" width="9.97" height="1" fill="#e5c68d"/>
<rect x="173.70" y="65" width="9.97" height="1" fill="#e3c389"/>
<rect x="173.70" y="66" width="9.97" height="1" fill="#f1e6d0"/>
<rect x="173.70" y="67" width="9.97" height="1" fill="#e9d8ba"/>
<rect x="173.70" y="68" width="9.97" height="1" fill="#ebddc2"/>
<rect x="173.70" y="69" width="9.97" height="1" fill="#e6c892"/>
<rect x="173.70" y="70" width="9.97" height="1" fill="#eedfc3"/>
<rect x="173.70" y="71" width="9.97" height="1" fill="#ebd9b7"/>
<rect x="173.70" y="72" width="9.97" height="1" fill="#f0e6d3"/>
<rect x="173.70" y="73" width="9.97" height="1" fill="#f2e6cf"/>
<rect x="173.70" y="74" width="9.97" height="1" fill="#f0e5ce"/>
<rect x="173.70" y="75" width="9.97" height="1" fill="#f5ecdc"/>
<rect x="173.70" y="76" width="9.97" height="1" fill="#eddfc5"/>
<rect x="173.70" y="77" width="9.97" height="1" fill="#ebdcbf"/>
<rect x="173.70" y="78" width="9.97" height="1" fill="#e8d3ac"/>
<rect x="173.70" y="79" width="9.97" height="1" fill="#ebd5ac"/>
<rect x="173.70" y="80" width="9.97" height="1" fill="#eeddbd"/>
<rect x="173.70" y="81" width="9.97" height="1" fill="#e5c17f"/>
<rect x="173.70" y="82" width="9.97" height="1" fill="#ede2cd"/>
<rect x="173.70" y="83" width="9.97" height="1" fill="#e4c795"/>
<rect x="173.70" y="84" width="9.97" height="1" fill="#e7d4b1"/>
<rect x="173.70" y="85" width="9.97" height="1" fill="#ebdbbc"/>
<rect x="173.70" y="86" width="9.97" height="1" fill="#dec18a"/>
<rect x="173.70" y="87" width="9.97" height="1" fill="#f6efe1"/>
<rect x="173.70" y="88" width="9.97" height="1" fill="#e5c58c"/>
<rect x="173.70" y="89" width="9.97" height="1" fill="#eee0c3"/>
<rect x="173.70" y="90" width="9.97" height="1" fill="#ecd7af"/>
<rect x="173.70" y="91" width="9.97" height="1" fill="#f0e4cd"/>
<rect x="173.70" y="92" width="9.97" height="1" fill="#e5cea5"/>
<rect x="173.70" y="93" width="9.97" height="1" fill="#eedebf"/>
<rect x="173.70" y="94" width="9.97" height="1" fill="#f1e7d2"/>
<rect x="173.70" y="95" width="9.97" height="1" fill="#e9d7b5"/>
<rect x="173.70" y="96" width="9.97" height="1" fill="#ebdfc7"/>
<rect x="173.70" y="97" width="9.97" height="1" fill="#ecddc0"/>
<rect x="173.70" y="98" width="9.97" height="1" fill="#eadbbe"/>
<rect x="173.70" y="99" width="9.97" height="1" fill="#e8d3ad"/>
<rect x="173.70" y="100" width="9.97" height="1" fill="#e7d4b0"/>
<rect x="173.70" y="101" width="9.97" height="1" fill="#ebdbbd"/>
<rect x="173.70" y="102" width="9.97" height="1" fill="#eadbbe"/>
<rect x="173.70" y="103" width="9.97" height="1" fill="#e5cda1"/>
<rect x="173.70" y="104" width="9.97" height="1" fill="#e1c89b"/>
<rect x="173.70" y="105" width="9.97" height="1" fill="#e1c592"/>
<rect x="173.70" y="106" width="9.97" height="1" fill="#e9dabe"/>
<rect x="173.70" y="107" width="9.97" height="1" fill="#efe2c7"/>
<rect x="173.70" y="108" width="9.97" height="1" fill="#e7d6b7"/>
<rect x="173.70" y="109" width="9.97" height="1" fill="#e5c180"/>
<rect x="173.70" y="110" width="9.97" height="1" fill="#ead5ae"/>
<rect x="173.70" y="111" width="9.97" height="1" fill="#ebd6af"/>
<rect x="173.70" y="112" width="9.97" height="1" fill="#e8d2ab"/>
<rect x="173.70" y="113" width="9.97" height="1" fill="#e1ca9e"/>
<rect x="173.70" y="114" width="9.97" height="1" fill="#f2e7d1"/>
<rect x="173.70" y="115" width="9.97" height="1" fill="#e5d2ae"/>
<rect x="173.70" y="116" width="9.97" height="1" fill="#ecddc0"/>
<rect x="173.70" y="117" width="9.97" height="1" fill="#e4d1ac"/>
<rect x="173.70" y="118" width="9.97" height="1" fill="#f7f4ed"/>
<rect x="173.70" y="119" width="9.97" height="1" fill="#edddbe"/>
<rect x="173.70" y="120" width="9.97" height="1" fill="#e4d2ad"/>
<rect x="173.70" y="121" width="9.97" height="1" fill="#f2e9d6"/>
<rect x="173.70" y="122" width="9.97" height="1" fill="#eddec0"/>
<rect x="173.70" y="123" width="9.97" height="1" fill="#ddb166"/>
<rect x="173.70" y="124" width="9.97" height="1" fill="#f0e1c4"/>
<rect x="173.70" y="125" width="9.97" height="1" fill="#e4c58e"/>
<rect x="173.70" y="126" width="9.97" height="1" fill="#ecd6ad"/>
<rect x="173.70" y="127" width="9.97" height="1" fill="#e6cfa5"/>
<rect x="173.70" y="128" width="9.97" height="1" fill="#ecddc0"/>
<rect x="173.70" y="129" width="9.97" height="1" fill="#e5cea5"/>
<rect x="173.70" y="130" width="9.97" height="1" fill="#ecdbb9"/>
<rect x="173.70" y="131" width="9.97" height="1" fill="#e4d0aa"/>
<rect x="173.70" y="132" width="9.97" height="1" fill="#e8d2ab"/>
<rect x="173.70" y="133" width="9.97" height="1" fill="#e9d5b1"/>
<rect x="173.70" y="134" width="9.97" height="1" fill="#ecd8b3"/>
<rect x="173.70" y="135" width="9.97" height="1" fill="#eedec0"/>
<rect x="173.70" y="136" width="9.97" height="1" fill="#efe2c9"/>
<rect x="173.70" y="137" width="9.97" height="1" fill="#ede1cc"/>
<rect x="173.70" y="138" width="9.97" height="1" fill="#efe6d5"/>
<rect x="173.70" y="139" width="9.97" height="1" fill="#f4ecdd"/>
<rect x="173.70" y="140" width="9.97" height="1" fill="#ecd5ac"/>
<rect x="173.70" y="141" width="9.97" height="1" fill="#eaddc5"/>
<rect x="173.70" y="142" width="9.97" height="1" fill="#ebd7b1"/>
<rect x="173.70" y="143" width="9.97" height="1" fill="#ecd9b7"/>
<rect x="173.70" y="144" width="9.97" height="1" fill="#e4c691"/>
<rect x="173.70" y="145" width="9.97" height="1" fill="#efe3cd"/>
<rect x="173.70" y="146" width="9.97" height="1" fill="#e3c897"/>
<rect x="173.70" y="147" width="9.97" height="1" fill="#f6f1e7"/>
<rect x="173.70" y="148" width="9.97" height="1" fill="#e9d6b3"/>
<rect x="173.70" y="149" width="9.97" height="1" fill="#e7d0a7"/>
<rect x="173.70" y="150" width="9.97" height="1" fill="#e9d9bd"/>
<rect x="173.70" y="151" width="9.97" height="1" fill="#f5edde"/>
<rect x="173.70" y="152" width="9.97" height="1" fill="#dfbc7c"/>
<rect x="173.70" y="153" width="9.97" height="1" fill="#e9ce9e"/>
<rect x="173.70" y="154" width="9.97" height="1" fill="#eedfc3"/>
<rect x="173.70" y="155" width="9.97" height="1" fill="#f0e3cb"/>
<rect x="173.70" y="156" width="9.97" height="1" fill="#f4ecdb"/>
<rect x="173.70" y="157" width="9.97" height="1" fill="#ebdcc1"/>
<rect x="173.70" y="158" width="9.97" height="1" fill="#f1e8d6"/>
<rect x="173.70" y="159" width="9.97" height="1" fill="#f0e7d5"/>
<rect x="173.70" y="160" width="9.97" height="1" fill="#e2c694"/>
<rect x="173.70" y="161" width="9.97" height="1" fill="#ebddc2"/>
<rect x="173.70" y="162" width="9.97" height="1" fill="#eee4d1"/>
<rect x="173.70" y="163" width="9.97" height="1" fill="#ece0c8"/>
<rect x="173.70" y="164" width="9.97" height="1" fill="#e7d6b6"/>
<rect x="173.70" y="165" width="9.97" height="1" fill="#e9cfa0"/>
<rect x="173.70" y="166" width="9.97" height="1" fill="#f7f4ee"/>
<rect x="173.70" y="167" width="9.97" height="1" fill="#e6c891"/>
<rect x="173.70" y="168" width="9.97" height="1" fill="#eddfc6"/>
<rect x="173.70" y="169" width="9.97" height="1" fill="#f1e8d7"/>
<rect x="173.70" y="170" width="9.97" height="1" fill="#e9cfa1"/>
<rect x="173.70" y="171" width="9.97" height="1" fill="#eddbbb"/>
<rect x="173.70" y="172" width="9.97" height="1" fill="#e8cfa3"/>
<rect x="173.70" y="173" width="9.97" height="1" fill="#efe1c7"/>
<rect x="173.70" y="174" width="9.97" height="1" fill="#be8140"/>
<rect x="173.70" y="175" width="9.97" height="1" fill="#bb7633"/>
<rect x="173.70" y="176" width="9.97" height="1" fill="#d19447"/>
<rect x="173.70" y="177" width="9.97" height="1" fill="#a05120"/>
<rect x="173.70" y="178" width="9.97" height="1" fill="#ba7836"/>
<rect x="173.70" y="179" width="9.97" height="1" fill="#b96c28"/>
<rect x="173.70" y="180" width="9.97" height="1" fill="#d1a05a"/>
<rect x="173.70" y="181" width="9.97" height="1" fill="#793e21"/>
<rect x="173.70" y="182" width="9.97" height="1" fill="#c88a41"/>
<rect x="173.70" y="183" width="9.97" height="1" fill="#c48b47"/>
<rect x="173.70" y="184" width="9.97" height="1" fill="#a35523"/>
<rect x="173.70" y="185" width="9.97" height="1" fill="#8e441d"/>
<rect x="173.70" y="186" width="9.97" height="1" fill="#97552c"/>
<rect x="173.70" y="187" width="9.97" height="1" fill="#c58a43"/>
<rect x="173.70" y="188" width="9.97" height="1" fill="#b46221"/>
<rect x="173.70" y="189" width="9.97" height="1" fill="#b77231"/>
<rect x="173.70" y="190" width="9.97" height="1" fill="#c17227"/>
<rect x="173.70" y="191" width="9.97" height="1" fill="#d2842a"/>
<rect x="173.70" y="192" width="9.97" height="1" fill="#a8541e"/>
<rect x="173.70" y="193" width="9.97" height="1" fill="#883f1b"/>
<rect x="173.70" y="194" width="9.97" height="1" fill="#b0743b"/>
<rect x="173.70" y="195" width="9.97" height="1" fill="#8a3e18"/>
<rect x="173.70" y="196" width="9.97" height="1" fill="#68331e"/>
<rect x="173.70" y="197" width="9.97" height="1" fill="#aa5a22"/>
<rect x="173.70" y="198" width="9.97" height="1" fill="#cd8633"/>
<rect x="173.70" y="199" width="9.97" height="1" fill="#934b22"/>
<rect x="173.70" y="200" width="9.97" height="1" fill="#c57628"/>
<rect x="173.70" y="201" width="9.97" height="1" fill="#b05f23"/>
<rect x="173.70" y="202" width="9.97" height="1" fill="#ab662f"/>
<rect x="173.70" y="203" width="9.97" height="1" fill="#9a552a"/>
<rect x="173.70" y="204" width="9.97" height="1" fill="#aa6731"/>
<rect x="173.70" y="205" width="9.97" height="1" fill="#87411d"/>
<rect x="173.70" y="206" width="9.97" height="1" fill="#9d5c31"/>
<rect x="173.70" y="207" width="9.97" height="1" fill="#a7602b"/>
<rect x="173.70" y="208" width="9.97" height="1" fill="#a15c2c"/>
<rect x="173.70" y="209" width="9.97" height="1" fill="#aa5f28"/>
<rect x="173.70" y="210" width="9.97" height="1" fill="#ac6b34"/>
<rect x="173.70" y="211" width="9.97" height="1" fill="#b87939"/>
<rect x="173.70" y="212" width="9.97" height="1" fill="#b16225"/>
<rect x="173.70" y="213" width="9.97" height="1" fill="#99542a"/>
<rect x="173.70" y="214" width="9.97" height="1" fill="#93481e"/>
<rect x="173.70" y="215" width="9.97" height="1" fill="#d99d49"/>
<rect x="183.07" y="54" width="9.97" height="1" fill="#f1e3ca"/>
<rect x="183.07" y="55" width="9.97" height="1" fill="#f1e5ce"/>
<rect x="183.07" y="56" width="9.97" height="1" fill="#eee1c8"/>
<rect x="183.07" y="57" width="9.97" height="1" fill="#eedfc2"/>
<rect x="183.07" y="58" width="9.97" height="1" fill="#eddfc5"/>
<rect x="183.07" y="59" width="9.97" height="1" fill="#e4cb9e"/>
<rect x="183.07" y="60" width="9.97" height="1" fill="#e2ba74"/>
<rect x="183.07" y="61" width="9.97" height="1" fill="#e9d4ab"/>
<rect x="183.07" y="62" width="9.97" height="1" fill="#eee3cc"/>
<rect x="183.07" y="63" width="9.97" height="1" fill="#f0e7d5"/>
<rect x="183.07" y="64" width="9.97" height="1" fill="#e9d5b2"/>
<rect x="183.07" y="65" width="9.97" height="1" fill="#e7cc9b"/>
<rect x="183.07" y="66" width="9.97" height="1" fill="#ebddc3"/>
<rect x="183.07" y="67" width="9.97" height="1" fill="#e4cea4"/>
<rect x="183.07" y="68" width="9.97" height="1" fill="#ece0c8"/>
<rect x="183.07" y="69" width="9.97" height="1" fill="#f7f3ea"/>
<rect x="183.07" y="70" width="9.97" height="1" fill="#f3e7d2"/>
<rect x="183.07" y="71" width="9.97" height="1" fill="#e5cc9f"/>
<rect x="183.07" y="72" width="9.97" height="1" fill="#ecdcbe"/>
<rect x="183.07" y="73" width="9.97" height="1" fill="#eddbba"/>
<rect x="183.07" y="74" width="9.97" height="1" fill="#e0ba79"/>
<rect x="183.07" y="75" width="9.97" height="1" fill="#f0e5cd"/>
<rect x="183.07" y="76" width="9.97" height="1" fill="#e5ca9b"/>
<rect x="183.07" y="77" width="9.97" height="1" fill="#e9d1a7"/>
<rect x="183.07" y="78" width="9.97" height="1" fill="#ecdec4"/>
<rect x="183.07" y="79" width="9.97" height="1" fill="#f2e7d2"/>
<rect x="183.07" y="80" width="9.97" height="1" fill="#e7d0a6"/>
<rect x="183.07" y="81" width="9.97" height="1" fill="#e7cc9b"/>
<rect x="183.07" y="82" width="9.97" height="1" fill="#eedec2"/>
<rect x="183.07" y="83" width="9.97" height="1" fill="#eddfc5"/>
<rect x="183.07" y="84" width="9.97" height="1" fill="#efe2ca"/>
<rect x="183.07" y="85" width="9.97" height="1" fill="#f5efe4"/>
<rect x="183.07" y="86" width="9.97" height="1" fill="#debb7c"/>
<rect x="183.07" y="87" width="9.97" height="1" fill="#f2e7d2"/>
<rect x="183.07" y="88" width="9.97" height="1" fill="#f2e8d5"/>
<rect x="183.07" y="89" width="9.97" height="1" fill="#ecd5aa"/>
<rect x="183.07" y="90" width="9.97" height="1" fill="#e3ba71"/>
<rect x="183.07" y="91" width="9.97" height="1" fill="#eee2ca"/>
<rect x="183.07" y="92" width="9.97" height="1" fill="#f1e4cb"/>
<rect x="183.07" y="93" width="9.97" height="1" fill="#ecdfc6"/>
<rect x="183.07" y="94" width="9.97" height="1" fill="#eedebf"/>
<rect x="183.07" y="95" width="9.97" height="1" fill="#f1e7d2"/>
<rect x="183.07" y="96" width="9.97" height="1" fill="#e2b668"/>
<rect x="183.07" y="97" width="9.97" height="1" fill="#e7cc9b"/>
<rect x="183.07" y="98" width="9.97" height="1" fill="#eedcbb"/>
<rect x="183.07" y="99" width="9.97" height="1" fill="#efdfc0"/>
<rect x="183.07" y="100" width="9.97" height="1" fill="#ebddc2"/>
<rect x="183.07" y="101" width="9.97" height="1" fill="#e8cd9b"/>
<rect x="183.07" y="102" width="9.97" height="1" fill="#e7d0a5"/>
<rect x="183.07" y="103" width="9.97" height="1" fill="#e6c892"/>
<rect x="183.07" y="104" width="9.97" height="1" fill="#e5d3af"/>
<rect x="183.07" y="105" width="9.97" height="1" fill="#ebd5ab"/>
<rect x="183.07" y="106" width="9.97" height="1" fill="#ede3ce"/>
<rect x="183.07" y="107" width="9.97" height="1" fill="#ddbe87"/>
<rect x="183.07" y="108" width="9.97" height="1" fill="#f7f3ec"/>
<rect x="183.07" y="109" width="9.97" height="1" fill="#e9d2a7"/>
<rect x="183.07" y="110" width="9.97" height="1" fill="#f1e8d8"/>
<rect x="183.07" y="111" width="9.97" height="1" fill="#ebd6ae"/>
<rect x="183.07" y="112" width="9.97" height="1" fill="#e9ce9d"/>
<rect x="183.07" y="113" width="9.97" height="1" fill="#ddbd83"/>
<rect x="183.07" y="114" width="9.97" height="1" fill="#eee0c4"/>
<rect x="183.07" y="115" width="9.97" height="1" fill="#ead6b2"/>
<rect x="183.07" y="116" width="9.97" height="1" fill="#e8d7b7"/>
<rect x="183.07" y="117" width="9.97" height="1" fill="#efe2c8"/>
<rect x="183.07" y="118" width="9.97" height="1" fill="#ead6b0"/>
<rect x="183.07" y="119" width="9.97" height="1" fill="#e7c891"/>
<rect x="183.07" y="120" width="9.97" height="1" fill="#f2eada"/>
<rect x="183.07" y="121" width="9.97" height="1" fill="#ead9ba"/>
<rect x="183.07" y="122" width="9.97" height="1" fill="#e4c999"/>
<rect x="183.07" y="123" width="9.97" height="1" fill="#eadbc0"/>
<rect x="183.07" y="124" width="9.97" height="1" fill="#e2ca9c"/>
<rect x="183.07" y="125" width="9.97" height="1" fill="#ecdfc7"/>
<rect x="183.07" y="126" width="9.97" height="1" fill="#f0e4cd"/>
<rect x="183.07" y="127" width="9.97" height="1" fill="#ecdbbb"/>
<rect x="183.07" y="128" width="9.97" height="1" fill="#eee0c5"/>
<rect x="183.07" y="129" width="9.97" height="1" fill="#eaddc4"/>
<rect x="183.07" y="130" width="9.97" height="1" fill="#f3ede1"/>
<rect x="183.07" y="131" width="9.97" height="1" fill="#e4cda3"/>
<rect x="183.07" y="132" width="9.97" height="1" fill="#e9d8b9"/>
<rect x="183.07" y="133" width="9.97" height="1" fill="#d9b97e"/>
<rect x="183.07" y="134" width="9.97" height="1" fill="#ece0c8"/>
<rect x="183.07" y="135" width="9.97" height="1" fill="#f5edde"/>
<rect x="183.07" y="136" width="9.97" height="1" fill="#ecdfc7"/>
<rect x="183.07" y="137" width="9.97" height="1" fill="#f1e4cc"/>
<rect x="183.07" y="138" width="9.97" height="1" fill="#f0e5d2"/>
<rect x="183.07" y="139" width="9.97" height="1" fill="#eedfc3"/>
<rect x="183.07" y="140" width="9.97" height="1" fill="#e7d5b4"/>
<rect x="183.07" y="141" width="9.97" height="1" fill="#f4ead9"/>
<rect x="183.07" y="142" width="9.97" height="1" fill="#e0c189"/>
<rect x="183.07" y="143" width="9.97" height="1" fill="#efe3cd"/>
<rect x="183.07" y="144" width="9.97" height="1" fill="#e4c897"/>
<rect x="183.07" y="145" width="9.97" height="1" fill="#ebd9b7"/>
<rect x="183.07" y="146" width="9.97" height="1" fill="#f0e5d2"/>
<rect x="183.07" y="147" width="9.97" height="1" fill="#e5d0a9"/>
<rect x="183.07" y="148" width="9.97" height="1" fill="#edddbe"/>
<rect x="183.07" y="149" width="9.97" height="1" fill="#e8cb96"/>
<rect x="183.07" y="150" width="9.97" height="1" fill="#eee3ce"/>
<rect x="183.07" y="151" width="9.97" height="1" fill="#ead4ac"/>
<rect x="183.07" y="152" width="9.97" height="1" fill="#e8d7b8"/>
<rect x="183.07" y="153" width="9.97" height="1" fill="#eddebf"/>
<rect x="183.07" y="154" width="9.97" height="1" fill="#f0e7d6"/>
<rect x="183.07" y="155" width="9.97" height="1" fill="#e9d9bc"/>
<rect x="183.07" y="156" width="9.97" height="1" fill="#eee3cf"/>
<rect x="183.07" y="157" width="9.97" height="1" fill="#e3c48d"/>
<rect x="183.07" y="158" width="9.97" height="1" fill="#e7cd9d"/>
<rect x="183.07" y="159" width="9.97" height="1" fill="#f1e9da"/>
<rect x="183.07" y="160" width="9.97" height="1" fill="#ede0c7"/>
<rect x="183.07" y="161" width="9.97" height="1" fill="#ede1ca"/>
<rect x="183.07" y="162" width="9.97" height="1" fill="#f4edde"/>
<rect x="183.07" y="163" width="9.97" height="1" fill="#ebdec4"/>
<rect x="183.07" y="164" width="9.97" height="1" fill="#eddec1"/>
<rect x="183.07" y="165" width="9.97" height="1" fill="#f1e6d1"/>
<rect x="183.07" y="166" width="9.97" height="1" fill="#e9ce9d"/>
<rect x="183.07" y="167" width="9.97" height="1" fill="#eee3cf"/>
<rect x="183.07" y="168" width="9.97" height="1" fill="#e6cb9b"/>
<rect x="183.07" y="169" width="9.97" height="1" fill="#ebddc2"/>
<rect x="183.07" y="170" width="9.97" height="1" fill="#eddfc4"/>
<rect x="183.07" y="171" width="9.97" height="1" fill="#ece0c9"/>
<rect x="183.07" y="172" width="9.97" height="1" fill="#ebd7b0"/>
<rect x="183.07" y="173" width="9.97" height="1" fill="#f3ecde"/>
<rect x="183.07" y="174" width="9.97" height="1" fill="#d6ae6d"/>
<rect x="183.07" y="175" width="9.97" height="1" fill="#d5ae6f"/>
<rect x="183.07" y="176" width="9.97" height="1" fill="#d4a660"/>
<rect x="183.07" y="177" width="9.97" height="1" fill="#ba7d3e"/>
<rect x="183.07" y="178" width="9.97" height="1" fill="#c67d30"/>
<rect x="183.07" y="179" width="9.97" height="1" fill="#ad6b33"/>
<rect x="183.07" y="180" width="9.97" height="1" fill="#b97230"/>
<rect x="183.07" y="181" width="9.97" height="1" fill="#a05a2b"/>
<rect x="183.07" y="182" width="9.97" height="1" fill="#995a30"/>
<rect x="183.07" y="183" width="9.97" height="1" fill="#8f4b23"/>
<rect x="183.07" y="184" width="9.97" height="1" fill="#b4763b"/>
<rect x="183.07" y="185" width="9.97" height="1" fill="#ce9246"/>
<rect x="183.07" y="186" width="9.97" height="1" fill="#bc722d"/>
<rect x="183.07" y="187" width="9.97" height="1" fill="#d7b272"/>
<rect x="183.07" y="188" width="9.97" height="1" fill="#ad652c"/>
<rect x="183.07" y="189" width="9.97" height="1" fill="#b4763b"/>
<rect x="183.07" y="190" width="9.97" height="1" fill="#944d24"/>
<rect x="183.07" y="191" width="9.97" height="1" fill="#d4ab6c"/>
<rect x="183.07" y="192" width="9.97" height="1" fill="#ca8c42"/>
<rect x="183.07" y="193" width="9.97" height="1" fill="#b97939"/>
<rect x="183.07" y="194" width="9.97" height="1" fill="#d9a252"/>
<rect x="183.07" y="195" width="9.97" height="1" fill="#b26528"/>
<rect x="183.07" y="196" width="9.97" height="1" fill="#c88436"/>
<rect x="183.07" y="197" width="9.97" height="1" fill="#d28830"/>
<rect x="183.07" y="198" width="9.97" height="1" fill="#b16f34"/>
<rect x="183.07" y="199" width="9.97" height="1" fill="#b97838"/>
<rect x="183.07" y="200" width="9.97" height="1" fill="#ba7431"/>
<rect x="183.07" y="201" width="9.97" height="1" fill="#af6024"/>
<rect x="183.07" y="202" width="9.97" height="1" fill="#deae5f"/>
<rect x="183.07" y="203" width="9.97" height="1" fill="#d0964c"/>
<rect x="183.07" y="204" width="9.97" height="1" fill="#bf7f39"/>
<rect x="183.07" y="205" width="9.97" height="1" fill="#d7ad68"/>
<rect x="183.07" y="206" width="9.97" height="1" fill="#a46434"/>
<rect x="183.07" y="207" width="9.97" height="1" fill="#8f421a"/>
<rect x="183.07" y="208" width="9.97" height="1" fill="#b05e23"/>
<rect x="183.07" y="209" width="9.97" height="1" fill="#ce812b"/>
<rect x="183.07" y="210" width="9.97" height="1" fill="#ba6b27"/>
<rect x="183.07" y="211" width="9.97" height="1" fill="#d59f53"/>
<rect x="183.07" y="212" width="9.97" height="1" fill="#e8d0a3"/>
<rect x="183.07" y="213" width="9.97" height="1" fill="#e0c490"/>
<rect x="183.07" y="214" width="9.97" height="1" fill="#b56725"/>
<rect x="183.07" y="215" width="9.97" height="1" fill="#b76f2d"/>
<rect x="192.43" y="54" width="9.97" height="1" fill="#f2e6d0"/>
<rect x="192.43" y="55" width="9.97" height="1" fill="#f0e3ca"/>
<rect x="192.43" y="56" width="9.97" height="1" fill="#ecd9b5"/>
<rect x="192.43" y="57" width="9.97" height="1" fill="#ecddc0"/>
<rect x="192.43" y="58" width="9.97" height="1" fill="#ecdec1"/>
<rect x="192.43" y="59" width="9.97" height="1" fill="#e4d1ac"/>
<rect x="192.43" y="60" width="9.97" height="1" fill="#f7f3ec"/>
<rect x="192.43" y="61" width="9.97" height="1" fill="#eddcbb"/>
<rect x="192.43" y="62" width="9.97" height="1" fill="#efe1c5"/>
<rect x="192.43" y="63" width="9.97" height="1" fill="#f0e2c7"/>
<rect x="192.43" y="64" width="9.97" height="1" fill="#f1e6d1"/>
<rect x="192.43" y="65" width="9.97" height="1" fill="#f8f4ed"/>
<rect x="192.43" y="66" width="9.97" height="1" fill="#f4ecdf"/>
<rect x="192.43" y="67" width="9.97" height="1" fill="#ead6b0"/>
<rect x="192.43" y="68" width="9.97" height="1" fill="#e5cb9d"/>
<rect x="192.43" y="69" width="9.97" height="1" fill="#e6c383"/>
<rect x="192.43" y="70" width="9.97" height="1" fill="#ebdab9"/>
<rect x="192.43" y="71" width="9.97" height="1" fill="#f6f1e8"/>
<rect x="192.43" y="72" width="9.97" height="1" fill="#ead7b4"/>
<rect x="192.43" y="73" width="9.97" height="1" fill="#f1e6d0"/>
<rect x="192.43" y="74" width="9.97" height="1" fill="#f4ecdf"/>
<rect x="192.43" y="75" width="9.97" height="1" fill="#eee5d2"/>
<rect x="192.43" y="76" width="9.97" height="1" fill="#e8d5b4"/>
<rect x="192.43" y="77" width="9.97" height="1" fill="#e9d8b9"/>
<rect x="192.43" y="78" width="9.97" height="1" fill="#f3ebdc"/>
<rect x="192.43" y="79" width="9.97" height="1" fill="#efe6d5"/>
<rect x="192.43" y="80" width="9.97" height="1" fill="#f4ebda"/>
<rect x="192.43" y="81" width="9.97" height="1" fill="#eedebf"/>
<rect x="192.43" y="82" width="9.97" height="1" fill="#e7c68b"/>
<rect x="192.43" y="83" width="9.97" height="1" fill="#f1e7d3"/>
<rect x="192.43" y="84" width="9.97" height="1" fill="#f4eddf"/>
<rect x="192.43" y="85" width="9.97" height="1" fill="#ede1ca"/>
<rect x="192.43" y="86" width="9.97" height="1" fill="#f1e8d8"/>
<rect x="192.43" y="87" width="9.97" height="1" fill="#e7d2ab"/>
<rect x="192.43" y="88" width="9.97" height="1" fill="#f1e7d2"/>
<rect x="192.43" y="89" width="9.97" height="1" fill="#ecdec3"/>
<rect x="192.43" y="90" width="9.97" height="1" fill="#eee0c4"/>
<rect x="192.43" y="91" width="9.97" height="1" fill="#f3ead9"/>
<rect x="192.43" y="92" width="9.97" height="1" fill="#f5efe4"/>
<rect x="192.43" y="93" width="9.97" height="1" fill="#e3bf80"/>
<rect x="192.43" y="94" width="9.97" height="1" fill="#f4ebdb"/>
<rect x="192.43" y="95" width="9.97" height="1" fill="#e2c693"/>
<rect x="192.43" y="96" width="9.97" height="1" fill="#ecd5ac"/>
<rect x="192.43" y="97" width="9.97" height="1" fill="#efe4cf"/>
<rect x="192.43" y="98" width="9.97" height="1" fill="#eddbb8"/>
<rect x="192.43" y="99" width="9.97" height="1" fill="#e9d2a7"/>
<rect x="192.43" y="100" width="9.97" height="1" fill="#f1e8d7"/>
<rect x="192.43" y="101" width="9.97" height="1" fill="#f5f0e8"/>
<rect x="192.43" y="102" width="9.97" height="1" fill="#f8f4ec"/>
<rect x="192.43" y="103" width="9.97" height="1" fill="#f1e9db"/>
<rect x="192.43" y="104" width="9.97" height="1" fill="#efe5d1"/>
<rect x="192.43" y="105" width="9.97" height="1" fill="#ebdec5"/>
<rect x="192.43" y="106" width="9.97" height="1" fill="#f1e8d7"/>
<rect x="192.43" y="107" width="9.97" height="1" fill="#eadabc"/>
<rect x="192.43" y="108" width="9.97" height="1" fill="#f8f4ec"/>
<rect x="192.43" y="109" width="9.97" height="1" fill="#f5eddd"/>
<rect x="192.43" y="110" width="9.97" height="1" fill="#ead9ba"/>
<rect x="192.43" y="111" width="9.97" height="1" fill="#ecdec3"/>
<rect x="192.43" y="112" width="9.97" height="1" fill="#ecdbb9"/>
<rect x="192.43" y="113" width="9.97" height="1" fill="#ede0c8"/>
<rect x="192.43" y="114" width="9.97" height="1" fill="#f3ebda"/>
<rect x="192.43" y="115" width="9.97" height="1" fill="#f7f4ee"/>
<rect x="192.43" y="116" width="9.97" height="1" fill="#f3ebd9"/>
<rect x="192.43" y="117" width="9.97" height="1" fill="#eee0c5"/>
<rect x="192.43" y="118" width="9.97" height="1" fill="#d9b26e"/>
<rect x="192.43" y="119" width="9.97" height="1" fill="#f2e7d2"/>
<rect x="192.43" y="120" width="9.97" height="1" fill="#ebd9b6"/>
<rect x="192.43" y="121" width="9.97" height="1" fill="#ede1ca"/>
<rect x="192.43" y="122" width="9.97" height="1" fill="#e9d7b6"/>
<rect x="192.43" y="123" width="9.97" height="1" fill="#eddbb7"/>
<rect x="192.43" y="124" width="9.97" height="1" fill="#f4ecde"/>
<rect x="192.43" y="125" width="9.97" height="1" fill="#ead5b0"/>
<rect x="192.43" y="126" width="9.97" height="1" fill="#eddcbd"/>
<rect x="192.43" y="127" width="9.97" height="1" fill="#f6f1e6"/>
<rect x="192.43" y="128" width="9.97" height="1" fill="#dfc390"/>
<rect x="192.43" y="129" width="9.97" height="1" fill="#f2ead9"/>
<rect x="192.43" y="130" width="9.97" height="1" fill="#eee0c6"/>
<rect x="192.43" y="131" width="9.97" height="1" fill="#e9d6b5"/>
<rect x="192.43" y="132" width="9.97" height="1" fill="#dec088"/>
<rect x="192.43" y="133" width="9.97" height="1" fill="#ede0c6"/>
<rect x="192.43" y="134" width="9.97" height="1" fill="#e4c48c"/>
<rect x="192.43" y="135" width="9.97" height="1" fill="#eddfc5"/>
<rect x="192.43" y="136" width="9.97" height="1" fill="#f3eada"/>
<rect x="192.43" y="137" width="9.97" height="1" fill="#efe6d4"/>
<rect x="192.43" y="138" width="9.97" height="1" fill="#debc7e"/>
<rect x="192.43" y="139" width="9.97" height="1" fill="#f1e5d0"/>
<rect x="192.43" y="140" width="9.97" height="1" fill="#f2ebdd"/>
<rect x="192.43" y="141" width="9.97" height="1" fill="#e7d4b1"/>
<rect x="192.43" y="142" width="9.97" height="1" fill="#e7d8ba"/>
<rect x="192.43" y="143" width="9.97" height="1" fill="#f6f1e8"/>
<rect x="192.43" y="144" width="9.97" height="1" fill="#f5eddf"/>
<rect x="192.43" y="145" width="9.97" height="1" fill="#e5cda1"/>
<rect x="192.43" y="146" width="9.97" height="1" fill="#e6cda1"/>
<rect x="192.43" y="147" width="9.97" height="1" fill="#e8d1a5"/>
<rect x="192.43" y="148" width="9.97" height="1" fill="#ebdec6"/>
<rect x="192.43" y="149" width="9.97" height="1" fill="#ece0c8"/>
<rect x="192.43" y="150" width="9.97" height="1" fill="#eadabb"/>
<rect x="192.43" y="151" width="9.97" height="1" fill="#e0c696"/>
<rect x="192.43" y="152" width="9.97" height="1" fill="#f1e8d9"/>
<rect x="192.43" y="153" width="9.97" height="1" fill="#f2e7d1"/>
<rect x="192.43" y="154" width="9.97" height="1" fill="#eee0c3"/>
<rect x="192.43" y="155" width="9.97" height="1" fill="#f1e4cb"/>
<rect x="192.43" y="156" width="9.97" height="1" fill="#e8d7b7"/>
<rect x="192.43" y="157" width="9.97" height="1" fill="#f1e6d0"/>
<rect x="192.43" y="158" width="9.97" height="1" fill="#f1e5ce"/>
<rect x="192.43" y="159" width="9.97" height="1" fill="#f5f0e6"/>
<rect x="192.43" y="160" width="9.97" height="1" fill="#ede0c6"/>
<rect x="192.43" y="161" width="9.97" height="1" fill="#f2e8d5"/>
<rect x="192.43" y="162" width="9.97" height="1" fill="#f6f3ec"/>
<rect x="192.43" y="163" width="9.97" height="1" fill="#dfc596"/>
<rect x="192.43" y="164" width="9.97" height="1" fill="#f1e8d8"/>
<rect x="192.43" y="165" width="9.97" height="1" fill="#ebddc3"/>
<rect x="192.43" y="166" width="9.97" height="1" fill="#f8f4ed"/>
<rect x="192.43" y="167" width="9.97" height="1" fill="#eadcc3"/>
<rect x="192.43" y="168" width="9.97" height="1" fill="#f0e7d4"/>
<rect x="192.43" y="169" width="9.97" height="1" fill="#f0e2c6"/>
<rect x="192.43" y="170" width="9.97" height="1" fill="#ebdfc8"/>
<rect x="192.43" y="171" width="9.97" height="1" fill="#f2e7d5"/>
<rect x="192.43" y="172" width="9.97" height="1" fill="#eddec4"/>
<rect x="192.43" y="173" width="9.97" height="1" fill="#f3eada"/>
<rect x="192.43" y="174" width="9.97" height="1" fill="#d89640"/>
<rect x="192.43" y="175" width="9.97" height="1" fill="#954d23"/>
<rect x="192.43" y="176" width="9.97" height="1" fill="#864827"/>
<rect x="192.43" y="177" width="9.97" height="1" fill="#9f4e1d"/>
<rect x="192.43" y="178" width="9.97" height="1" fill="#c7883e"/>
<rect x="192.43" y="179" width="9.97" height="1" fill="#a25e2e"/>
<rect x="192.43" y="180" width="9.97" height="1" fill="#d08832"/>
<rect x="192.43" y="181" width="9.97" height="1" fill="#783316"/>
<rect x="192.43" y="182" width="9.97" height="1" fill="#af6025"/>
<rect x="192.43" y="183" width="9.97" height="1" fill="#b56e2f"/>
<rect x="192.43" y="184" width="9.97" height="1" fill="#a76835"/>
<rect x="192.43" y="185" width="9.97" height="1" fill="#9f5527"/>
<rect x="192.43" y="186" width="9.97" height="1" fill="#98572e"/>
<rect x="192.43" y="187" width="9.97" height="1" fill="#bc702a"/>
<rect x="192.43" y="188" width="9.97" height="1" fill="#703821"/>
<rect x="192.43" y="189" width="9.97" height="1" fill="#b57537"/>
<rect x="192.43" y="190" width="9.97" height="1" fill="#be803d"/>
<rect x="192.43" y="191" width="9.97" height="1" fill="#c57f33"/>
<rect x="192.43" y="192" width="9.97" height="1" fill="#763b20"/>
<rect x="192.43" y="193" width="9.97" height="1" fill="#7a3c1f"/>
<rect x="192.43" y="194" width="9.97" height="1" fill="#ad652c"/>
<rect x="192.43" y="195" width="9.97" height="1" fill="#b17136"/>
<rect x="192.43" y="196" width="9.97" height="1" fill="#5f2410"/>
<rect x="192.43" y="197" width="9.97" height="1" fill="#ca8d43"/>
<rect x="192.43" y="198" width="9.97" height="1" fill="#cf8630"/>
<rect x="192.43" y="199" width="9.97" height="1" fill="#b36425"/>
<rect x="192.43" y="200" width="9.97" height="1" fill="#c3792d"/>
<rect x="192.43" y="201" width="9.97" height="1" fill="#a05525"/>
<rect x="192.43" y="202" width="9.97" height="1" fill="#cc9044"/>
<rect x="192.43" y="203" width="9.97" height="1" fill="#b26425"/>
<rect x="192.43" y="204" width="9.97" height="1" fill="#874b29"/>
<rect x="192.43" y="205" width="9.97" height="1" fill="#b2763c"/>
<rect x="192.43" y="206" width="9.97" height="1" fill="#6d3620"/>
<rect x="192.43" y="207" width="9.97" height="1" fill="#86411e"/>
<rect x="192.43" y="208" width="9.97" height="1" fill="#c67728"/>
<rect x="192.43" y="209" width="9.97" height="1" fill="#b06125"/>
<rect x="192.43" y="210" width="9.97" height="1" fill="#944f27"/>
<rect x="192.43" y="211" width="9.97" height="1" fill="#934e24"/>
<rect x="192.43" y="212" width="9.97" height="1" fill="#9c5223"/>
<rect x="192.43" y="213" width="9.97" height="1" fill="#ac6e38"/>
<rect x="192.43" y="214" width="9.97" height="1" fill="#a66633"/>
<rect x="192.43" y="215" width="9.97" height="1" fill="#c2803a"/>
<rect x="201.80" y="54" width="9.97" height="1" fill="#f2ead8"/>
<rect x="201.80" y="55" width="9.97" height="1" fill="#e4d0a9"/>
<rect x="201.80" y="56" width="9.97" height="1" fill="#efe0c3"/>
<rect x="201.80" y="57" width="9.97" height="1" fill="#e3b768"/>
<rect x="201.80" y="58" width="9.97" height="1" fill="#f2e9d9"/>
<rect x="201.80" y="59" width="9.97" height="1" fill="#f1e3ca"/>
<rect x="201.80" y="60" width="9.97" height="1" fill="#e6d0a9"/>
<rect x="201.80" y="61" width="9.97" height="1" fill="#f2ecdf"/>
<rect x="201.80" y="62" width="9.97" height="1" fill="#e1c592"/>
<rect x="201.80" y="63" width="9.97" height="1" fill="#f0e1c4"/>
<rect x="201.80" y="64" width="9.97" height="1" fill="#e4d1ac"/>
<rect x="201.80" y="65" width="9.97" height="1" fill="#edddbf"/>
<rect x="201.80" y="66" width="9.97" height="1" fill="#f1e7d2"/>
<rect x="201.80" y="67" width="9.97" height="1" fill="#ecdfc7"/>
<rect x="201.80" y="68" width="9.97" height="1" fill="#f6efe1"/>
<rect x="201.80" y="69" width="9.97" height="1" fill="#f3e9d6"/>
<rect x="201.80" y="70" width="9.97" height="1" fill="#eedebf"/>
<rect x="201.80" y="71" width="9.97" height="1" fill="#e4d0aa"/>
<rect x="201.80" y="72" width="9.97" height="1" fill="#f1e6d1"/>
<rect x="201.80" y="73" width="9.97" height="1" fill="#e3c388"/>
<rect x="201.80" y="74" width="9.97" height="1" fill="#e7d1ab"/>
<rect x="201.80" y="75" width="9.97" height="1" fill="#f1e3c9"/>
<rect x="201.80" y="76" width="9.97" height="1" fill="#e7ca94"/>
<rect x="201.80" y="77" width="9.97" height="1" fill="#f7f4ee"/>
<rect x="201.80" y="78" width="9.97" height="1" fill="#efe1c7"/>
<rect x="201.80" y="79" width="9.97" height="1" fill="#ead8b9"/>
<rect x="201.80" y="80" width="9.97" height="1" fill="#d7b476"/>
<rect x="201.80" y="81" width="9.97" height="1" fill="#efe5d1"/>
<rect x="201.80" y="82" width="9.97" height="1" fill="#eee3cd"/>
<rect x="201.80" y="83" width="9.97" height="1" fill="#eee2cb"/>
<rect x="201.80" y="84" width="9.97" height="1" fill="#f6f0e5"/>
<rect x="201.80" y="85" width="9.97" height="1" fill="#e8cb97"/>
<rect x="201.80" y="86" width="9.97" height="1" fill="#eddfc5"/>
<rect x="201.80" y="87" width="9.97" height="1" fill="#ebddc2"/>
<rect x="201.80" y="88" width="9.97" height="1" fill="#e9d6b3"/>
<rect x="201.80" y="89" width="9.97" height="1" fill="#e8d2ab"/>
<rect x="201.80" y="90" width="9.97" height="1" fill="#f5eddd"/>
<rect x="201.80" y="91" width="9.97" height="1" fill="#eedebd"/>
<rect x="201.80" y="92" width="9.97" height="1" fill="#f1e9d9"/>
<rect x="201.80" y="93" width="9.97" height="1" fill="#ecd8b4"/>
<rect x="201.80" y="94" width="9.97" height="1" fill="#efe0c4"/>
<rect x="201.80" y="95" width="9.97" height="1" fill="#f1e7d4"/>
<rect x="201.80" y="96" width="9.97" height="1" fill="#f0e7d5"/>
<rect x="201.80" y="97" width="9.97" height="1" fill="#eee0c4"/>
<rect x="201.80" y="98" width="9.97" height="1" fill="#f3ead9"/>
<rect x="201.80" y="99" width="9.97" height="1" fill="#f4eee1"/>
<rect x="201.80" y="100" width="9.97" height="1" fill="#ecdab8"/>
<rect x="201.80" y="101" width="9.97" height="1" fill="#f3e8d4"/>
<rect x="201.80" y="102" width="9.97" height="1" fill="#edd8b2"/>
<rect x="201.80" y="103" width="9.97" height="1" fill="#eddfc6"/>
<rect x="201.80" y="104" width="9.97" height="1" fill="#f1e7d5"/>
<rect x="201.80" y="105" width="9.97" height="1" fill="#ebdec6"/>
<rect x="201.80" y="106" width="9.97" height="1" fill="#f1e5d0"/>
<rect x="201.80" y="107" width="9.97" height="1" fill="#ead7b1"/>
<rect x="201.80" y="108" width="9.97" height="1" fill="#e6cb9a"/>
<rect x="201.80" y="109" width="9.97" height="1" fill="#f2e7d2"/>
<rect x="201.80" y="110" width="9.97" height="1" fill="#e8d5b4"/>
<rect x="201.80" y="111" width="9.97" height="1" fill="#eddfc5"/>
<rect x="201.80" y="112" width="9.97" height="1" fill="#ecd7b0"/>
<rect x="201.80" y="113" width="9.97" height="1" fill="#ead8b5"/>
<rect x="201.80" y="114" width="9.97" height="1" fill="#eee2cc"/>
<rect x="201.80" y="115" width="9.97" height="1" fill="#ece0c7"/>
<rect x="201.80" y="116" width="9.97" height="1" fill="#f1e9d8"/>
<rect x="201.80" y="117" width="9.97" height="1" fill="#f1e6d1"/>
<rect x="201.80" y="118" width="9.97" height="1" fill="#f0e7d5"/>
<rect x="201.80" y="119" width="9.97" height="1" fill="#f2e7d0"/>
<rect x="201.80" y="120" width="9.97" height="1" fill="#eddcbb"/>
<rect x="201.80" y="121" width="9.97" height="1" fill="#eedebf"/>
<rect x="201.80" y="122" width="9.97" height="1" fill="#f7f2e8"/>
<rect x="201.80" y="123" width="9.97" height="1" fill="#f8f4ed"/>
<rect x="201.80" y="124" width="9.97" height="1" fill="#efe1c7"/>
<rect x="201.80" y="125" width="9.97" height="1" fill="#f0e6d3"/>
<rect x="201.80" y="126" width="9.97" height="1" fill="#f5ecdc"/>
<rect x="201.80" y="127" width="9.97" height="1" fill="#f1e7d3"/>
<rect x="201.80" y="128" width="9.97" height="1" fill="#e4bd78"/>
<rect x="201.80" y="129" width="9.97" height="1" fill="#f1e5d0"/>
<rect x="201.80" y="130" width="9.97" height="1" fill="#f3ebdd"/>
<rect x="201.80" y="131" width="9.97" height="1" fill="#eddfc3"/>
<rect x="201.80" y="132" width="9.97" height="1" fill="#e9dbc0"/>
<rect x="201.80" y="133" width="9.97" height="1" fill="#f1e9d9"/>
<rect x="201.80" y="134" width="9.97" height="1" fill="#f1e7d3"/>
<rect x="201.80" y="135" width="9.97" height="1" fill="#efe0c3"/>
<rect x="201.80" y="136" width="9.97" height="1" fill="#efe3cd"/>
<rect x="201.80" y="137" width="9.97" height="1" fill="#f3eee3"/>
<rect x="201.80" y="138" width="9.97" height="1" fill="#e2ca9c"/>
<rect x="201.80" y="139" width="9.97" height="1" fill="#eedcba"/>
<rect x="201.80" y="140" width="9.97" height="1" fill="#f2e8d6"/>
<rect x="201.80" y="141" width="9.97" height="1" fill="#eadabd"/>
<rect x="201.80" y="142" width="9.97" height="1" fill="#f2e8d5"/>
<rect x="201.80" y="143" width="9.97" height="1" fill="#e5cea5"/>
<rect x="201.80" y="144" width="9.97" height="1" fill="#f4ecde"/>
<rect x="201.80" y="145" width="9.97" height="1" fill="#e4bb70"/>
<rect x="201.80" y="146" width="9.97" height="1" fill="#e3cca0"/>
<rect x="201.80" y="147" width="9.97" height="1" fill="#eddfc5"/>
<rect x="201.80" y="148" width="9.97" height="1" fill="#e7d4b0"/>
<rect x="201.80" y="149" width="9.97" height="1" fill="#e6c488"/>
<rect x="201.80" y="150" width="9.97" height="1" fill="#f7f1e5"/>
<rect x="201.80" y="151" width="9.97" height="1" fill="#e9cd99"/>
<rect x="201.80" y="152" width="9.97" height="1" fill="#f3ede1"/>
<rect x="201.80" y="153" width="9.97" height="1" fill="#e7cb9a"/>
<rect x="201.80" y="154" width="9.97" height="1" fill="#e3cca2"/>
<rect x="201.80" y="155" width="9.97" height="1" fill="#f3eada"/>
<rect x="201.80" y="156" width="9.97" height="1" fill="#e4cfa7"/>
<rect x="201.80" y="157" width="9.97" height="1" fill="#eee2ca"/>
<rect x="201.80" y="158" width="9.97" height="1" fill="#eee0c7"/>
<rect x="201.80" y="159" width="9.97" height="1" fill="#ead5af"/>
<rect x="201.80" y="160" width="9.97" height="1" fill="#f1e8d5"/>
<rect x="201.80" y="161" width="9.97" height="1" fill="#ecd8b3"/>
<rect x="201.80" y="162" width="9.97" height="1" fill="#f1e7d4"/>
<rect x="201.80" y="163" width="9.97" height="1" fill="#e7cea1"/>
<rect x="201.80" y="164" width="9.97" height="1" fill="#eee2c9"/>
<rect x="201.80" y="165" width="9.97" height="1" fill="#f2e9d6"/>
<rect x="201.80" y="166" width="9.97" height="1" fill="#efe5d1"/>
<rect x="201.80" y="167" width="9.97" height="1" fill="#f6f2e9"/>
<rect x="201.80" y="168" width="9.97" height="1" fill="#efe3cc"/>
<rect x="201.80" y="169" width="9.97" height="1" fill="#e3c186"/>
<rect x="201.80" y="170" width="9.97" height="1" fill="#eee1ca"/>
<rect x="201.80" y="171" width="9.97" height="1" fill="#ebdcc0"/>
<rect x="201.80" y="172" width="9.97" height="1" fill="#f6efe2"/>
<rect x="201.80" y="173" width="9.97" height="1" fill="#f0e5cf"/>
<rect x="201.80" y="174" width="9.97" height="1" fill="#dbac5f"/>
<rect x="201.80" y="175" width="9.97" height="1" fill="#b37136"/>
<rect x="201.80" y="176" width="9.97" height="1" fill="#c1762b"/>
<rect x="201.80" y="177" width="9.97" height="1" fill="#c2843d"/>
<rect x="201.80" y="178" width="9.97" height="1" fill="#c8853a"/>
<rect x="201.80" y="179" width="9.97" height="1" fill="#c98d43"/>
<rect x="201.80" y="180" width="9.97" height="1" fill="#b3692b"/>
<rect x="201.80" y="181" width="9.97" height="1" fill="#a95720"/>
<rect x="201.80" y="182" width="9.97" height="1" fill="#924e26"/>
<rect x="201.80" y="183" width="9.97" height="1" fill="#ad7039"/>
<rect x="201.80" y="184" width="9.97" height="1" fill="#a75b25"/>
<rect x="201.80" y="185" width="9.97" height="1" fill="#c77a2a"/>
<rect x="201.80" y="186" width="9.97" height="1" fill="#9c5326"/>
<rect x="201.80" y="187" width="9.97" height="1" fill="#cf8d3c"/>
<rect x="201.80" y="188" width="9.97" height="1" fill="#9a552a"/>
<rect x="201.80" y="189" width="9.97" height="1" fill="#874a28"/>
<rect x="201.80" y="190" width="9.97" height="1" fill="#954d22"/>
<rect x="201.80" y="191" width="9.97" height="1" fill="#d2984b"/>
<rect x="201.80" y="192" width="9.97" height="1" fill="#cd832f"/>
<rect x="201.80" y="193" width="9.97" height="1" fill="#672813"/>
<rect x="201.80" y="194" width="9.97" height="1" fill="#b5763a"/>
<rect x="201.80" y="195" width="9.97" height="1" fill="#713017"/>
<rect x="201.80" y="196" width="9.97" height="1" fill="#77371a"/>
<rect x="201.80" y="197" width="9.97" height="1" fill="#dfb162"/>
<rect x="201.80" y="198" width="9.97" height="1" fill="#ba6b27"/>
<rect x="201.80" y="199" width="9.97" height="1" fill="#ba7c3d"/>
<rect x="201.80" y="200" width="9.97" height="1" fill="#bc7835"/>
<rect x="201.80" y="201" width="9.97" height="1" fill="#a25423"/>
<rect x="201.80" y="202" width="9.97" height="1" fill="#974e22"/>
<rect x="201.80" y="203" width="9.97" height="1" fill="#a8541e"/>
<rect x="201.80" y="204" width="9.97" height="1" fill="#c77e30"/>
<rect x="201.80" y="205" width="9.97" height="1" fill="#8c4a25"/>
<rect x="201.80" y="206" width="9.97" height="1" fill="#a2501d"/>
<rect x="201.80" y="207" width="9.97" height="1" fill="#ad6931"/>
<rect x="201.80" y="208" width="9.97" height="1" fill="#c3772c"/>
<rect x="201.80" y="209" width="9.97" height="1" fill="#b07037"/>
<rect x="201.80" y="210" width="9.97" height="1" fill="#995227"/>
<rect x="201.80" y="211" width="9.97" height="1" fill="#b06a2f"/>
<rect x="201.80" y="212" width="9.97" height="1" fill="#c98131"/>
<rect x="201.80" y="213" width="9.97" height="1" fill="#a35d2b"/>
<rect x="201.80" y="214" width="9.97" height="1" fill="#b96a27"/>
<rect x="201.80" y="215" width="9.97" height="1" fill="#c97e2d"/>
<rect x="211.17" y="54" width="9.97" height="1" fill="#f0e4cc"/>
<rect x="211.17" y="55" width="9.97" height="1" fill="#e4cfa7"/>
<rect x="211.17" y="56" width="9.97" height="1" fill="#e3bd7a"/>
<rect x="211.17" y="57" width="9.97" height="1" fill="#dfc28e"/>
<rect x="211.17" y="58" width="9.97" height="1" fill="#efe2c9"/>
<rect x="211.17" y="59" width="9.97" height="1" fill="#e9cc97"/>
<rect x="211.17" y="60" width="9.97" height="1" fill="#ead3a8"/>
<rect x="211.17" y="61" width="9.97" height="1" fill="#f5efe5"/>
<rect x="211.17" y="62" width="9.97" height="1" fill="#f8f4ec"/>
<rect x="211.17" y="63" width="9.97" height="1" fill="#ebdab9"/>
<rect x="211.17" y="64" width="9.97" height="1" fill="#ebdcc1"/>
<rect x="211.17" y="65" width="9.97" height="1" fill="#e2ca9d"/>
<rect x="211.17" y="66" width="9.97" height="1" fill="#f4eee2"/>
<rect x="211.17" y="67" width="9.97" height="1" fill="#efe0c3"/>
<rect x="211.17" y="68" width="9.97" height="1" fill="#eddfc4"/>
<rect x="211.17" y="69" width="9.97" height="1" fill="#dec493"/>
<rect x="211.17" y="70" width="9.97" height="1" fill="#ecdab8"/>
<rect x="211.17" y="71" width="9.97" height="1" fill="#efdfc0"/>
<rect x="211.17" y="72" width="9.97" height="1" fill="#eedfc3"/>
<rect x="211.17" y="73" width="9.97" height="1" fill="#eddfc3"/>
<rect x="211.17" y="74" width="9.97" height="1" fill="#f0e7d5"/>
<rect x="211.17" y="75" width="9.97" height="1" fill="#ede0c7"/>
<rect x="211.17" y="76" width="9.97" height="1" fill="#e9d5b1"/>
<rect x="211.17" y="77" width="9.97" height="1" fill="#eee2ca"/>
<rect x="211.17" y="78" width="9.97" height="1" fill="#f5ecdd"/>
<rect x="211.17" y="79" width="9.97" height="1" fill="#e2c99b"/>
<rect x="211.17" y="80" width="9.97" height="1" fill="#f1e7d5"/>
<rect x="211.17" y="81" width="9.97" height="1" fill="#e5cea2"/>
<rect x="211.17" y="82" width="9.97" height="1" fill="#ecdfc8"/>
<rect x="211.17" y="83" width="9.97" height="1" fill="#ead5af"/>
<rect x="211.17" y="84" width="9.97" height="1" fill="#e8d3ac"/>
<rect x="211.17" y="85" width="9.97" height="1" fill="#ead6b0"/>
<rect x="211.17" y="86" width="9.97" height="1" fill="#f3ead9"/>
<rect x="211.17" y="87" width="9.97" height="1" fill="#e4c691"/>
<rect x="211.17" y="88" width="9.97" height="1" fill="#e8d0a4"/>
<rect x="211.17" y="89" width="9.97" height="1" fill="#efe2c8"/>
<rect x="211.17" y="90" width="9.97" height="1" fill="#f2e9d7"/>
<rect x="211.17" y="91" width="9.97" height="1" fill="#f5efe3"/>
<rect x="211.17" y="92" width="9.97" height="1" fill="#ede0c6"/>
<rect x="211.17" y="93" width="9.97" height="1" fill="#dec088"/>
<rect x="211.17" y="94" width="9.97" height="1" fill="#f5eedf"/>
<rect x="211.17" y="95" width="9.97" height="1" fill="#e9ce9e"/>
<rect x="211.17" y="96" width="9.97" height="1" fill="#e3c897"/>
<rect x="211.17" y="97" width="9.97" height="1" fill="#f2e8d7"/>
<rect x="211.17" y="98" width="9.97" height="1" fill="#f2e7d1"/>
<rect x="211.17" y="99" width="9.97" height="1" fill="#eadbbd"/>
<rect x="211.17" y="100" width="9.97" height="1" fill="#f2e9d8"/>
<rect x="211.17" y="101" width="9.97" height="1" fill="#f3e9d5"/>
<rect x="211.17" y="102" width="9.97" height="1" fill="#f1e5d1"/>
<rect x="211.17" y="103" width="9.97" height="1" fill="#f1e7d3"/>
<rect x="211.17" y="104" width="9.97" height="1" fill="#f0e4ce"/>
<rect x="211.17" y="105" width="9.97" height="1" fill="#eee3cc"/>
<rect x="211.17" y="106" width="9.97" height="1" fill="#ede0c6"/>
<rect x="211.17" y="107" width="9.97" height="1" fill="#e9d5af"/>
<rect x="211.17" y="108" width="9.97" height="1" fill="#f3ebdd"/>
<rect x="211.17" y="109" width="9.97" height="1" fill="#f2e9d7"/>
<rect x="211.17" y="110" width="9.97" height="1" fill="#f4eee1"/>
<rect x="211.17" y="111" width="9.97" height="1" fill="#e8d7b6"/>
<rect x="211.17" y="112" width="9.97" height="1" fill="#f1e8d8"/>
<rect x="211.17" y="113" width="9.97" height="1" fill="#ebddc2"/>
<rect x="211.17" y="114" width="9.97" height="1" fill="#eee2ca"/>
<rect x="211.17" y="115" width="9.97" height="1" fill="#f2e7d0"/>
<rect x="211.17" y="116" width="9.97" height="1" fill="#ddbd83"/>
<rect x="211.17" y="117" width="9.97" height="1" fill="#f6efe3"/>
<rect x="211.17" y="118" width="9.97" height="1" fill="#ede1c9"/>
<rect x="211.17" y="119" width="9.97" height="1" fill="#f2e8d5"/>
<rect x="211.17" y="120" width="9.97" height="1" fill="#e0ba78"/>
<rect x="211.17" y="121" width="9.97" height="1" fill="#f0e5d2"/>
<rect x="211.17" y="122" width="9.97" height="1" fill="#f2eadb"/>
<rect x="211.17" y="123" width="9.97" height="1" fill="#f4ecdc"/>
<rect x="211.17" y="124" width="9.97" height="1" fill="#ead1a1"/>
<rect x="211.17" y="125" width="9.97" height="1" fill="#f0e5cf"/>
<rect x="211.17" y="126" width="9.97" height="1" fill="#efe3cd"/>
<rect x="211.17" y="127" width="9.97" height="1" fill="#f2e7d2"/>
<rect x="211.17" y="128" width="9.97" height="1" fill="#eddbbb"/>
<rect x="211.17" y="129" width="9.97" height="1" fill="#eaddc3"/>
<rect x="211.17" y="130" width="9.97" height="1" fill="#e4cfa8"/>
<rect x="211.17" y="131" width="9.97" height="1" fill="#f2ead8"/>
<rect x="211.17" y="132" width="9.97" height="1" fill="#eadbc1"/>
<rect x="211.17" y="133" width="9.97" height="1" fill="#f1e9d8"/>
<rect x="211.17" y="134" width="9.97" height="1" fill="#f0e2c7"/>
<rect x="211.17" y="135" width="9.97" height="1" fill="#f0e7d6"/>
<rect x="211.17" y="136" width="9.97" height="1" fill="#f2eada"/>
<rect x="211.17" y="137" width="9.97" height="1" fill="#f1e4cc"/>
<rect x="211.17" y="138" width="9.97" height="1" fill="#efe4cf"/>
<rect x="211.17" y="139" width="9.97" height="1" fill="#f3eada"/>
<rect x="211.17" y="140" width="9.97" height="1" fill="#eedec1"/>
<rect x="211.17" y="141" width="9.97" height="1" fill="#dbb777"/>
<rect x="211.17" y="142" width="9.97" height="1" fill="#eadabd"/>
<rect x="211.17" y="143" width="9.97" height="1" fill="#f1e7d2"/>
<rect x="211.17" y="144" width="9.97" height="1" fill="#efe6d6"/>
<rect x="211.17" y="145" width="9.97" height="1" fill="#edddbf"/>
<rect x="211.17" y="146" width="9.97" height="1" fill="#f4ebd9"/>
<rect x="211.17" y="147" width="9.97" height="1" fill="#f1e8d7"/>
<rect x="211.17" y="148" width="9.97" height="1" fill="#f0e3cb"/>
<rect x="211.17" y="149" width="9.97" height="1" fill="#f7f3ea"/>
<rect x="211.17" y="150" width="9.97" height="1" fill="#f5efe3"/>
<rect x="211.17" y="151" width="9.97" height="1" fill="#e5c792"/>
<rect x="211.17" y="152" width="9.97" height="1" fill="#efe6d5"/>
<rect x="211.17" y="153" width="9.97" height="1" fill="#efe3cc"/>
<rect x="211.17" y="154" width="9.97" height="1" fill="#f7f2e9"/>
<rect x="211.17" y="155" width="9.97" height="1" fill="#eee1c9"/>
<rect x="211.17" y="156" width="9.97" height="1" fill="#f5eddd"/>
<rect x="211.17" y="157" width="9.97" height="1" fill="#e6c791"/>
<rect x="211.17" y="158" width="9.97" height="1" fill="#f3ecdc"/>
<rect x="211.17" y="159" width="9.97" height="1" fill="#f3ecde"/>
<rect x="211.17" y="160" width="9.97" height="1" fill="#eeddbd"/>
<rect x="211.17" y="161" width="9.97" height="1" fill="#e7d4b2"/>
<rect x="211.17" y="162" width="9.97" height="1" fill="#f0e5d1"/>
<rect x="211.17" y="163" width="9.97" height="1" fill="#e1c289"/>
<rect x="211.17" y="164" width="9.97" height="1" fill="#ede2cc"/>
<rect x="211.17" y="165" width="9.97" height="1" fill="#f1e7d4"/>
<rect x="211.17" y="166" width="9.97" height="1" fill="#eadabc"/>
<rect x="211.17" y="167" width="9.97" height="1" fill="#f5f0e6"/>
<rect x="211.17" y="168" width="9.97" height="1" fill="#f5f0e7"/>
<rect x="211.17" y="169" width="9.97" height="1" fill="#eddec0"/>
<rect x="211.17" y="170" width="9.97" height="1" fill="#e8d2a9"/>
<rect x="211.17" y="171" width="9.97" height="1" fill="#eee0c3"/>
<rect x="211.17" y="172" width="9.97" height="1" fill="#ebdaba"/>
<rect x="211.17" y="173" width="9.97" height="1" fill="#e8cc98"/>
<rect x="211.17" y="174" width="9.97" height="1" fill="#d28d38"/>
<rect x="211.17" y="175" width="9.97" height="1" fill="#aa612a"/>
<rect x="211.17" y="176" width="9.97" height="1" fill="#cf9245"/>
<rect x="211.17" y="177" width="9.97" height="1" fill="#b7783a"/>
<rect x="211.17" y="178" width="9.97" height="1" fill="#7c3718"/>
<rect x="211.17" y="179" width="9.97" height="1" fill="#b16022"/>
<rect x="211.17" y="180" width="9.97" height="1" fill="#ab642d"/>
<rect x="211.17" y="181" width="9.97" height="1" fill="#d08732"/>
<rect x="211.17" y="182" width="9.97" height="1" fill="#ab6831"/>
<rect x="211.17" y="183" width="9.97" height="1" fill="#c77d2e"/>
<rect x="211.17" y="184" width="9.97" height="1" fill="#cc8635"/>
<rect x="211.17" y="185" width="9.97" height="1" fill="#c07b33"/>
<rect x="211.17" y="186" width="9.97" height="1" fill="#824222"/>
<rect x="211.17" y="187" width="9.97" height="1" fill="#a05120"/>
<rect x="211.17" y="188" width="9.97" height="1" fill="#c77929"/>
<rect x="211.17" y="189" width="9.97" height="1" fill="#b27238"/>
<rect x="211.17" y="190" width="9.97" height="1" fill="#b16427"/>
<rect x="211.17" y="191" width="9.97" height="1" fill="#bf6f27"/>
<rect x="211.17" y="192" width="9.97" height="1" fill="#ae662c"/>
<rect x="211.17" y="193" width="9.97" height="1" fill="#9c4f20"/>
<rect x="211.17" y="194" width="9.97" height="1" fill="#bb722d"/>
<rect x="211.17" y="195" width="9.97" height="1" fill="#884926"/>
<rect x="211.17" y="196" width="9.97" height="1" fill="#9e5121"/>
<rect x="211.17" y="197" width="9.97" height="1" fill="#d58e36"/>
<rect x="211.17" y="198" width="9.97" height="1" fill="#ba7836"/>
<rect x="211.17" y="199" width="9.97" height="1" fill="#99562b"/>
<rect x="211.17" y="200" width="9.97" height="1" fill="#9b4b1c"/>
<rect x="211.17" y="201" width="9.97" height="1" fill="#a4602f"/>
<rect x="211.17" y="202" width="9.97" height="1" fill="#d59e50"/>
<rect x="211.17" y="203" width="9.97" height="1" fill="#843e1b"/>
<rect x="211.17" y="204" width="9.97" height="1" fill="#6c3019"/>
<rect x="211.17" y="205" width="9.97" height="1" fill="#934c22"/>
<rect x="211.17" y="206" width="9.97" height="1" fill="#b17137"/>
<rect x="211.17" y="207" width="9.97" height="1" fill="#944c23"/>
<rect x="211.17" y="208" width="9.97" height="1" fill="#9c5b30"/>
<rect x="211.17" y="209" width="9.97" height="1" fill="#924a22"/>
<rect x="211.17" y="210" width="9.97" height="1" fill="#bb7431"/>
<rect x="211.17" y="211" width="9.97" height="1" fill="#c27e36"/>
<rect x="211.17" y="212" width="9.97" height="1" fill="#bc7e3d"/>
<rect x="211.17" y="213" width="9.97" height="1" fill="#90431a"/>
<rect x="211.17" y="214" width="9.97" height="1" fill="#b77b3e"/>
<rect x="211.17" y="215" width="9.97" height="1" fill="#924319"/>
<rect x="220.53" y="54" width="9.97" height="1" fill="#f1eada"/>
<rect x="220.53" y="55" width="9.97" height="1" fill="#f2e8d5"/>
<rect x="220.53" y="56" width="9.97" height="1" fill="#ead8b9"/>
<rect x="220.53" y="57" width="9.97" height="1" fill="#ead8b8"/>
<rect x="220.53" y="58" width="9.97" height="1" fill="#ecdec3"/>
<rect x="220.53" y="59" width="9.97" height="1" fill="#e5cb9d"/>
<rect x="220.53" y="60" width="9.97" height="1" fill="#e6c996"/>
<rect x="220.53" y="61" width="9.97" height="1" fill="#ecddc0"/>
<rect x="220.53" y="62" width="9.97" height="1" fill="#eddfc6"/>
<rect x="220.53" y="63" width="9.97" height="1" fill="#ecd9b5"/>
<rect x="220.53" y="64" width="9.97" height="1" fill="#ecdcbf"/>
<rect x="220.53" y="65" width="9.97" height="1" fill="#f0e7d6"/>
<rect x="220.53" y="66" width="9.97" height="1" fill="#ecd5ac"/>
<rect x="220.53" y="67" width="9.97" height="1" fill="#e3cca2"/>
<rect x="220.53" y="68" width="9.97" height="1" fill="#e4c48b"/>
<rect x="220.53" y="69" width="9.97" height="1" fill="#ecdbba"/>
<rect x="220.53" y="70" width="9.97" height="1" fill="#f4eee1"/>
<rect x="220.53" y="71" width="9.97" height="1" fill="#eedebf"/>
<rect x="220.53" y="72" width="9.97" height="1" fill="#f2eadd"/>
<rect x="220.53" y="73" width="9.97" height="1" fill="#efe2ca"/>
<rect x="220.53" y="74" width="9.97" height="1" fill="#efe5d4"/>
<rect x="220.53" y="75" width="9.97" height="1" fill="#edddc0"/>
<rect x="220.53" y="76" width="9.97" height="1" fill="#f2ead8"/>
<rect x="220.53" y="77" width="9.97" height="1" fill="#f5f0e6"/>
<rect x="220.53" y="78" width="9.97" height="1" fill="#efe0c2"/>
<rect x="220.53" y="79" width="9.97" height="1" fill="#ebd8b6"/>
<rect x="220.53" y="80" width="9.97" height="1" fill="#ecddc1"/>
<rect x="220.53" y="81" width="9.97" height="1" fill="#ece0c8"/>
<rect x="220.53" y="82" width="9.97" height="1" fill="#eddfc5"/>
<rect x="220.53" y="83" width="9.97" height="1" fill="#e9d3aa"/>
<rect x="220.53" y="84" width="9.97" height="1" fill="#e5c489"/>
<rect x="220.53" y="85" width="9.97" height="1" fill="#f3eada"/>
<rect x="220.53" y="86" width="9.97" height="1" fill="#f0e3cc"/>
<rect x="220.53" y="87" width="9.97" height="1" fill="#ecdfc8"/>
<rect x="220.53" y="88" width="9.97" height="1" fill="#eee3cd"/>
<rect x="220.53" y="89" width="9.97" height="1" fill="#e9cc98"/>
<rect x="220.53" y="90" width="9.97" height="1" fill="#eddec0"/>
<rect x="220.53" y="91" width="9.97" height="1" fill="#f0e5d2"/>
<rect x="220.53" y="92" width="9.97" height="1" fill="#ebd5ac"/>
<rect x="220.53" y="93" width="9.97" height="1" fill="#ebdbbb"/>
<rect x="220.53" y="94" width="9.97" height="1" fill="#edddbf"/>
<rect x="220.53" y="95" width="9.97" height="1" fill="#efdfc2"/>
<rect x="220.53" y="96" width="9.97" height="1" fill="#ead8b5"/>
<rect x="220.53" y="97" width="9.97" height="1" fill="#f0e1c6"/>
<rect x="220.53" y="98" width="9.97" height="1" fill="#eddbba"/>
<rect x="220.53" y="99" width="9.97" height="1" fill="#f1e6d0"/>
<rect x="220.53" y="100" width="9.97" height="1" fill="#efe5d1"/>
<rect x="220.53" y="101" width="9.97" height="1" fill="#f1e4cc"/>
<rect x="220.53" y="102" width="9.97" height="1" fill="#e8d4ae"/>
<rect x="220.53" y="103" width="9.97" height="1" fill="#f0e6d5"/>
<rect x="220.53" y="104" width="9.97" height="1" fill="#ebdcc0"/>
<rect x="220.53" y="105" width="9.97" height="1" fill="#eddfc5"/>
<rect x="220.53" y="106" width="9.97" height="1" fill="#f1e6d3"/>
<rect x="220.53" y="107" width="9.97" height="1" fill="#f1e6d0"/>
<rect x="220.53" y="108" width="9.97" height="1" fill="#f0e6d3"/>
<rect x="220.53" y="109" width="9.97" height="1" fill="#ecdab8"/>
<rect x="220.53" y="110" width="9.97" height="1" fill="#efdfc1"/>
<rect x="220.53" y="111" width="9.97" height="1" fill="#e3cb9e"/>
<rect x="220.53" y="112" width="9.97" height="1" fill="#f3e8d3"/>
<rect x="220.53" y="113" width="9.97" height="1" fill="#f0e5cf"/>
<rect x="220.53" y="114" width="9.97" height="1" fill="#f5efe2"/>
<rect x="220.53" y="115" width="9.97" height="1" fill="#f0e3cc"/>
<rect x="220.53" y="116" width="9.97" height="1" fill="#eadcc2"/>
<rect x="220.53" y="117" width="9.97" height="1" fill="#f1eadb"/>
<rect x="220.53" y="118" width="9.97" height="1" fill="#e4c082"/>
<rect x="220.53" y="119" width="9.97" height="1" fill="#efe4d0"/>
<rect x="220.53" y="120" width="9.97" height="1" fill="#ede2ce"/>
<rect x="220.53" y="121" width="9.97" height="1" fill="#f3ebdd"/>
<rect x="220.53" y="122" width="9.97" height="1" fill="#f0e1c5"/>
<rect x="220.53" y="123" width="9.97" height="1" fill="#f3ecdf"/>
<rect x="220.53" y="124" width="9.97" height="1" fill="#e9d7b5"/>
<rect x="220.53" y="125" width="9.97" height="1" fill="#ebd6ae"/>
<rect x="220.53" y="126" width="9.97" height="1" fill="#f8f4ec"/>
<rect x="220.53" y="127" width="9.97" height="1" fill="#f0e5d1"/>
<rect x="220.53" y="128" width="9.97" height="1" fill="#e8d4af"/>
<rect x="220.53" y="129" width="9.97" height="1" fill="#ebddc2"/>
<rect x="220.53" y="130" width="9.97" height="1" fill="#ebdfc7"/>
<rect x="220.53" y="131" width="9.97" height="1" fill="#ecddbf"/>
<rect x="220.53" y="132" width="9.97" height="1" fill="#f0e7d4"/>
<rect x="220.53" y="133" width="9.97" height="1" fill="#ebddc2"/>
<rect x="220.53" y="134" width="9.97" height="1" fill="#f1e7d3"/>
<rect x="220.53" y="135" width="9.97" height="1" fill="#f2e8d7"/>
<rect x="220.53" y="136" width="9.97" height="1" fill="#e3cea6"/>
<rect x="220.53" y="137" width="9.97" height="1" fill="#ddbc81"/>
<rect x="220.53" y="138" width="9.97" height="1" fill="#e5d0a9"/>
<rect x="220.53" y="139" width="9.97" height="1" fill="#efe1c6"/>
<rect x="220.53" y="140" width="9.97" height="1" fill="#f0e7d6"/>
<rect x="220.53" y="141" width="9.97" height="1" fill="#f3ede1"/>
<rect x="220.53" y="142" width="9.97" height="1" fill="#e8d7b7"/>
<rect x="220.53" y="143" width="9.97" height="1" fill="#f1e6d1"/>
<rect x="220.53" y="144" width="9.97" height="1" fill="#f2ebdd"/>
<rect x="220.53" y="145" width="9.97" height="1" fill="#e9dabd"/>
<rect x="220.53" y="146" width="9.97" height="1" fill="#ead3a8"/>
<rect x="220.53" y="147" width="9.97" height="1" fill="#f8f3ea"/>
<rect x="220.53" y="148" width="9.97" height="1" fill="#f2e9d6"/>
<rect x="220.53" y="149" width="9.97" height="1" fill="#f0e2c7"/>
<rect x="220.53" y="150" width="9.97" height="1" fill="#edddbe"/>
<rect x="220.53" y="151" width="9.97" height="1" fill="#e2c899"/>
<rect x="220.53" y="152" width="9.97" height="1" fill="#f2e9d7"/>
<rect x="220.53" y="153" width="9.97" height="1" fill="#e6ca95"/>
<rect x="220.53" y="154" width="9.97" height="1" fill="#efe2ca"/>
<rect x="220.53" y="155" width="9.97" height="1" fill="#eedfc4"/>
<rect x="220.53" y="156" width="9.97" height="1" fill="#e4c48a"/>
<rect x="220.53" y="157" width="9.97" height="1" fill="#eeddbd"/>
<rect x="220.53" y="158" width="9.97" height="1" fill="#edddbf"/>
<rect x="220.53" y="159" width="9.97" height="1" fill="#f2e5cd"/>
<rect x="220.53" y="160" width="9.97" height="1" fill="#e5cb9d"/>
<rect x="220.53" y="161" width="9.97" height="1" fill="#ead7b3"/>
<rect x="220.53" y="162" width="9.97" height="1" fill="#eee5d2"/>
<rect x="220.53" y="163" width="9.97" height="1" fill="#e9d4ac"/>
<rect x="220.53" y="164" width="9.97" height="1" fill="#e3bb74"/>
<rect x="220.53" y="165" width="9.97" height="1" fill="#efe5d2"/>
<rect x="220.53" y="166" width="9.97" height="1" fill="#e7d3b0"/>
<rect x="220.53" y="167" width="9.97" height="1" fill="#eee1c9"/>
<rect x="220.53" y="168" width="9.97" height="1" fill="#f8f4ec"/>
<rect x="220.53" y="169" width="9.97" height="1" fill="#f2e9d8"/>
<rect x="220.53" y="170" width="9.97" height="1" fill="#eee0c3"/>
<rect x="220.53" y="171" width="9.97" height="1" fill="#eadbbe"/>
<rect x="220.53" y="172" width="9.97" height="1" fill="#f4eee2"/>
<rect x="220.53" y="173" width="9.97" height="1" fill="#f4eee1"/>
<rect x="220.53" y="174" width="9.97" height="1" fill="#b97332"/>
<rect x="220.53" y="175" width="9.97" height="1" fill="#d7a052"/>
<rect x="220.53" y="176" width="9.97" height="1" fill="#af5f23"/>
<rect x="220.53" y="177" width="9.97" height="1" fill="#c87f31"/>
<rect x="220.53" y="178" width="9.97" height="1" fill="#c68439"/>
<rect x="220.53" y="179" width="9.97" height="1" fill="#d8ad68"/>
<rect x="220.53" y="180" width="9.97" height="1" fill="#8b4620"/>
<rect x="220.53" y="181" width="9.97" height="1" fill="#c17b32"/>
<rect x="220.53" y="182" width="9.97" height="1" fill="#bc6d26"/>
<rect x="220.53" y="183" width="9.97" height="1" fill="#c68439"/>
<rect x="220.53" y="184" width="9.97" height="1" fill="#a5602d"/>
<rect x="220.53" y="185" width="9.97" height="1" fill="#bf823f"/>
<rect x="220.53" y="186" width="9.97" height="1" fill="#a25928"/>
<rect x="220.53" y="187" width="9.97" height="1" fill="#a75a25"/>
<rect x="220.53" y="188" width="9.97" height="1" fill="#4c1b0f"/>
<rect x="220.53" y="189" width="9.97" height="1" fill="#c5873e"/>
<rect x="220.53" y="190" width="9.97" height="1" fill="#b97d3f"/>
<rect x="220.53" y="191" width="9.97" height="1" fill="#c67b2c"/>
<rect x="220.53" y="192" width="9.97" height="1" fill="#a14f1c"/>
<rect x="220.53" y="193" width="9.97" height="1" fill="#9a5225"/>
<rect x="220.53" y="194" width="9.97" height="1" fill="#d9a95d"/>
<rect x="220.53" y="195" width="9.97" height="1" fill="#854826"/>
<rect x="220.53" y="196" width="9.97" height="1" fill="#9a4e20"/>
<rect x="220.53" y="197" width="9.97" height="1" fill="#dbab5e"/>
<rect x="220.53" y="198" width="9.97" height="1" fill="#cc9248"/>
<rect x="220.53" y="199" width="9.97" height="1" fill="#ab632b"/>
<rect x="220.53" y="200" width="9.97" height="1" fill="#b2763c"/>
<rect x="220.53" y="201" width="9.97" height="1" fill="#90461d"/>
<rect x="220.53" y="202" width="9.97" height="1" fill="#bb6c26"/>
<rect x="220.53" y="203" width="9.97" height="1" fill="#ab5820"/>
<rect x="220.53" y="204" width="9.97" height="1" fill="#cc934a"/>
<rect x="220.53" y="205" width="9.97" height="1" fill="#95562e"/>
<rect x="220.53" y="206" width="9.97" height="1" fill="#7f3f1f"/>
<rect x="220.53" y="207" width="9.97" height="1" fill="#cd7f29"/>
<rect x="220.53" y="208" width="9.97" height="1" fill="#be7b36"/>
<rect x="220.53" y="209" width="9.97" height="1" fill="#a7541f"/>
<rect x="220.53" y="210" width="9.97" height="1" fill="#c58135"/>
<rect x="220.53" y="211" width="9.97" height="1" fill="#b36b2c"/>
<rect x="220.53" y="212" width="9.97" height="1" fill="#a26030"/>
<rect x="220.53" y="213" width="9.97" height="1" fill="#955026"/>
<rect x="220.53" y="214" width="9.97" height="1" fill="#7e4324"/>
<rect x="220.53" y="215" width="9.97" height="1" fill="#975830"/>
<rect x="229.90" y="54" width="9.97" height="1" fill="#ede1cb"/>
<rect x="229.90" y="55" width="9.97" height="1" fill="#eee2cb"/>
<rect x="229.90" y="56" width="9.97" height="1" fill="#efe5d1"/>
<rect x="229.90" y="57" width="9.97" height="1" fill="#ddc089"/>
<rect x="229.90" y="58" width="9.97" height="1" fill="#f0e3cc"/>
<rect x="229.90" y="59" width="9.97" height="1" fill="#e8ce9f"/>
<rect x="229.90" y="60" width="9.97" height="1" fill="#eddcbd"/>
<rect x="229.90" y="61" width="9.97" height="1" fill="#f4eddf"/>
<rect x="229.90" y="62" width="9.97" height="1" fill="#e2cb9f"/>
<rect x="229.90" y="63" width="9.97" height="1" fill="#f0e5d1"/>
<rect x="229.90" y="64" width="9.97" height="1" fill="#ecddc0"/>
<rect x="229.90" y="65" width="9.97" height="1" fill="#ede0c7"/>
<rect x="229.90" y="66" width="9.97" height="1" fill="#f2e9d8"/>
<rect x="229.90" y="67" width="9.97" height="1" fill="#f8f4ed"/>
<rect x="229.90" y="68" width="9.97" height="1" fill="#f0e7d5"/>
<rect x="229.90" y="69" width="9.97" height="1" fill="#f1e8d8"/>
<rect x="229.90" y="70" width="9.97" height="1" fill="#ebddc4"/>
<rect x="229.90" y="71" width="9.97" height="1" fill="#f2e5cd"/>
<rect x="229.90" y="72" width="9.97" height="1" fill="#efe3cd"/>
<rect x="229.90" y="73" width="9.97" height="1" fill="#efe5d1"/>
<rect x="229.90" y="74" width="9.97" height="1" fill="#eedfc3"/>
<rect x="229.90" y="75" width="9.97" height="1" fill="#e7d3af"/>
<rect x="229.90" y="76" width="9.97" height="1" fill="#f4ecdd"/>
<rect x="229.90" y="77" width="9.97" height="1" fill="#f0e5d1"/>
<rect x="229.90" y="78" width="9.97" height="1" fill="#e0c798"/>
<rect x="229.90" y="79" width="9.97" height="1" fill="#f0e5ce"/>
<rect x="229.90" y="80" width="9.97" height="1" fill="#f4ecdd"/>
<rect x="229.90" y="81" width="9.97" height="1" fill="#ebddc3"/>
<rect x="229.90" y="82" width="9.97" height="1" fill="#e8d7b7"/>
<rect x="229.90" y="83" width="9.97" height="1" fill="#e2cba1"/>
<rect x="229.90" y="84" width="9.97" height="1" fill="#ebdaba"/>
<rect x="229.90" y="85" width="9.97" height="1" fill="#ede2ce"/>
<rect x="229.90" y="86" width="9.97" height="1" fill="#ead5ae"/>
<rect x="229.90" y="87" width="9.97" height="1" fill="#e4c997"/>
<rect x="229.90" y="88" width="9.97" height="1" fill="#eddbbc"/>
<rect x="229.90" y="89" width="9.97" height="1" fill="#efe2c7"/>
<rect x="229.90" y="90" width="9.97" height="1" fill="#ebddc2"/>
<rect x="229.90" y="91" width="9.97" height="1" fill="#ecdec3"/>
<rect x="229.90" y="92" width="9.97" height="1" fill="#e7d1a7"/>
<rect x="229.90" y="93" width="9.97" height="1" fill="#e7c992"/>
<rect x="229.90" y="94" width="9.97" height="1" fill="#ecdbba"/>
<rect x="229.90" y="95" width="9.97" height="1" fill="#f6f1e8"/>
<rect x="229.90" y="96" width="9.97" height="1" fill="#eeddbd"/>
<rect x="229.90" y="97" width="9.97" height="1" fill="#f3ecdf"/>
<rect x="229.90" y="98" width="9.97" height="1" fill="#ecdfc6"/>
<rect x="229.90" y="99" width="9.97" height="1" fill="#ede1cb"/>
<rect x="229.90" y="100" width="9.97" height="1" fill="#f7f3ed"/>
<rect x="229.90" y="101" width="9.97" height="1" fill="#f6f0e4"/>
<rect x="229.90" y="102" width="9.97" height="1" fill="#e9d2a7"/>
<rect x="229.90" y="103" width="9.97" height="1" fill="#f7f4ed"/>
<rect x="229.90" y="104" width="9.97" height="1" fill="#f2e8d5"/>
<rect x="229.90" y="105" width="9.97" height="1" fill="#f7f3eb"/>
<rect x="229.90" y="106" width="9.97" height="1" fill="#f2e6cf"/>
<rect x="229.90" y="107" width="9.97" height="1" fill="#e3cca1"/>
<rect x="229.90" y="108" width="9.97" height="1" fill="#e9d8b7"/>
<rect x="229.90" y="109" width="9.97" height="1" fill="#efe3ce"/>
<rect x="229.90" y="110" width="9.97" height="1" fill="#e2c99a"/>
<rect x="229.90" y="111" width="9.97" height="1" fill="#e8cfa0"/>
<rect x="229.90" y="112" width="9.97" height="1" fill="#e9d9bb"/>
<rect x="229.90" y="113" width="9.97" height="1" fill="#eee1c8"/>
<rect x="229.90" y="114" width="9.97" height="1" fill="#eedebe"/>
<rect x="229.90" y="115" width="9.97" height="1" fill="#f2e9d6"/>
<rect x="229.90" y="116" width="9.97" height="1" fill="#efdfc1"/>
<rect x="229.90" y="117" width="9.97" height="1" fill="#f1e9da"/>
<rect x="229.90" y="118" width="9.97" height="1" fill="#ecd5ab"/>
<rect x="229.90" y="119" width="9.97" height="1" fill="#ecdab8"/>
<rect x="229.90" y="120" width="9.97" height="1" fill="#f2e8d5"/>
<rect x="229.90" y="121" width="9.97" height="1" fill="#f8f4ed"/>
<rect x="229.90" y="122" width="9.97" height="1" fill="#edddbf"/>
<rect x="229.90" y="123" width="9.97" height="1" fill="#ecdfc7"/>
<rect x="229.90" y="124" width="9.97" height="1" fill="#eee1c9"/>
<rect x="229.90" y="125" width="9.97" height="1" fill="#f6f1e7"/>
<rect x="229.90" y="126" width="9.97" height="1" fill="#efe1c6"/>
<rect x="229.90" y="127" width="9.97" height="1" fill="#efe2c9"/>
<rect x="229.90" y="128" width="9.97" height="1" fill="#efe1c7"/>
<rect x="229.90" y="129" width="9.97" height="1" fill="#f3ebda"/>
<rect x="229.90" y="130" width="9.97" height="1" fill="#ecdbbc"/>
<rect x="229.90" y="131" width="9.97" height="1" fill="#f2ead8"/>
<rect x="229.90" y="132" width="9.97" height="1" fill="#e0bc7d"/>
<rect x="229.90" y="133" width="9.97" height="1" fill="#f4ecde"/>
<rect x="229.90" y="134" width="9.97" height="1" fill="#eddcbc"/>
<rect x="229.90" y="135" width="9.97" height="1" fill="#f2e6d1"/>
<rect x="229.90" y="136" width="9.97" height="1" fill="#f5eee0"/>
<rect x="229.90" y="137" width="9.97" height="1" fill="#eee0c6"/>
<rect x="229.90" y="138" width="9.97" height="1" fill="#e8d0a4"/>
<rect x="229.90" y="139" width="9.97" height="1" fill="#ede1cb"/>
<rect x="229.90" y="140" width="9.97" height="1" fill="#efdfc2"/>
<rect x="229.90" y="141" width="9.97" height="1" fill="#efe4cf"/>
<rect x="229.90" y="142" width="9.97" height="1" fill="#eee1c9"/>
<rect x="229.90" y="143" width="9.97" height="1" fill="#f8f4ed"/>
<rect x="229.90" y="144" width="9.97" height="1" fill="#f5f0e4"/>
<rect x="229.90" y="145" width="9.97" height="1" fill="#f0e5cf"/>
<rect x="229.90" y="146" width="9.97" height="1" fill="#dec391"/>
<rect x="229.90" y="147" width="9.97" height="1" fill="#f6f2ea"/>
<rect x="229.90" y="148" width="9.97" height="1" fill="#ebdec5"/>
<rect x="229.90" y="149" width="9.97" height="1" fill="#eee1c8"/>
<rect x="229.90" y="150" width="9.97" height="1" fill="#ebdfc8"/>
<rect x="229.90" y="151" width="9.97" height="1" fill="#f1e5cc"/>
<rect x="229.90" y="152" width="9.97" height="1" fill="#e9d1a7"/>
<rect x="229.90" y="153" width="9.97" height="1" fill="#f6f1e9"/>
<rect x="229.90" y="154" width="9.97" height="1" fill="#ecdec2"/>
<rect x="229.90" y="155" width="9.97" height="1" fill="#e5c792"/>
<rect x="229.90" y="156" width="9.97" height="1" fill="#ebdcc0"/>
<rect x="229.90" y="157" width="9.97" height="1" fill="#e6c485"/>
<rect x="229.90" y="158" width="9.97" height="1" fill="#eddec0"/>
<rect x="229.90" y="159" width="9.97" height="1" fill="#f0e5cf"/>
<rect x="229.90" y="160" width="9.97" height="1" fill="#f6f1ea"/>
<rect x="229.90" y="161" width="9.97" height="1" fill="#f3ecde"/>
<rect x="229.90" y="162" width="9.97" height="1" fill="#f3e8d3"/>
<rect x="229.90" y="163" width="9.97" height="1" fill="#ecdcbf"/>
<rect x="229.90" y="164" width="9.97" height="1" fill="#f0e7d7"/>
<rect x="229.90" y="165" width="9.97" height="1" fill="#f2e9d7"/>
<rect x="229.90" y="166" width="9.97" height="1" fill="#f5eddd"/>
<rect x="229.90" y="167" width="9.97" height="1" fill="#e9d9bd"/>
<rect x="229.90" y="168" width="9.97" height="1" fill="#f4ede0"/>
<rect x="229.90" y="169" width="9.97" height="1" fill="#f3ead8"/>
<rect x="229.90" y="170" width="9.97" height="1" fill="#f0e3cc"/>
<rect x="229.90" y="171" width="9.97" height="1" fill="#e9dabe"/>
<rect x="229.90" y="172" width="9.97" height="1" fill="#f2e5cd"/>
<rect x="229.90" y="173" width="9.97" height="1" fill="#f3e9d6"/>
<rect x="229.90" y="174" width="9.97" height="1" fill="#d9b474"/>
<rect x="229.90" y="175" width="9.97" height="1" fill="#a35422"/>
<rect x="229.90" y="176" width="9.97" height="1" fill="#b16a2f"/>
<rect x="229.90" y="177" width="9.97" height="1" fill="#cb893c"/>
<rect x="229.90" y="178" width="9.97" height="1" fill="#a45f2d"/>
<rect x="229.90" y="179" width="9.97" height="1" fill="#a7622f"/>
<rect x="229.90" y="180" width="9.97" height="1" fill="#ca934d"/>
<rect x="229.90" y="181" width="9.97" height="1" fill="#813b1a"/>
<rect x="229.90" y="182" width="9.97" height="1" fill="#8e4b25"/>
<rect x="229.90" y="183" width="9.97" height="1" fill="#a05221"/>
<rect x="229.90" y="184" width="9.97" height="1" fill="#8f421a"/>
<rect x="229.90" y="185" width="9.97" height="1" fill="#a05b2d"/>
<rect x="229.90" y="186" width="9.97" height="1" fill="#b36a2d"/>
<rect x="229.90" y="187" width="9.97" height="1" fill="#b86b29"/>
<rect x="229.90" y="188" width="9.97" height="1" fill="#8a4a27"/>
<rect x="229.90" y="189" width="9.97" height="1" fill="#995024"/>
<rect x="229.90" y="190" width="9.97" height="1" fill="#ae6d35"/>
<rect x="229.90" y="191" width="9.97" height="1" fill="#c27f37"/>
<rect x="229.90" y="192" width="9.97" height="1" fill="#b77132"/>
<rect x="229.90" y="193" width="9.97" height="1" fill="#b96c28"/>
<rect x="229.90" y="194" width="9.97" height="1" fill="#854220"/>
<rect x="229.90" y="195" width="9.97" height="1" fill="#a8632e"/>
<rect x="229.90" y="196" width="9.97" height="1" fill="#843d1a"/>
<rect x="229.90" y="197" width="9.97" height="1" fill="#af6f37"/>
<rect x="229.90" y="198" width="9.97" height="1" fill="#91512b"/>
<rect x="229.90" y="199" width="9.97" height="1" fill="#9d5a2d"/>
<rect x="229.90" y="200" width="9.97" height="1" fill="#aa5c24"/>
<rect x="229.90" y="201" width="9.97" height="1" fill="#b57335"/>
<rect x="229.90" y="202" width="9.97" height="1" fill="#b86f2c"/>
<rect x="229.90" y="203" width="9.97" height="1" fill="#72371d"/>
<rect x="229.90" y="204" width="9.97" height="1" fill="#c38945"/>
<rect x="229.90" y="205" width="9.97" height="1" fill="#c17830"/>
<rect x="229.90" y="206" width="9.97" height="1" fill="#804425"/>
<rect x="229.90" y="207" width="9.97" height="1" fill="#a9551f"/>
<rect x="229.90" y="208" width="9.97" height="1" fill="#bd7d3b"/>
<rect x="229.90" y="209" width="9.97" height="1" fill="#ae6227"/>
<rect x="229.90" y="210" width="9.97" height="1" fill="#985226"/>
<rect x="229.90" y="211" width="9.97" height="1" fill="#73371e"/>
<rect x="229.90" y="212" width="9.97" height="1" fill="#c1823c"/>
<rect x="229.90" y="213" width="9.97" height="1" fill="#ab5d24"/>
<rect x="229.90" y="214" width="9.97" height="1" fill="#9b4e20"/>
<rect x="229.90" y="215" width="9.97" height="1" fill="#aa6630"/>
<rect x="239.27" y="54" width="9.97" height="1" fill="#ede0c5"/>
<rect x="239.27" y="55" width="9.97" height="1" fill="#f4ede0"/>
<rect x="239.27" y="56" width="9.97" height="1" fill="#efe4ce"/>
<rect x="239.27" y="57" width="9.97" height="1" fill="#f0e7d4"/>
<rect x="239.27" y="58" width="9.97" height="1" fill="#f0e4cd"/>
<rect x="239.27" y="59" width="9.97" height="1" fill="#f2e8d4"/>
<rect x="239.27" y="60" width="9.97" height="1" fill="#e6d1aa"/>
<rect x="239.27" y="61" width="9.97" height="1" fill="#ead8b8"/>
<rect x="239.27" y="62" width="9.97" height="1" fill="#ead1a3"/>
<rect x="239.27" y="63" width="9.97" height="1" fill="#e3ca9c"/>
<rect x="239.27" y="64" width="9.97" height="1" fill="#edddbe"/>
<rect x="239.27" y="65" width="9.97" height="1" fill="#ecddc0"/>
<rect x="239.27" y="66" width="9.97" height="1" fill="#f1e8d8"/>
<rect x="239.27" y="67" width="9.97" height="1" fill="#e1bc79"/>
<rect x="239.27" y="68" width="9.97" height="1" fill="#eddfc5"/>
<rect x="239.27" y="69" width="9.97" height="1" fill="#f6eee1"/>
<rect x="239.27" y="70" width="9.97" height="1" fill="#e7c484"/>
<rect x="239.27" y="71" width="9.97" height="1" fill="#f4eddf"/>
<rect x="239.27" y="72" width="9.97" height="1" fill="#f1e6d2"/>
<rect x="239.27" y="73" width="9.97" height="1" fill="#eadcc2"/>
<rect x="239.27" y="74" width="9.97" height="1" fill="#e3c286"/>
<rect x="239.27" y="75" width="9.97" height="1" fill="#efdebf"/>
<rect x="239.27" y="76" width="9.97" height="1" fill="#ebd7b0"/>
<rect x="239.27" y="77" width="9.97" height="1" fill="#f3e8d3"/>
<rect x="239.27" y="78" width="9.97" height="1" fill="#f0e4cb"/>
<rect x="239.27" y="79" width="9.97" height="1" fill="#eddcbc"/>
<rect x="239.27" y="80" width="9.97" height="1" fill="#f4ecdd"/>
<rect x="239.27" y="81" width="9.97" height="1" fill="#eee1c9"/>
<rect x="239.27" y="82" width="9.97" height="1" fill="#edddc0"/>
<rect x="239.27" y="83" width="9.97" height="1" fill="#f3ede2"/>
<rect x="239.27" y="84" width="9.97" height="1" fill="#ede0c6"/>
<rect x="239.27" y="85" width="9.97" height="1" fill="#f5efe4"/>
<rect x="239.27" y="86" width="9.97" height="1" fill="#e6cfa5"/>
<rect x="239.27" y="87" width="9.97" height="1" fill="#e8cb95"/>
<rect x="239.27" y="88" width="9.97" height="1" fill="#e6c281"/>
<rect x="239.27" y="89" width="9.97" height="1" fill="#f2eada"/>
<rect x="239.27" y="90" width="9.97" height="1" fill="#ede2cc"/>
<rect x="239.27" y="91" width="9.97" height="1" fill="#ead5ae"/>
<rect x="239.27" y="92" width="9.97" height="1" fill="#f7f1e7"/>
<rect x="239.27" y="93" width="9.97" height="1" fill="#ecdec3"/>
<rect x="239.27" y="94" width="9.97" height="1" fill="#f8f4ec"/>
<rect x="239.27" y="95" width="9.97" height="1" fill="#e5cea5"/>
<rect x="239.27" y="96" width="9.97" height="1" fill="#ebd6ad"/>
<rect x="239.27" y="97" width="9.97" height="1" fill="#f1e4cc"/>
<rect x="239.27" y="98" width="9.97" height="1" fill="#f1e7d6"/>
<rect x="239.27" y="99" width="9.97" height="1" fill="#efdfc1"/>
<rect x="239.27" y="100" width="9.97" height="1" fill="#f8f4ec"/>
<rect x="239.27" y="101" width="9.97" height="1" fill="#f6f0e5"/>
<rect x="239.27" y="102" width="9.97" height="1" fill="#ede1cc"/>
<rect x="239.27" y="103" width="9.97" height="1" fill="#f5efe3"/>
<rect x="239.27" y="104" width="9.97" height="1" fill="#f8f4ed"/>
<rect x="239.27" y="105" width="9.97" height="1" fill="#e3cda4"/>
<rect x="239.27" y="106" width="9.97" height="1" fill="#eee1c9"/>
<rect x="239.27" y="107" width="9.97" height="1" fill="#eee4d0"/>
<rect x="239.27" y="108" width="9.97" height="1" fill="#e3cb9d"/>
<rect x="239.27" y="109" width="9.97" height="1" fill="#e4cc9f"/>
<rect x="239.27" y="110" width="9.97" height="1" fill="#ede2cc"/>
<rect x="239.27" y="111" width="9.97" height="1" fill="#f1e4cb"/>
<rect x="239.27" y="112" width="9.97" height="1" fill="#eedfc2"/>
<rect x="239.27" y="113" width="9.97" height="1" fill="#f7f4ed"/>
<rect x="239.27" y="114" width="9.97" height="1" fill="#f5eee0"/>
<rect x="239.27" y="115" width="9.97" height="1" fill="#e9dabf"/>
<rect x="239.27" y="116" width="9.97" height="1" fill="#f6f1e6"/>
<rect x="239.27" y="117" width="9.97" height="1" fill="#e9d8ba"/>
<rect x="239.27" y="118" width="9.97" height="1" fill="#f3e9d5"/>
<rect x="239.27" y="119" width="9.97" height="1" fill="#e9d5b0"/>
<rect x="239.27" y="120" width="9.97" height="1" fill="#e0c38d"/>
<rect x="239.27" y="121" width="9.97" height="1" fill="#eddfc3"/>
<rect x="239.27" y="122" width="9.97" height="1" fill="#e0c697"/>
<rect x="239.27" y="123" width="9.97" height="1" fill="#f2e6cf"/>
<rect x="239.27" y="124" width="9.97" height="1" fill="#efe3cc"/>
<rect x="239.27" y="125" width="9.97" height="1" fill="#f6f0e3"/>
<rect x="239.27" y="126" width="9.97" height="1" fill="#eddfc5"/>
<rect x="239.27" y="127" width="9.97" height="1" fill="#f5efe4"/>
<rect x="239.27" y="128" width="9.97" height="1" fill="#ede2cd"/>
<rect x="239.27" y="129" width="9.97" height="1" fill="#efe2c9"/>
<rect x="239.27" y="130" width="9.97" height="1" fill="#ede1cc"/>
<rect x="239.27" y="131" width="9.97" height="1" fill="#ecdfc5"/>
<rect x="239.27" y="132" width="9.97" height="1" fill="#ecdec6"/>
<rect x="239.27" y="133" width="9.97" height="1" fill="#ebddc2"/>
<rect x="239.27" y="134" width="9.97" height="1" fill="#f1e6d2"/>
<rect x="239.27" y="135" width="9.97" height="1" fill="#eee4d1"/>
<rect x="239.27" y="136" width="9.97" height="1" fill="#e9cd9a"/>
<rect x="239.27" y="137" width="9.97" height="1" fill="#ede1cc"/>
<rect x="239.27" y="138" width="9.97" height="1" fill="#dfc491"/>
<rect x="239.27" y="139" width="9.97" height="1" fill="#e4cb9f"/>
<rect x="239.27" y="140" width="9.97" height="1" fill="#ead6b2"/>
<rect x="239.27" y="141" width="9.97" height="1" fill="#ebdabb"/>
<rect x="239.27" y="142" width="9.97" height="1" fill="#e8d6b6"/>
<rect x="239.27" y="143" width="9.97" height="1" fill="#ebd5ab"/>
<rect x="239.27" y="144" width="9.97" height="1" fill="#efe2c7"/>
<rect x="239.27" y="145" width="9.97" height="1" fill="#f5ecdc"/>
<rect x="239.27" y="146" width="9.97" height="1" fill="#f4eee2"/>
<rect x="239.27" y="147" width="9.97" height="1" fill="#eee5d2"/>
<rect x="239.27" y="148" width="9.97" height="1" fill="#f4efe5"/>
<rect x="239.27" y="149" width="9.97" height="1" fill="#efe1c7"/>
<rect x="239.27" y="150" width="9.97" height="1" fill="#eedec2"/>
<rect x="239.27" y="151" width="9.97" height="1" fill="#eedebf"/>
<rect x="239.27" y="152" width="9.97" height="1" fill="#eee4d0"/>
<rect x="239.27" y="153" width="9.97" height="1" fill="#eee2ca"/>
<rect x="239.27" y="154" width="9.97" height="1" fill="#e7d3af"/>
<rect x="239.27" y="155" width="9.97" height="1" fill="#f3ecde"/>
<rect x="239.27" y="156" width="9.97" height="1" fill="#f2e8d4"/>
<rect x="239.27" y="157" width="9.97" height="1" fill="#e4c896"/>
<rect x="239.27" y="158" width="9.97" height="1" fill="#f8f3ea"/>
<rect x="239.27" y="159" width="9.97" height="1" fill="#f4eee1"/>
<rect x="239.27" y="160" width="9.97" height="1" fill="#e7d6b6"/>
<rect x="239.27" y="161" width="9.97" height="1" fill="#f8f3ea"/>
<rect x="239.27" y="162" width="9.97" height="1" fill="#efe5d1"/>
<rect x="239.27" y="163" width="9.97" height="1" fill="#ebdcc1"/>
<rect x="239.27" y="164" width="9.97" height="1" fill="#f2e9d9"/>
<rect x="239.27" y="165" width="9.97" height="1" fill="#f6f2ea"/>
<rect x="239.27" y="166" width="9.97" height="1" fill="#eadabc"/>
<rect x="239.27" y="167" width="9.97" height="1" fill="#f3ebdc"/>
<rect x="239.27" y="168" width="9.97" height="1" fill="#f7f4ed"/>
<rect x="239.27" y="169" width="9.97" height="1" fill="#f1e4cc"/>
<rect x="239.27" y="170" width="9.97" height="1" fill="#f2e9d7"/>
<rect x="239.27" y="171" width="9.97" height="1" fill="#eee2cb"/>
<rect x="239.27" y="172" width="9.97" height="1" fill="#f1e6d2"/>
<rect x="239.27" y="173" width="9.97" height="1" fill="#eee0c6"/>
<rect x="239.27" y="174" width="9.97" height="1" fill="#d48a31"/>
<rect x="239.27" y="175" width="9.97" height="1" fill="#c2813b"/>
<rect x="239.27" y="176" width="9.97" height="1" fill="#ca893c"/>
<rect x="239.27" y="177" width="9.97" height="1" fill="#a35725"/>
<rect x="239.27" y="178" width="9.97" height="1" fill="#aa6a35"/>
<rect x="239.27" y="179" width="9.97" height="1" fill="#a16133"/>
<rect x="239.27" y="180" width="9.97" height="1" fill="#b56a2a"/>
<rect x="239.27" y="181" width="9.97" height="1" fill="#91431a"/>
<rect x="239.27" y="182" width="9.97" height="1" fill="#8b431d"/>
<rect x="239.27" y="183" width="9.97" height="1" fill="#cb822f"/>
<rect x="239.27" y="184" width="9.97" height="1" fill="#b46d2e"/>
<rect x="239.27" y="185" width="9.97" height="1" fill="#d19344"/>
<rect x="239.27" y="186" width="9.97" height="1" fill="#99572e"/>
<rect x="239.27" y="187" width="9.97" height="1" fill="#703820"/>
<rect x="239.27" y="188" width="9.97" height="1" fill="#733b22"/>
<rect x="239.27" y="189" width="9.97" height="1" fill="#8c4b26"/>
<rect x="239.27" y="190" width="9.97" height="1" fill="#c37427"/>
<rect x="239.27" y="191" width="9.97" height="1" fill="#a66230"/>
<rect x="239.27" y="192" width="9.97" height="1" fill="#7c3d1f"/>
<rect x="239.27" y="193" width="9.97" height="1" fill="#8b4620"/>
<rect x="239.27" y="194" width="9.97" height="1" fill="#7a3c1e"/>
<rect x="239.27" y="195" width="9.97" height="1" fill="#cf832d"/>
<rect x="239.27" y="196" width="9.97" height="1" fill="#af6226"/>
<rect x="239.27" y="197" width="9.97" height="1" fill="#c68e49"/>
<rect x="239.27" y="198" width="9.97" height="1" fill="#b96d29"/>
<rect x="239.27" y="199" width="9.97" height="1" fill="#b3682a"/>
<rect x="239.27" y="200" width="9.97" height="1" fill="#b7702e"/>
<rect x="239.27" y="201" width="9.97" height="1" fill="#a86633"/>
<rect x="239.27" y="202" width="9.97" height="1" fill="#9c5122"/>
<rect x="239.27" y="203" width="9.97" height="1" fill="#713921"/>
<rect x="239.27" y="204" width="9.97" height="1" fill="#8a4722"/>
<rect x="239.27" y="205" width="9.97" height="1" fill="#b76725"/>
<rect x="239.27" y="206" width="9.97" height="1" fill="#a7612d"/>
<rect x="239.27" y="207" width="9.97" height="1" fill="#8f471f"/>
<rect x="239.27" y="208" width="9.97" height="1" fill="#9c5427"/>
<rect x="239.27" y="209" width="9.97" height="1" fill="#a75721"/>
<rect x="239.27" y="210" width="9.97" height="1" fill="#aa6c36"/>
<rect x="239.27" y="211" width="9.97" height="1" fill="#813e1e"/>
<rect x="239.27" y="212" width="9.97" height="1" fill="#c3792e"/>
<rect x="239.27" y="213" width="9.97" height="1" fill="#804323"/>
<rect x="239.27" y="214" width="9.97" height="1" fill="#8b4620"/>
<rect x="239.27" y="215" width="9.97" height="1" fill="#96562d"/>
<rect x="248.63" y="54" width="9.97" height="1" fill="#eedebf"/>
<rect x="248.63" y="55" width="9.97" height="1" fill="#ebd7b1"/>
<rect x="248.63" y="56" width="9.97" height="1" fill="#f0e6d4"/>
<rect x="248.63" y="57" width="9.97" height="1" fill="#ead6b0"/>
<rect x="248.63" y="58" width="9.97" height="1" fill="#f4ede0"/>
<rect x="248.63" y="59" width="9.97" height="1" fill="#ece0c9"/>
<rect x="248.63" y="60" width="9.97" height="1" fill="#f7f1e6"/>
<rect x="248.63" y="61" width="9.97" height="1" fill="#e4d1ac"/>
<rect x="248.63" y="62" width="9.97" height="1" fill="#f4ecde"/>
<rect x="248.63" y="63" width="9.97" height="1" fill="#efe2c9"/>
<rect x="248.63" y="64" width="9.97" height="1" fill="#e6ca97"/>
<rect x="248.63" y="65" width="9.97" height="1" fill="#e3c999"/>
<rect x="248.63" y="66" width="9.97" height="1" fill="#f7f1e7"/>
<rect x="248.63" y="67" width="9.97" height="1" fill="#ecdab8"/>
<rect x="248.63" y="68" width="9.97" height="1" fill="#f1e7d4"/>
<rect x="248.63" y="69" width="9.97" height="1" fill="#e9cb95"/>
<rect x="248.63" y="70" width="9.97" height="1" fill="#f3e8d4"/>
<rect x="248.63" y="71" width="9.97" height="1" fill="#f6f0e5"/>
<rect x="248.63" y="72" width="9.97" height="1" fill="#eddfc5"/>
<rect x="248.63" y="73" width="9.97" height="1" fill="#e6c792"/>
<rect x="248.63" y="74" width="9.97" height="1" fill="#eee0c4"/>
<rect x="248.63" y="75" width="9.97" height="1" fill="#ead6b1"/>
<rect x="248.63" y="76" width="9.97" height="1" fill="#eadabc"/>
<rect x="248.63" y="77" width="9.97" height="1" fill="#f7f3ed"/>
<rect x="248.63" y="78" width="9.97" height="1" fill="#f1e3c8"/>
<rect x="248.63" y="79" width="9.97" height="1" fill="#f1e4cc"/>
<rect x="248.63" y="80" width="9.97" height="1" fill="#efe4d0"/>
<rect x="248.63" y="81" width="9.97" height="1" fill="#e3c794"/>
<rect x="248.63" y="82" width="9.97" height="1" fill="#efe6d5"/>
<rect x="248.63" y="83" width="9.97" height="1" fill="#ead9ba"/>
<rect x="248.63" y="84" width="9.97" height="1" fill="#eee5d2"/>
<rect x="248.63" y="85" width="9.97" height="1" fill="#efe1c6"/>
<rect x="248.63" y="86" width="9.97" height="1" fill="#ede0c6"/>
<rect x="248.63" y="87" width="9.97" height="1" fill="#f1e6d0"/>
<rect x="248.63" y="88" width="9.97" height="1" fill="#ecd7af"/>
<rect x="248.63" y="89" width="9.97" height="1" fill="#f1e6d0"/>
<rect x="248.63" y="90" width="9.97" height="1" fill="#e9d7b6"/>
<rect x="248.63" y="91" width="9.97" height="1" fill="#f7f4ed"/>
<rect x="248.63" y="92" width="9.97" height="1" fill="#f1e5cd"/>
<rect x="248.63" y="93" width="9.97" height="1" fill="#e5d2af"/>
<rect x="248.63" y="94" width="9.97" height="1" fill="#e9d3a9"/>
<rect x="248.63" y="95" width="9.97" height="1" fill="#edddbf"/>
<rect x="248.63" y="96" width="9.97" height="1" fill="#f8f4ed"/>
<rect x="248.63" y="97" width="9.97" height="1" fill="#edddbe"/>
<rect x="248.63" y="98" width="9.97" height="1" fill="#f3ebdc"/>
<rect x="248.63" y="99" width="9.97" height="1" fill="#f3e8d5"/>
<rect x="248.63" y="100" width="9.97" height="1" fill="#f0e4cc"/>
<rect x="248.63" y="101" width="9.97" height="1" fill="#f1e6d0"/>
<rect x="248.63" y="102" width="9.97" height="1" fill="#f4ede0"/>
<rect x="248.63" y="103" width="9.97" height="1" fill="#f0e5d2"/>
<rect x="248.63" y="104" width="9.97" height="1" fill="#ebd4a8"/>
<rect x="248.63" y="105" width="9.97" height="1" fill="#f1e9d9"/>
<rect x="248.63" y="106" width="9.97" height="1" fill="#eddebf"/>
<rect x="248.63" y="107" width="9.97" height="1" fill="#eddfc4"/>
<rect x="248.63" y="108" width="9.97" height="1" fill="#eedfc2"/>
<rect x="248.63" y="109" width="9.97" height="1" fill="#eee4d1"/>
<rect x="248.63" y="110" width="9.97" height="1" fill="#ede0c7"/>
<rect x="248.63" y="111" width="9.97" height="1" fill="#f0e5d2"/>
<rect x="248.63" y="112" width="9.97" height="1" fill="#f0e6d4"/>
<rect x="248.63" y="113" width="9.97" height="1" fill="#f0e3ca"/>
<rect x="248.63" y="114" width="9.97" height="1" fill="#ecdcbe"/>
<rect x="248.63" y="115" width="9.97" height="1" fill="#efe0c3"/>
<rect x="248.63" y="116" width="9.97" height="1" fill="#f4eddf"/>
<rect x="248.63" y="117" width="9.97" height="1" fill="#ecdec1"/>
<rect x="248.63" y="118" width="9.97" height="1" fill="#f0e4cc"/>
<rect x="248.63" y="119" width="9.97" height="1" fill="#f1e8d8"/>
<rect x="248.63" y="120" width="9.97" height="1" fill="#e1c796"/>
<rect x="248.63" y="121" width="9.97" height="1" fill="#f8f4ed"/>
<rect x="248.63" y="122" width="9.97" height="1" fill="#f1e4cb"/>
<rect x="248.63" y="123" width="9.97" height="1" fill="#f5eee0"/>
<rect x="248.63" y="124" width="9.97" height="1" fill="#e3c387"/>
<rect x="248.63" y="125" width="9.97" height="1" fill="#e8d0a4"/>
<rect x="248.63" y="126" width="9.97" height="1" fill="#f4ecdf"/>
<rect x="248.63" y="127" width="9.97" height="1" fill="#f2ebdd"/>
<rect x="248.63" y="128" width="9.97" height="1" fill="#ecdbbb"/>
<rect x="248.63" y="129" width="9.97" height="1" fill="#f8f4ec"/>
<rect x="248.63" y="130" width="9.97" height="1" fill="#f0e5ce"/>
<rect x="248.63" y="131" width="9.97" height="1" fill="#f5efe2"/>
<rect x="248.63" y="132" width="9.97" height="1" fill="#e7cfa3"/>
<rect x="248.63" y="133" width="9.97" height="1" fill="#e4cda1"/>
<rect x="248.63" y="134" width="9.97" height="1" fill="#f1e7d3"/>
<rect x="248.63" y="135" width="9.97" height="1" fill="#e9d8b9"/>
<rect x="248.63" y="136" width="9.97" height="1" fill="#e7d3af"/>
<rect x="248.63" y="137" width="9.97" height="1" fill="#f1e7d3"/>
<rect x="248.63" y="138" width="9.97" height="1" fill="#e8d2ab"/>
<rect x="248.63" y="139" width="9.97" height="1" fill="#f4eee0"/>
<rect x="248.63" y="140" width="9.97" height="1" fill="#f2eadc"/>
<rect x="248.63" y="141" width="9.97" height="1" fill="#e2be7d"/>
<rect x="248.63" y="142" width="9.97" height="1" fill="#e9d9bd"/>
<rect x="248.63" y="143" width="9.97" height="1" fill="#efdebf"/>
<rect x="248.63" y="144" width="9.97" height="1" fill="#efe4cf"/>
<rect x="248.63" y="145" width="9.97" height="1" fill="#f5f0e5"/>
<rect x="248.63" y="146" width="9.97" height="1" fill="#f4ebd9"/>
<rect x="248.63" y="147" width="9.97" height="1" fill="#ede2cd"/>
<rect x="248.63" y="148" width="9.97" height="1" fill="#eddfc6"/>
<rect x="248.63" y="149" width="9.97" height="1" fill="#ebddc1"/>
<rect x="248.63" y="150" width="9.97" height="1" fill="#ede2cd"/>
<rect x="248.63" y="151" width="9.97" height="1" fill="#f5eddc"/>
<rect x="248.63" y="152" width="9.97" height="1" fill="#e9d9bb"/>
<rect x="248.63" y="153" width="9.97" height="1" fill="#f1e3ca"/>
<rect x="248.63" y="154" width="9.97" height="1" fill="#f7f3e9"/>
<rect x="248.63" y="155" width="9.97" height="1" fill="#f0e5cf"/>
<rect x="248.63" y="156" width="9.97" height="1" fill="#e8d1a6"/>
<rect x="248.63" y="157" width="9.97" height="1" fill="#f2e9d8"/>
<rect x="248.63" y="158" width="9.97" height="1" fill="#f1eada"/>
<rect x="248.63" y="159" width="9.97" height="1" fill="#dfc187"/>
<rect x="248.63" y="160" width="9.97" height="1" fill="#f1e6d1"/>
<rect x="248.63" y="161" width="9.97" height="1" fill="#e5cfa6"/>
<rect x="248.63" y="162" width="9.97" height="1" fill="#f7f3ec"/>
<rect x="248.63" y="163" width="9.97" height="1" fill="#e5c997"/>
<rect x="248.63" y="164" width="9.97" height="1" fill="#f5f0e5"/>
<rect x="248.63" y="165" width="9.97" height="1" fill="#f2ecdf"/>
<rect x="248.63" y="166" width="9.97" height="1" fill="#e4cc9f"/>
<rect x="248.63" y="167" width="9.97" height="1" fill="#efe3cc"/>
<rect x="248.63" y="168" width="9.97" height="1" fill="#efe1c7"/>
<rect x="248.63" y="169" width="9.97" height="1" fill="#f1e9d9"/>
<rect x="248.63" y="170" width="9.97" height="1" fill="#e9dbc0"/>
<rect x="248.63" y="171" width="9.97" height="1" fill="#f5efe4"/>
<rect x="248.63" y="172" width="9.97" height="1" fill="#eddab7"/>
<rect x="248.63" y="173" width="9.97" height="1" fill="#f0e6d2"/>
<rect x="248.63" y="174" width="9.97" height="1" fill="#d49c50"/>
<rect x="248.63" y="175" width="9.97" height="1" fill="#b56424"/>
<rect x="248.63" y="176" width="9.97" height="1" fill="#884521"/>
<rect x="248.63" y="177" width="9.97" height="1" fill="#c98334"/>
<rect x="248.63" y="178" width="9.97" height="1" fill="#ba702d"/>
<rect x="248.63" y="179" width="9.97" height="1" fill="#804526"/>
<rect x="248.63" y="180" width="9.97" height="1" fill="#7a3f22"/>
<rect x="248.63" y="181" width="9.97" height="1" fill="#b56424"/>
<rect x="248.63" y="182" width="9.97" height="1" fill="#9f501f"/>
<rect x="248.63" y="183" width="9.97" height="1" fill="#954d22"/>
<rect x="248.63" y="184" width="9.97" height="1" fill="#69341e"/>
<rect x="248.63" y="185" width="9.97" height="1" fill="#b06226"/>
<rect x="248.63" y="186" width="9.97" height="1" fill="#a25423"/>
<rect x="248.63" y="187" width="9.97" height="1" fill="#a2501e"/>
<rect x="248.63" y="188" width="9.97" height="1" fill="#a35e2d"/>
<rect x="248.63" y="189" width="9.97" height="1" fill="#a55e2b"/>
<rect x="248.63" y="190" width="9.97" height="1" fill="#b87737"/>
<rect x="248.63" y="191" width="9.97" height="1" fill="#b37033"/>
<rect x="248.63" y="192" width="9.97" height="1" fill="#ac632a"/>
<rect x="248.63" y="193" width="9.97" height="1" fill="#ba6f2b"/>
<rect x="248.63" y="194" width="9.97" height="1" fill="#8a4723"/>
<rect x="248.63" y="195" width="9.97" height="1" fill="#9d4f1f"/>
<rect x="248.63" y="196" width="9.97" height="1" fill="#68321d"/>
<rect x="248.63" y="197" width="9.97" height="1" fill="#d3a663"/>
<rect x="248.63" y="198" width="9.97" height="1" fill="#c2782d"/>
<rect x="248.63" y="199" width="9.97" height="1" fill="#9b572b"/>
<rect x="248.63" y="200" width="9.97" height="1" fill="#99491b"/>
<rect x="248.63" y="201" width="9.97" height="1" fill="#a35725"/>
<rect x="248.63" y="202" width="9.97" height="1" fill="#c07228"/>
<rect x="248.63" y="203" width="9.97" height="1" fill="#783d21"/>
<rect x="248.63" y="204" width="9.97" height="1" fill="#be742e"/>
<rect x="248.63" y="205" width="9.97" height="1" fill="#773418"/>
<rect x="248.63" y="206" width="9.97" height="1" fill="#662d18"/>
<rect x="248.63" y="207" width="9.97" height="1" fill="#5c2918"/>
<rect x="248.63" y="208" width="9.97" height="1" fill="#834423"/>
<rect x="248.63" y="209" width="9.97" height="1" fill="#8c4f2b"/>
<rect x="248.63" y="210" width="9.97" height="1" fill="#974e22"/>
<rect x="248.63" y="211" width="9.97" height="1" fill="#9c5d32"/>
<rect x="248.63" y="212" width="9.97" height="1" fill="#e1b870"/>
<rect x="248.63" y="213" width="9.97" height="1" fill="#b96724"/>
<rect x="248.63" y="214" width="9.97" height="1" fill="#7d3d1e"/>
<rect x="248.63" y="215" width="9.97" height="1" fill="#b2682b"/>
<path d="M61.2 54.0V216.3H258.1V54.0" fill="none" stroke="#1a1a1a" stroke-width="1.1"/>
<path d="M60.65 54.0H258.65" fill="none" stroke="#4a4438" stroke-width="0.9"/>
<g font-size="10.7" fill="#111" class="hl"><text transform="translate(68.28 221.6) rotate(-90)" text-anchor="end">PCM6</text><text transform="translate(77.65 221.6) rotate(-90)" text-anchor="end">KMS27</text><text transform="translate(87.02 221.6) rotate(-90)" text-anchor="end">H1112</text><text transform="translate(96.38 221.6) rotate(-90)" text-anchor="end">OCIMY5</text><text transform="translate(105.75 221.6) rotate(-90)" text-anchor="end">KMS12PE</text><text transform="translate(115.12 221.6) rotate(-90)" text-anchor="end">Karpas620</text><text transform="translate(124.48 221.6) rotate(-90)" text-anchor="end">KMS12BM</text><text transform="translate(133.85 221.6) rotate(-90)" text-anchor="end">U266</text><text transform="translate(143.22 221.6) rotate(-90)" text-anchor="end">L363</text><text transform="translate(152.58 221.6) rotate(-90)" text-anchor="end">RPMI8226</text><text transform="translate(161.95 221.6) rotate(-90)" text-anchor="end">KMS21BM</text><text transform="translate(171.32 221.6) rotate(-90)" text-anchor="end">KMS20</text><text transform="translate(180.68 221.6) rotate(-90)" text-anchor="end">KMS26</text><text transform="translate(190.05 221.6) rotate(-90)" text-anchor="end">KMS18</text><text transform="translate(199.42 221.6) rotate(-90)" text-anchor="end">OPM2</text><text transform="translate(208.78 221.6) rotate(-90)" text-anchor="end">MM1S</text><text transform="translate(218.15 221.6) rotate(-90)" text-anchor="end">LP1</text><text transform="translate(227.52 221.6) rotate(-90)" text-anchor="end">KMS11</text><text transform="translate(236.88 221.6) rotate(-90)" text-anchor="end">KMS28</text><text transform="translate(246.25 221.6) rotate(-90)" text-anchor="end">KMS34</text><text transform="translate(255.62 221.6) rotate(-90)" text-anchor="end">PE1</text></g>
<defs><linearGradient id="cb" x1="0" y1="0" x2="0" y2="1"><stop offset="0.000" stop-color="#1e1a1a"/><stop offset="0.105" stop-color="#3a1a14"/><stop offset="0.205" stop-color="#5a1a10"/><stop offset="0.270" stop-color="#701c10"/><stop offset="0.330" stop-color="#8a2a10"/><stop offset="0.395" stop-color="#a84010"/><stop offset="0.457" stop-color="#c86a10"/><stop offset="0.500" stop-color="#d88a10"/><stop offset="0.540" stop-color="#e0a018"/><stop offset="0.582" stop-color="#d8a830"/><stop offset="0.643" stop-color="#d0b060"/><stop offset="0.728" stop-color="#c8b490"/><stop offset="0.790" stop-color="#cfc0a8"/><stop offset="0.875" stop-color="#e0d8c8"/><stop offset="0.958" stop-color="#f4f0ea"/><stop offset="1.000" stop-color="#ffffff"/></linearGradient></defs>
<rect x="12.4" y="66.0" width="8.2" height="80.6" fill="url(#cb)" stroke="#111" stroke-width="1"/>
<path d="M20.6 66.00H24.8M20.6 82.12H24.8M20.6 98.24H24.8M20.6 114.36H24.8M20.6 130.48H24.8M20.6 146.60H24.8" stroke="#111" stroke-width="1"/>
<text x="29.29" y="69.40" font-size="11.90" textLength="7.36" lengthAdjust="spacingAndGlyphs">6</text>
<text x="29.72" y="150.50" font-size="11.90" textLength="5.98" lengthAdjust="spacingAndGlyphs">0</text>
<text class="lt" transform="translate(51.30 143.36) rotate(-90)" font-size="13.60" textLength="77.18" lengthAdjust="spacingAndGlyphs">Log<tspan font-size="9.5" dy="3.2">2</tspan><tspan dy="-3.2"> (RPM+1)</tspan></text>
<circle cx="330.0" cy="51.9" r="5.1" fill="#2d4a86"/>
<text x="339.62" y="54.90" font-size="11.00" textLength="18.29" lengthAdjust="spacingAndGlyphs">MB</text>
<circle cx="376.2" cy="51.9" r="5.1" fill="#a8062c"/>
<text x="386.09" y="55.00" font-size="11.00" textLength="14.64" lengthAdjust="spacingAndGlyphs">PC</text>
<circle cx="419.2" cy="51.9" r="5.1" fill="#66aa42"/>
<text x="429.05" y="55.00" font-size="11.00" textLength="23.08" lengthAdjust="spacingAndGlyphs">Sen.</text>
<circle cx="470.0" cy="51.9" r="5.1" fill="#e08b1c"/>
<text x="480.17" y="55.00" font-size="11.00" textLength="21.46" lengthAdjust="spacingAndGlyphs">Res.</text>
<path d="M327.9 68.5V214.8 M323.3 72.7H327.9 M323.3 107.6H327.9 M323.3 142.4H327.9 M323.3 177.2H327.9 M323.3 212.2H327.9" stroke="#111" stroke-width="1.4" fill="none"/>
<path d="M357.2 216.8H469.4 M360.7 216.8V221.6 M395.6 216.8V221.6 M430.8 216.8V221.6 M465.3 216.8V221.6" stroke="#111" stroke-width="1.4" fill="none"/>
<text x="377.93" y="238.70" font-size="14.20" textLength="70.57" lengthAdjust="spacingAndGlyphs">PC1 (68.05%)</text>
<text transform="translate(314.50 173.60) rotate(-90)" font-size="14.20" textLength="63.57" lengthAdjust="spacingAndGlyphs">PC2 (5.47%)</text>
<ellipse cx="407" cy="136.8" rx="74.8" ry="40.2" transform="rotate(3.5 407 136.8)" fill="none" stroke="#66aa42" stroke-width="1.3"/>
<ellipse cx="381.5" cy="167.8" rx="36" ry="43" fill="none" stroke="#e08b1c" stroke-width="1.3"/>
<ellipse cx="373" cy="80" rx="12.6" ry="4.0" transform="rotate(-34 373 80)" fill="none" stroke="#2d4a86" stroke-width="1.3"/>
<ellipse cx="353.4" cy="100" rx="19.6" ry="6.3" transform="rotate(16 353.4 100)" fill="none" stroke="#a8062c" stroke-width="1.3"/>
<circle cx="367.7" cy="82.9" r="2.55" fill="#2d4a86"/>
<circle cx="373.3" cy="81.5" r="2.55" fill="#2d4a86"/>
<circle cx="378.2" cy="75.2" r="2.55" fill="#2d4a86"/>
<circle cx="344.5" cy="99.7" r="2.55" fill="#a8062c"/>
<circle cx="353.6" cy="96.6" r="2.55" fill="#a8062c"/>
<circle cx="362.0" cy="103.7" r="2.55" fill="#a8062c"/>
<circle cx="384.6" cy="113.1" r="2.55" fill="#66aa42"/>
<circle cx="398.5" cy="110.3" r="2.55" fill="#66aa42"/>
<circle cx="454.8" cy="130.3" r="2.55" fill="#66aa42"/>
<circle cx="454.8" cy="153.4" r="2.55" fill="#66aa42"/>
<circle cx="366.2" cy="150.0" r="2.55" fill="#66aa42"/>
<circle cx="387.1" cy="153.1" r="2.55" fill="#66aa42"/>
<circle cx="403.4" cy="146.3" r="2.55" fill="#66aa42"/>
<circle cx="400.6" cy="126.9" r="2.55" fill="#e08b1c"/>
<circle cx="381.5" cy="136.2" r="2.55" fill="#e08b1c"/>
<circle cx="354.8" cy="153.1" r="2.55" fill="#e08b1c"/>
<circle cx="400.9" cy="154.0" r="2.55" fill="#e08b1c"/>
<circle cx="393.2" cy="160.8" r="2.55" fill="#e08b1c"/>
<circle cx="356.3" cy="164.2" r="2.55" fill="#e08b1c"/>
<circle cx="363.1" cy="168.5" r="2.55" fill="#e08b1c"/>
<circle cx="389.5" cy="174.9" r="2.55" fill="#e08b1c"/>
<circle cx="371.4" cy="178.3" r="2.55" fill="#e08b1c"/>
<circle cx="384.6" cy="179.5" r="2.55" fill="#e08b1c"/>
<circle cx="367.7" cy="183.5" r="2.55" fill="#e08b1c"/>
<circle cx="378.5" cy="187.8" r="2.55" fill="#e08b1c"/>
<circle cx="396.9" cy="191.8" r="2.55" fill="#e08b1c"/>
<circle cx="400.9" cy="190.9" r="2.55" fill="#e08b1c"/>
<text x="124.67" y="308.60" font-size="14.20" textLength="103.86" lengthAdjust="spacingAndGlyphs">Overlap of DAR</text>
<circle cx="138" cy="323.2" r="5.1" fill="#66aa42"/>
<text x="147.60" y="326.90" font-size="10.90" textLength="22.80" lengthAdjust="spacingAndGlyphs">Sen.</text>
<circle cx="189" cy="323.2" r="5.1" fill="#e08b1c"/>
<text x="197.96" y="326.90" font-size="10.90" textLength="22.93" lengthAdjust="spacingAndGlyphs">Res.</text>
<text x="11.98" y="372.20" font-size="12.10" textLength="29.48" lengthAdjust="spacingAndGlyphs">Up in</text>
<text x="11.99" y="386.50" font-size="12.10" textLength="49.75" lengthAdjust="spacingAndGlyphs">MB v. PC</text>
<text x="11.93" y="446.50" font-size="12.10" textLength="45.84" lengthAdjust="spacingAndGlyphs">Down in</text>
<text x="11.99" y="460.90" font-size="12.10" textLength="49.75" lengthAdjust="spacingAndGlyphs">MB v. PC</text>
<path d="M178.6 341.9V481" stroke="#8c8c9c" stroke-width="1.2" stroke-dasharray="4.9 3.2"/>
<path d="M192.2 352.5H218.9" stroke="#66aa42" stroke-width="1.6"/>
<circle cx="206.3" cy="352.5" r="5.2" fill="#66aa42"/>
<path d="M90.9 375.8H96.2 M99 375.8H104.3 M107.5 375.8H195.2" stroke="#e08b1c" stroke-width="1.6"/>
<circle cx="83.1" cy="375.8" r="5.2" fill="#e08b1c"/>
<path d="M109.5 445H158.8" stroke="#66aa42" stroke-width="1.6"/>
<circle cx="131.8" cy="445" r="5.2" fill="#66aa42"/>
<path d="M143 467.8H192.5" stroke="#e08b1c" stroke-width="1.6"/>
<circle cx="171.2" cy="467.8" r="5.2" fill="#e08b1c"/>
<path d="M109.3 484.9H251.7 M110.1 484.9V489.6 M144.3 484.9V489.6 M178.7 484.9V489.6 M213 484.9V489.6 M247.5 484.9V489.6" stroke="#111" stroke-width="1.6" fill="none"/>
<path d="M78.3 484.9H82.8V489.6 M86.2 484.9H91.5 M94.9 484.9H100.3 M103.6 484.9H108.4" stroke="#111" stroke-width="1.6" fill="none"/>
<text x="83.5" y="503.7" font-size="11.3" text-anchor="middle">-&#8734;</text>
<text x="104.18" y="504.10" font-size="11.30" textLength="11.15" lengthAdjust="spacingAndGlyphs">-4</text>
<text x="128.83" y="504.10" font-size="11.30" textLength="29.91" lengthAdjust="spacingAndGlyphs">Odds</text>
<text x="165.59" y="504.10" font-size="11.30" textLength="24.84" lengthAdjust="spacingAndGlyphs">ratio</text>
<text x="196.96" y="504.10" font-size="11.30" textLength="31.75" lengthAdjust="spacingAndGlyphs">(log2)</text>
<text x="244.84" y="504.10" font-size="11.30" textLength="5.76" lengthAdjust="spacingAndGlyphs">4</text>
<text x="305.14" y="344.00" font-size="12.10" textLength="13.43" lengthAdjust="spacingAndGlyphs">10</text>
<text x="311.35" y="482.90" font-size="12.10" textLength="7.58" lengthAdjust="spacingAndGlyphs">2</text>
<text transform="translate(296.50 424.89) rotate(-90)" font-size="14.20" textLength="29.76" lengthAdjust="spacingAndGlyphs">RPPM</text>
<text x="337.89" y="308.60" font-size="13.80" textLength="61.05" lengthAdjust="spacingAndGlyphs">Res. DAR</text>
<path d="M327.9 336.6V484.0 M323.2 341.1H327.9M323.2 375.6H327.9M323.2 410.0H327.9M323.2 444.6H327.9M323.2 479.2H327.9" stroke="#111" stroke-width="1.5" fill="none"/>
<path d="M344.7 484.8H391.5 M349.0 484.8V489.4 M387.2 484.8V489.4" stroke="#111" stroke-width="1.5" fill="none"/>
<text x="350.01" y="344.90" font-size="10.90" textLength="36.96" lengthAdjust="spacingAndGlyphs">P=0.69</text>
<path d="M349.6 352.6H387.1" stroke="#111" stroke-width="1.5"/>
<text x="339.93" y="504.10" font-size="11.90" textLength="19.04" lengthAdjust="spacingAndGlyphs">MB</text>
<text x="379.00" y="504.10" font-size="11.90" textLength="16.44" lengthAdjust="spacingAndGlyphs">PC</text>
<circle cx="349.6" cy="425.4" r="4.45" fill="#2d4a86" stroke="#213c78" stroke-width="0.7"/>
<circle cx="357.7" cy="424.4" r="4.45" fill="#2d4a86" stroke="#213c78" stroke-width="0.7"/>
<circle cx="349.6" cy="448.1" r="4.45" fill="#2d4a86" stroke="#213c78" stroke-width="0.7"/>
<circle cx="387.1" cy="419.2" r="4.45" fill="#a8062c" stroke="#8e0022" stroke-width="0.7"/>
<circle cx="387.1" cy="436.2" r="4.45" fill="#a8062c" stroke="#8e0022" stroke-width="0.7"/>
<circle cx="387.1" cy="460.0" r="4.45" fill="#a8062c" stroke="#8e0022" stroke-width="0.7"/>
<path d="M349.0 419.2V446.5 M345.4 419.2H352.6 M345.4 446.5H352.6 M341.6 432.7H356.4" stroke="#111" stroke-width="1.5" fill="none"/>
<path d="M387.2 418.7V458.7 M383.6 418.7H390.8 M383.6 458.7H390.8 M379.8 438.8H394.6" stroke="#111" stroke-width="1.5" fill="none"/>
<text x="445.09" y="308.60" font-size="13.80" textLength="63.12" lengthAdjust="spacingAndGlyphs">Sen. DAR</text>
<path d="M435.9 336.6V484.0 M431.2 341.1H435.9M431.2 375.6H435.9M431.2 410.0H435.9M431.2 444.6H435.9M431.2 479.2H435.9" stroke="#111" stroke-width="1.5" fill="none"/>
<path d="M453.3 484.8H499.6 M457.6 484.8V489.4 M495.2 484.8V489.4" stroke="#111" stroke-width="1.5" fill="none"/>
<text x="451.22" y="344.90" font-size="10.90" textLength="50.08" lengthAdjust="spacingAndGlyphs">P=0.0359</text>
<path d="M457.7 352.6H495.3" stroke="#111" stroke-width="1.5"/>
<text x="447.68" y="504.30" font-size="11.90" textLength="19.16" lengthAdjust="spacingAndGlyphs">MB</text>
<text x="487.11" y="504.30" font-size="11.90" textLength="16.36" lengthAdjust="spacingAndGlyphs">PC</text>
<circle cx="457.7" cy="362.6" r="4.45" fill="#2d4a86" stroke="#213c78" stroke-width="0.7"/>
<circle cx="457.7" cy="381.0" r="4.45" fill="#2d4a86" stroke="#213c78" stroke-width="0.7"/>
<circle cx="457.7" cy="394.5" r="4.45" fill="#2d4a86" stroke="#213c78" stroke-width="0.7"/>
<circle cx="495.2" cy="407.3" r="4.45" fill="#a8062c" stroke="#8e0022" stroke-width="0.7"/>
<circle cx="495.2" cy="431.4" r="4.45" fill="#a8062c" stroke="#8e0022" stroke-width="0.7"/>
<circle cx="495.2" cy="455.9" r="4.45" fill="#a8062c" stroke="#8e0022" stroke-width="0.7"/>
<path d="M457.6 363.2V395.0 M454.0 363.2H461.2 M454.0 395.0H461.2 M450.2 379.8H465.0" stroke="#111" stroke-width="1.5" fill="none"/>
<path d="M495.2 407.7V455.2 M491.6 407.7H498.9 M491.6 455.2H498.9 M487.9 431.5H502.6" stroke="#111" stroke-width="1.5" fill="none"/>
</g>
<rect x="0.75" y="0.75" width="518.5" height="518.5" fill="none" stroke="#000" stroke-width="1.5"/>
</svg>
</body></html>
